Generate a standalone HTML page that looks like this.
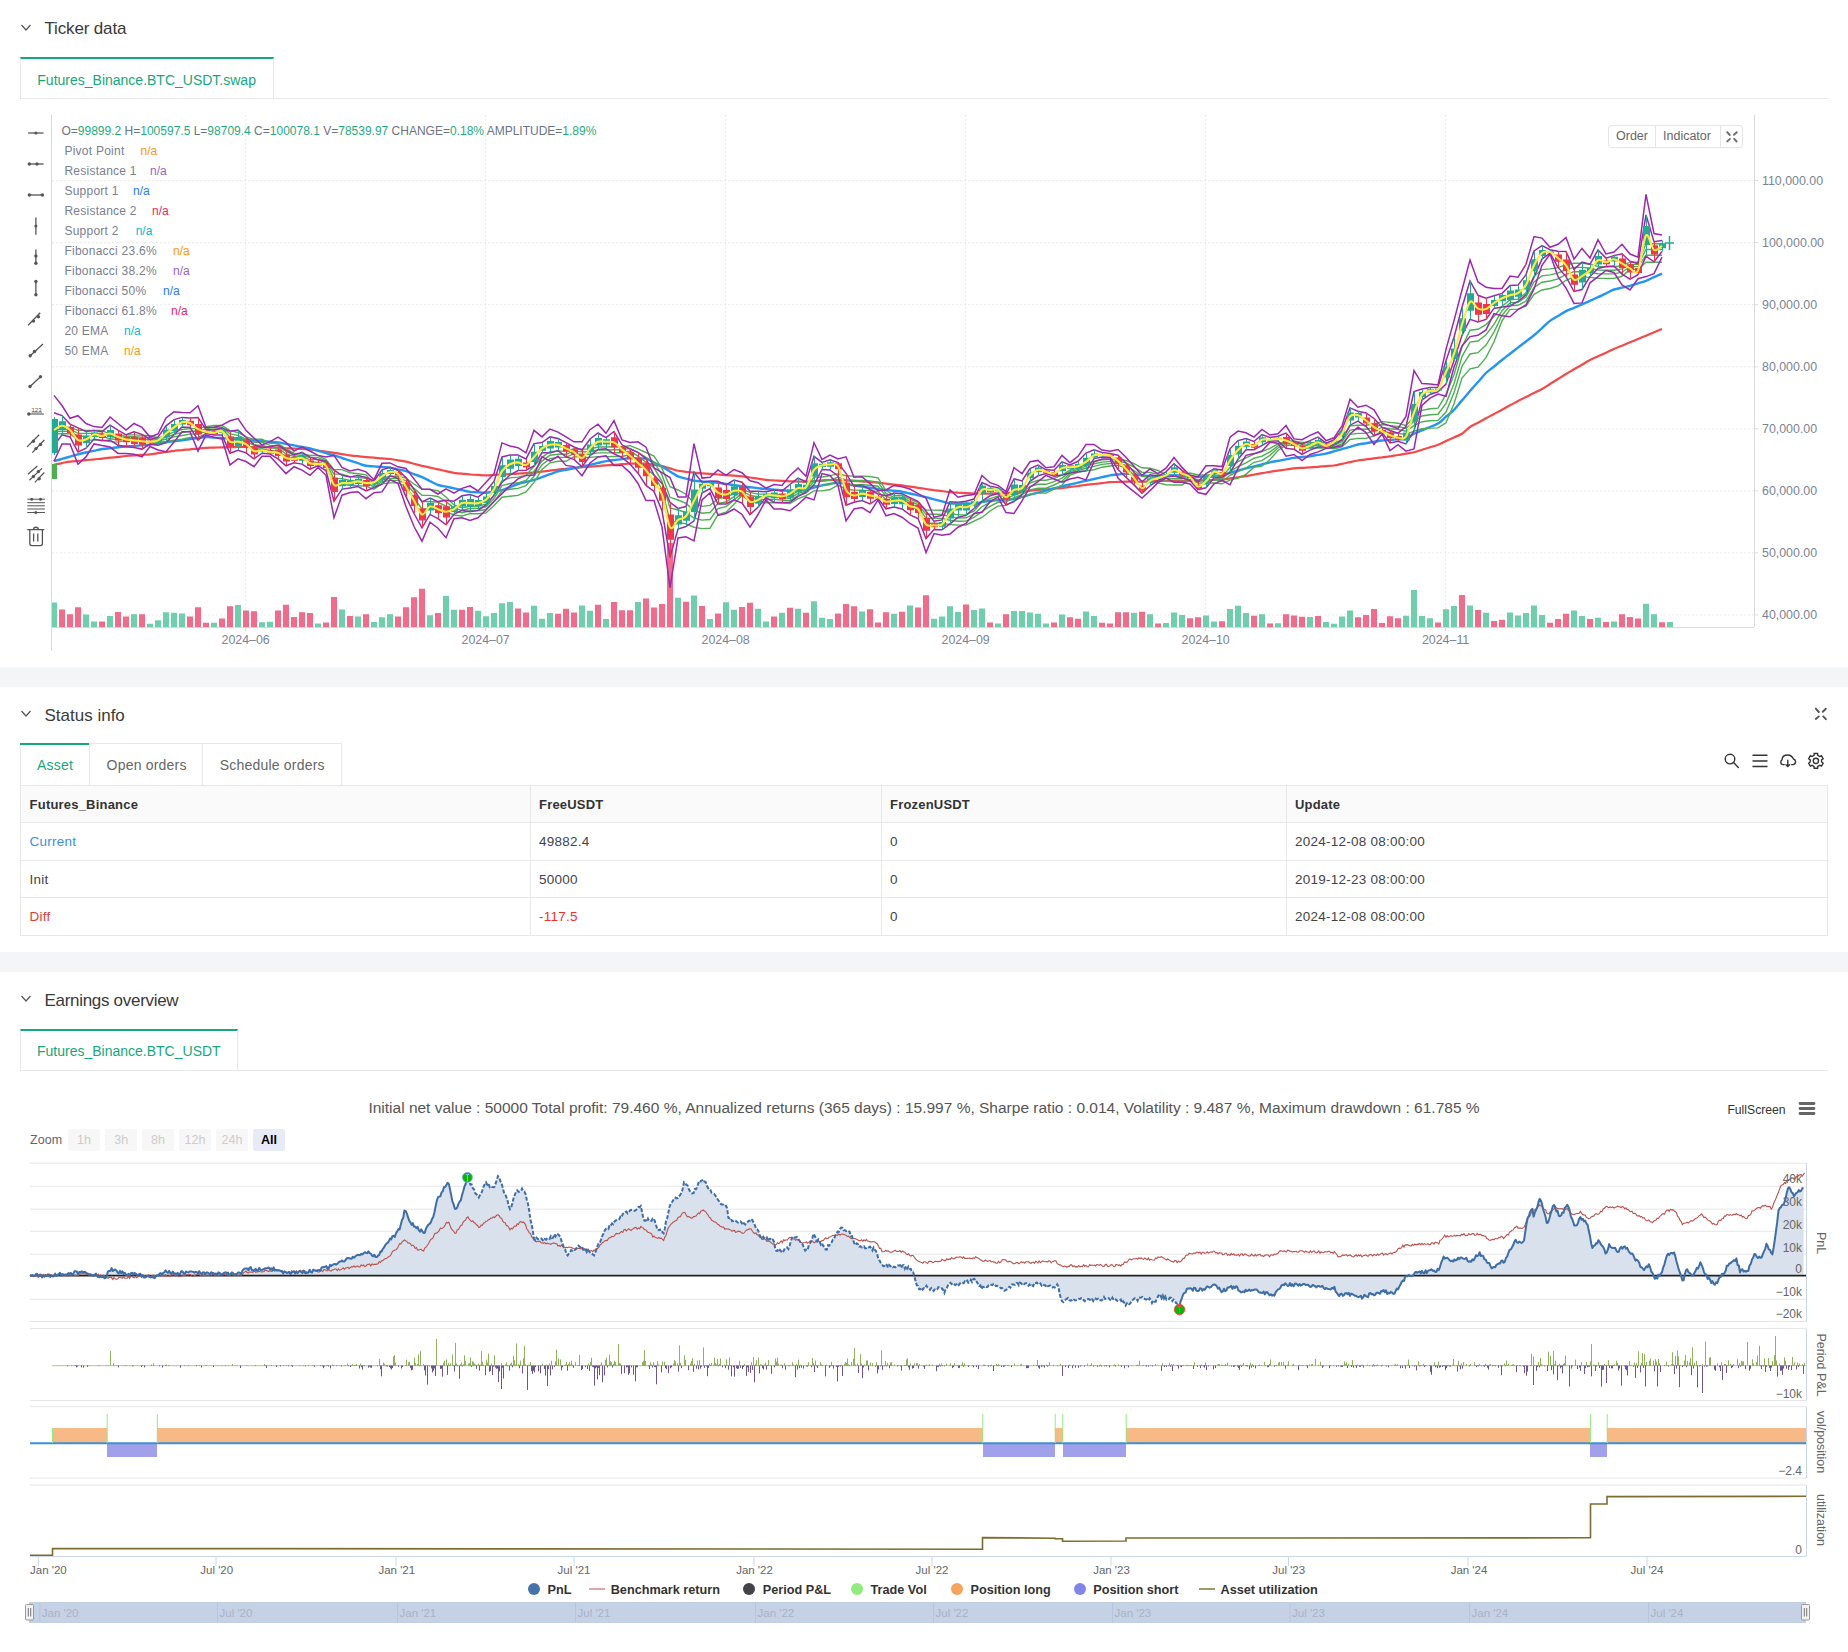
<!DOCTYPE html>
<html><head><meta charset="utf-8"><title>Ticker data</title>
<style>
html,body{margin:0;padding:0;}
body{width:1848px;height:1652px;position:relative;overflow:hidden;background:#fff;font-family:"Liberation Sans", sans-serif;}
.t{position:absolute;white-space:nowrap;line-height:1;}
.r{position:absolute;box-sizing:border-box;}
svg{position:absolute;left:0;top:0;overflow:visible}
</style></head><body>

<div class="r" style="left:0px;top:667px;width:1848px;height:20px;background:#f4f5f7"></div>
<div class="r" style="left:0px;top:952px;width:1848px;height:20px;background:#f4f5f7"></div>
<svg width="40" height="20" style="left:0;top:19.5px"><path d="M21.5 5 L26 10 L30.5 5" fill="none" stroke="#555" stroke-width="1.2"/></svg>
<div class="t" style="left:44.5px;top:19.6px;font-size:17px;color:#3a3a3a;font-weight:normal;letter-spacing:-0.15px">Ticker data</div>
<div class="r" style="left:20px;top:57px;width:254px;height:42px;border-top:2px solid #14a87a;border-left:1px solid #e8e8e8;border-right:1px solid #e8e8e8"></div>
<div class="r" style="left:20px;top:98px;width:1808px;height:1px;background:#e8e8e8"></div>
<div class="t" style="left:37.3px;top:72.5px;font-size:14px;color:#14a87a;font-weight:normal;">Futures_Binance.BTC_USDT.swap</div>
<svg width="40" height="20" style="left:0;top:705.5px"><path d="M21.5 5 L26 10 L30.5 5" fill="none" stroke="#555" stroke-width="1.2"/></svg>
<div class="t" style="left:44.5px;top:706.8px;font-size:17px;color:#3a3a3a;font-weight:normal;letter-spacing:0px">Status info</div>
<div class="r" style="left:20px;top:743px;width:322px;height:43px;border:1px solid #e8e8e8;border-bottom:none"></div>
<div class="r" style="left:20px;top:743px;width:70px;height:2px;background:#14a87a"></div>
<div class="r" style="left:89px;top:743px;width:1px;height:42px;background:#e8e8e8"></div>
<div class="r" style="left:202px;top:743px;width:1px;height:42px;background:#e8e8e8"></div>
<div class="t" style="left:37.0px;top:758.0px;font-size:14px;color:#14a87a;font-weight:normal;letter-spacing:0.2px">Asset</div>
<div class="t" style="left:106.6px;top:758.0px;font-size:14px;color:#666;font-weight:normal;letter-spacing:0.2px">Open orders</div>
<div class="t" style="left:219.8px;top:758.0px;font-size:14px;color:#666;font-weight:normal;letter-spacing:0.2px">Schedule orders</div>
<svg width="1848" height="80" style="left:0;top:700px"><g fill="none" stroke="#555" stroke-width="1.9" stroke-linecap="round"><path d="M1815.8,8.6 L1818.8,12 M1825.9,8.8 L1822.8,11.8 M1815.8,19 L1818.8,16.4 M1825.9,19.2 L1823.2,16.4"/></g><g fill="none" stroke="#333" stroke-width="1.4" stroke-linecap="round"><circle cx="1730" cy="59.1" r="4.8"/><path d="M1733.6,62.6 L1738.3,67.4"/><path d="M1753,55.3 H1767 M1753,61 H1767 M1753,66.5 H1767"/><path d="M1784.2,64.6 H1782.8 C1780.4,64.6 1780.2,60.8 1782,59.8 C1782.2,56.5 1784.8,55 1787.8,55 C1790.8,55 1792.6,57.2 1793.5,59 C1796.2,59.6 1796.4,64.2 1793,64.6 H1791.6"/><path d="M1787.8,60.2 V66.5 M1786,64.7 L1787.8,66.6 L1789.6,64.7"/><path d="M1814.01,55.42 L1814.19,53.49 L1817.61,53.49 L1817.79,55.42 L1819.71,56.52 L1821.46,55.72 L1823.17,58.68 L1821.59,59.79 L1821.59,62.01 L1823.17,63.12 L1821.46,66.08 L1819.71,65.28 L1817.79,66.38 L1817.61,68.31 L1814.19,68.31 L1814.01,66.38 L1812.09,65.28 L1810.34,66.08 L1808.63,63.12 L1810.21,62.01 L1810.21,59.79 L1808.63,58.68 L1810.34,55.72 L1812.09,56.52 Z"/><circle cx="1815.9" cy="60.9" r="2.6"/></g></svg>
<div class="r" style="left:20px;top:785px;width:1808px;height:151px;border:1px solid #e8e8e8"></div>
<div class="r" style="left:21px;top:786px;width:1806px;height:36px;background:#fafafa"></div>
<div class="r" style="left:20px;top:822px;width:1808px;height:1px;background:#e8e8e8"></div>
<div class="r" style="left:20px;top:860px;width:1808px;height:1px;background:#e8e8e8"></div>
<div class="r" style="left:20px;top:897px;width:1808px;height:1px;background:#e8e8e8"></div>
<div class="r" style="left:530px;top:785px;width:1px;height:151px;background:#e8e8e8"></div>
<div class="r" style="left:881px;top:785px;width:1px;height:151px;background:#e8e8e8"></div>
<div class="r" style="left:1286px;top:785px;width:1px;height:151px;background:#e8e8e8"></div>
<div class="t" style="left:29.6px;top:797.8px;font-size:13px;color:#333;font-weight:bold;letter-spacing:0.2px">Futures_Binance</div>
<div class="t" style="left:539.0px;top:797.8px;font-size:13px;color:#333;font-weight:bold;letter-spacing:0.2px">FreeUSDT</div>
<div class="t" style="left:890.0px;top:797.8px;font-size:13px;color:#333;font-weight:bold;letter-spacing:0.2px">FrozenUSDT</div>
<div class="t" style="left:1295.0px;top:797.8px;font-size:13px;color:#333;font-weight:bold;letter-spacing:0.2px">Update</div>
<div class="t" style="left:29.6px;top:834.6px;font-size:13.5px;color:#3b8fe0;font-weight:normal;letter-spacing:0.25px">Current</div>
<div class="t" style="left:539.0px;top:834.6px;font-size:13.5px;color:#444;font-weight:normal;letter-spacing:0.25px">49882.4</div>
<div class="t" style="left:890.0px;top:834.6px;font-size:13.5px;color:#444;font-weight:normal;letter-spacing:0.25px">0</div>
<div class="t" style="left:1295.0px;top:834.6px;font-size:13.5px;color:#444;font-weight:normal;letter-spacing:0.25px">2024-12-08 08:00:00</div>
<div class="t" style="left:29.6px;top:872.6px;font-size:13.5px;color:#444;font-weight:normal;letter-spacing:0.25px">Init</div>
<div class="t" style="left:539.0px;top:872.6px;font-size:13.5px;color:#444;font-weight:normal;letter-spacing:0.25px">50000</div>
<div class="t" style="left:890.0px;top:872.6px;font-size:13.5px;color:#444;font-weight:normal;letter-spacing:0.25px">0</div>
<div class="t" style="left:1295.0px;top:872.6px;font-size:13.5px;color:#444;font-weight:normal;letter-spacing:0.25px">2019-12-23 08:00:00</div>
<div class="t" style="left:29.6px;top:909.6px;font-size:13.5px;color:#e0403a;font-weight:normal;letter-spacing:0.25px">Diff</div>
<div class="t" style="left:539.0px;top:909.6px;font-size:13.5px;color:#f0302a;font-weight:normal;letter-spacing:0.25px">-117.5</div>
<div class="t" style="left:890.0px;top:909.6px;font-size:13.5px;color:#444;font-weight:normal;letter-spacing:0.25px">0</div>
<div class="t" style="left:1295.0px;top:909.6px;font-size:13.5px;color:#444;font-weight:normal;letter-spacing:0.25px">2024-12-08 08:00:00</div>
<svg width="40" height="20" style="left:0;top:991px"><path d="M21.5 5 L26 10 L30.5 5" fill="none" stroke="#555" stroke-width="1.2"/></svg>
<div class="t" style="left:44.5px;top:991.6px;font-size:17px;color:#3a3a3a;font-weight:normal;letter-spacing:-0.3px">Earnings overview</div>
<div class="r" style="left:20px;top:1029px;width:218px;height:42px;border-top:2px solid #14a87a;border-left:1px solid #e8e8e8;border-right:1px solid #e8e8e8"></div>
<div class="r" style="left:20px;top:1070px;width:1808px;height:1px;background:#e8e8e8"></div>
<div class="t" style="left:37.0px;top:1044.1px;font-size:14px;color:#14a87a;font-weight:normal;">Futures_Binance.BTC_USDT</div>
<svg width="1848" height="667" viewBox="0 0 1848 667" style="left:0;top:0">
<defs><clipPath id="pc"><rect x="52" y="115" width="1702" height="512"/></clipPath></defs>
<path d="M52,180.6 H1754 M52,242.6 H1754 M52,304.7 H1754 M52,366.8 H1754 M52,428.8 H1754 M52,490.9 H1754 M52,552.9 H1754 M52,614.9 H1754 M245.6,115 V627 M485.6,115 V627 M725.6,115 V627 M965.6,115 V627 M1205.6,115 V627 M1445.6,115 V627" stroke="#ebebeb" stroke-width="1" stroke-dasharray="2,2" fill="none"/>
<path d="M51.5,115 V651 M1754.5,115 V627 M52,627.5 H1754" stroke="#d9d9d9" stroke-width="1" fill="none"/>
<path d="M1754,180.6 H1758 M1754,242.6 H1758 M1754,304.7 H1758 M1754,366.8 H1758 M1754,428.8 H1758 M1754,490.9 H1758 M1754,552.9 H1758 M1754,614.9 H1758" stroke="#d9d9d9" stroke-width="1"/>
<path d="M245.6,627 V631 M485.6,627 V631 M725.6,627 V631 M965.6,627 V631 M1205.6,627 V631 M1445.6,627 V631" stroke="#d9d9d9" stroke-width="1"/>
<g clip-path="url(#pc)">
<path d="M51,602.5 h6 V627 h-6 Z M83,614.4 h6 V627 h-6 Z M91,621.4 h6 V627 h-6 Z M107,616.0 h6 V627 h-6 Z M131,614.2 h6 V627 h-6 Z M147,623.8 h6 V627 h-6 Z M155,620.3 h6 V627 h-6 Z M163,612.3 h6 V627 h-6 Z M171,612.7 h6 V627 h-6 Z M179,613.4 h6 V627 h-6 Z M211,622.7 h6 V627 h-6 Z M235,605.1 h6 V627 h-6 Z M259,622.2 h6 V627 h-6 Z M267,621.8 h6 V627 h-6 Z M315,623.5 h6 V627 h-6 Z M339,609.5 h6 V627 h-6 Z M355,616.4 h6 V627 h-6 Z M371,622.0 h6 V627 h-6 Z M379,617.3 h6 V627 h-6 Z M387,614.2 h6 V627 h-6 Z M427,615.3 h6 V627 h-6 Z M443,596.0 h6 V627 h-6 Z M451,609.7 h6 V627 h-6 Z M475,610.8 h6 V627 h-6 Z M483,616.2 h6 V627 h-6 Z M491,612.9 h6 V627 h-6 Z M499,603.2 h6 V627 h-6 Z M507,601.9 h6 V627 h-6 Z M531,605.8 h6 V627 h-6 Z M539,618.8 h6 V627 h-6 Z M547,612.9 h6 V627 h-6 Z M579,605.4 h6 V627 h-6 Z M587,610.8 h6 V627 h-6 Z M603,619.0 h6 V627 h-6 Z M635,601.9 h6 V627 h-6 Z M675,597.8 h6 V627 h-6 Z M691,595.6 h6 V627 h-6 Z M707,619.0 h6 V627 h-6 Z M723,602.3 h6 V627 h-6 Z M731,609.7 h6 V627 h-6 Z M755,608.8 h6 V627 h-6 Z M763,621.6 h6 V627 h-6 Z M779,612.7 h6 V627 h-6 Z M795,608.8 h6 V627 h-6 Z M811,601.2 h6 V627 h-6 Z M819,617.7 h6 V627 h-6 Z M827,619.0 h6 V627 h-6 Z M859,611.4 h6 V627 h-6 Z M891,613.8 h6 V627 h-6 Z M907,605.4 h6 V627 h-6 Z M931,618.8 h6 V627 h-6 Z M939,616.4 h6 V627 h-6 Z M947,606.2 h6 V627 h-6 Z M955,612.1 h6 V627 h-6 Z M971,609.9 h6 V627 h-6 Z M979,608.6 h6 V627 h-6 Z M995,623.5 h6 V627 h-6 Z M1011,611.0 h6 V627 h-6 Z M1019,611.0 h6 V627 h-6 Z M1027,612.5 h6 V627 h-6 Z M1035,613.8 h6 V627 h-6 Z M1043,623.5 h6 V627 h-6 Z M1059,614.4 h6 V627 h-6 Z M1083,611.4 h6 V627 h-6 Z M1091,616.0 h6 V627 h-6 Z M1131,612.7 h6 V627 h-6 Z M1147,614.2 h6 V627 h-6 Z M1163,622.9 h6 V627 h-6 Z M1171,612.5 h6 V627 h-6 Z M1179,615.1 h6 V627 h-6 Z M1203,615.5 h6 V627 h-6 Z M1211,621.6 h6 V627 h-6 Z M1227,609.0 h6 V627 h-6 Z M1235,605.8 h6 V627 h-6 Z M1243,612.9 h6 V627 h-6 Z M1259,614.2 h6 V627 h-6 Z M1275,623.3 h6 V627 h-6 Z M1307,617.0 h6 V627 h-6 Z M1323,622.1 h6 V627 h-6 Z M1331,623.7 h6 V627 h-6 Z M1339,616.5 h6 V627 h-6 Z M1347,610.5 h6 V627 h-6 Z M1403,615.8 h6 V627 h-6 Z M1411,590.0 h6 V627 h-6 Z M1419,616.1 h6 V627 h-6 Z M1427,618.2 h6 V627 h-6 Z M1443,609.3 h6 V627 h-6 Z M1451,606.1 h6 V627 h-6 Z M1467,605.4 h6 V627 h-6 Z M1483,612.8 h6 V627 h-6 Z M1507,612.6 h6 V627 h-6 Z M1515,615.4 h6 V627 h-6 Z M1523,613.0 h6 V627 h-6 Z M1531,605.6 h6 V627 h-6 Z M1539,614.9 h6 V627 h-6 Z M1571,610.5 h6 V627 h-6 Z M1579,616.1 h6 V627 h-6 Z M1595,617.7 h6 V627 h-6 Z M1611,621.4 h6 V627 h-6 Z M1643,603.7 h6 V627 h-6 Z M1651,614.2 h6 V627 h-6 Z M1667,621.9 h6 V627 h-6 Z" fill="#6dcfac"/>
<path d="M59,609.5 h6 V627 h-6 Z M67,614.2 h6 V627 h-6 Z M75,607.3 h6 V627 h-6 Z M99,621.4 h6 V627 h-6 Z M115,612.1 h6 V627 h-6 Z M123,616.6 h6 V627 h-6 Z M139,614.2 h6 V627 h-6 Z M187,616.6 h6 V627 h-6 Z M195,607.3 h6 V627 h-6 Z M203,622.7 h6 V627 h-6 Z M219,618.6 h6 V627 h-6 Z M227,606.2 h6 V627 h-6 Z M243,610.5 h6 V627 h-6 Z M251,611.2 h6 V627 h-6 Z M275,610.5 h6 V627 h-6 Z M283,604.7 h6 V627 h-6 Z M291,617.0 h6 V627 h-6 Z M299,612.3 h6 V627 h-6 Z M307,613.1 h6 V627 h-6 Z M323,622.5 h6 V627 h-6 Z M331,597.1 h6 V627 h-6 Z M347,616.0 h6 V627 h-6 Z M363,614.2 h6 V627 h-6 Z M395,616.4 h6 V627 h-6 Z M403,607.3 h6 V627 h-6 Z M411,597.3 h6 V627 h-6 Z M419,588.7 h6 V627 h-6 Z M435,613.1 h6 V627 h-6 Z M459,609.7 h6 V627 h-6 Z M467,607.1 h6 V627 h-6 Z M515,608.4 h6 V627 h-6 Z M523,612.5 h6 V627 h-6 Z M555,613.8 h6 V627 h-6 Z M563,608.8 h6 V627 h-6 Z M571,612.5 h6 V627 h-6 Z M595,604.7 h6 V627 h-6 Z M611,601.9 h6 V627 h-6 Z M619,610.3 h6 V627 h-6 Z M627,610.3 h6 V627 h-6 Z M643,598.6 h6 V627 h-6 Z M651,607.5 h6 V627 h-6 Z M659,604.1 h6 V627 h-6 Z M667,542.7 h6 V627 h-6 Z M683,601.7 h6 V627 h-6 Z M699,606.0 h6 V627 h-6 Z M715,613.4 h6 V627 h-6 Z M739,607.1 h6 V627 h-6 Z M747,602.8 h6 V627 h-6 Z M771,616.6 h6 V627 h-6 Z M787,607.7 h6 V627 h-6 Z M803,612.7 h6 V627 h-6 Z M835,613.6 h6 V627 h-6 Z M843,604.1 h6 V627 h-6 Z M851,606.2 h6 V627 h-6 Z M867,609.3 h6 V627 h-6 Z M875,622.5 h6 V627 h-6 Z M883,612.3 h6 V627 h-6 Z M899,611.8 h6 V627 h-6 Z M915,607.5 h6 V627 h-6 Z M923,595.2 h6 V627 h-6 Z M963,604.5 h6 V627 h-6 Z M987,622.5 h6 V627 h-6 Z M1003,614.2 h6 V627 h-6 Z M1051,622.5 h6 V627 h-6 Z M1067,617.3 h6 V627 h-6 Z M1075,618.8 h6 V627 h-6 Z M1099,622.7 h6 V627 h-6 Z M1107,623.5 h6 V627 h-6 Z M1115,612.3 h6 V627 h-6 Z M1123,612.3 h6 V627 h-6 Z M1139,611.8 h6 V627 h-6 Z M1155,623.5 h6 V627 h-6 Z M1187,618.3 h6 V627 h-6 Z M1195,617.3 h6 V627 h-6 Z M1219,621.2 h6 V627 h-6 Z M1251,615.8 h6 V627 h-6 Z M1267,623.5 h6 V627 h-6 Z M1283,614.2 h6 V627 h-6 Z M1291,615.4 h6 V627 h-6 Z M1299,616.8 h6 V627 h-6 Z M1315,616.1 h6 V627 h-6 Z M1355,617.2 h6 V627 h-6 Z M1363,615.1 h6 V627 h-6 Z M1371,609.1 h6 V627 h-6 Z M1379,623.0 h6 V627 h-6 Z M1387,616.3 h6 V627 h-6 Z M1395,618.2 h6 V627 h-6 Z M1435,622.6 h6 V627 h-6 Z M1459,595.1 h6 V627 h-6 Z M1475,610.0 h6 V627 h-6 Z M1491,621.0 h6 V627 h-6 Z M1499,619.8 h6 V627 h-6 Z M1547,622.8 h6 V627 h-6 Z M1555,619.1 h6 V627 h-6 Z M1563,613.7 h6 V627 h-6 Z M1587,619.1 h6 V627 h-6 Z M1603,622.1 h6 V627 h-6 Z M1619,614.2 h6 V627 h-6 Z M1627,617.0 h6 V627 h-6 Z M1635,618.6 h6 V627 h-6 Z M1659,622.3 h6 V627 h-6 Z" fill="#f46a8a"/>
<path d="M54.0,464.7 C55.3,464.4 59.3,463.7 62.0,463.1 C64.7,462.6 67.3,462.0 70.0,461.6 C72.7,461.2 75.3,461.1 78.0,460.9 C80.7,460.6 83.3,460.4 86.0,460.1 C88.7,459.9 91.3,459.6 94.0,459.4 C96.7,459.1 99.3,458.9 102.0,458.6 C104.7,458.3 107.3,458.0 110.0,457.7 C112.7,457.4 115.3,457.2 118.0,456.9 C120.7,456.6 123.3,456.2 126.0,456.0 C128.7,455.8 131.3,455.6 134.0,455.4 C136.7,455.2 139.3,455.1 142.0,454.9 C144.7,454.7 147.3,454.6 150.0,454.3 C152.7,454.0 155.3,453.5 158.0,453.1 C160.7,452.7 163.3,452.4 166.0,452.0 C168.7,451.6 171.3,451.1 174.0,450.8 C176.7,450.5 179.3,450.3 182.0,450.1 C184.7,449.8 187.3,449.6 190.0,449.3 C192.7,449.1 195.3,448.8 198.0,448.6 C200.7,448.3 203.3,448.0 206.0,447.8 C208.7,447.6 211.3,447.7 214.0,447.6 C216.7,447.5 219.3,447.5 222.0,447.4 C224.7,447.3 227.3,447.3 230.0,447.2 C232.7,447.1 235.3,447.1 238.0,447.0 C240.7,446.9 243.3,446.8 246.0,446.8 C248.7,446.8 251.3,446.9 254.0,447.0 C256.7,447.1 259.3,447.1 262.0,447.2 C264.7,447.3 267.3,447.3 270.0,447.4 C272.7,447.5 275.3,447.5 278.0,447.6 C280.7,447.7 283.3,447.9 286.0,448.1 C288.7,448.2 291.3,448.4 294.0,448.5 C296.7,448.6 299.3,448.8 302.0,448.9 C304.7,449.1 307.3,449.1 310.0,449.4 C312.7,449.7 315.3,450.2 318.0,450.5 C320.7,450.9 323.3,451.3 326.0,451.7 C328.7,452.0 331.3,452.4 334.0,452.8 C336.7,453.2 339.3,453.7 342.0,454.1 C344.7,454.5 347.3,455.0 350.0,455.4 C352.7,455.8 355.3,456.0 358.0,456.2 C360.7,456.5 363.3,456.9 366.0,457.1 C368.7,457.3 371.3,457.5 374.0,457.7 C376.7,457.9 379.3,458.2 382.0,458.4 C384.7,458.6 387.3,458.7 390.0,459.0 C392.7,459.3 395.3,459.9 398.0,460.3 C400.7,460.7 403.3,461.0 406.0,461.6 C408.7,462.2 411.3,463.0 414.0,463.8 C416.7,464.5 419.3,465.2 422.0,465.9 C424.7,466.5 427.3,467.1 430.0,467.6 C432.7,468.2 435.3,468.8 438.0,469.4 C440.7,470.0 443.3,470.5 446.0,471.1 C448.7,471.7 451.3,472.4 454.0,472.8 C456.7,473.2 459.3,473.4 462.0,473.6 C464.7,473.9 467.3,474.3 470.0,474.5 C472.7,474.7 475.3,474.8 478.0,474.9 C480.7,475.1 483.3,475.4 486.0,475.4 C488.7,475.4 491.3,475.1 494.0,474.9 C496.7,474.8 499.3,474.6 502.0,474.5 C504.7,474.4 507.3,474.2 510.0,474.1 C512.7,474.0 515.3,473.9 518.0,473.7 C520.7,473.5 523.3,473.3 526.0,473.1 C528.7,473.0 531.3,472.9 534.0,472.6 C536.7,472.3 539.3,471.9 542.0,471.6 C544.7,471.3 547.3,470.9 550.0,470.6 C552.7,470.3 555.3,469.9 558.0,469.6 C560.7,469.3 563.3,469.1 566.0,468.8 C568.7,468.5 571.3,468.3 574.0,468.0 C576.7,467.7 579.3,467.4 582.0,467.2 C584.7,467.0 587.3,466.8 590.0,466.6 C592.7,466.4 595.3,466.2 598.0,466.0 C600.7,465.8 603.3,465.6 606.0,465.4 C608.7,465.2 611.3,465.0 614.0,464.8 C616.7,464.6 619.3,464.4 622.0,464.2 C624.7,464.0 627.3,463.7 630.0,463.6 C632.7,463.5 635.3,463.6 638.0,463.6 C640.7,463.6 643.3,463.4 646.0,463.6 C648.7,463.8 651.3,464.4 654.0,464.8 C656.7,465.2 659.3,465.4 662.0,466.0 C664.7,466.6 667.3,467.6 670.0,468.4 C672.7,469.2 675.3,470.2 678.0,470.8 C680.7,471.4 683.3,471.4 686.0,471.8 C688.7,472.1 691.3,472.4 694.0,472.7 C696.7,473.0 699.3,473.1 702.0,473.3 C704.7,473.5 707.3,473.7 710.0,473.9 C712.7,474.1 715.3,474.3 718.0,474.5 C720.7,474.7 723.3,474.9 726.0,475.1 C728.7,475.3 731.3,475.5 734.0,475.7 C736.7,475.9 739.3,476.0 742.0,476.3 C744.7,476.6 747.3,477.1 750.0,477.5 C752.7,477.9 755.3,478.3 758.0,478.7 C760.7,479.1 763.3,479.6 766.0,479.9 C768.7,480.2 771.3,480.2 774.0,480.4 C776.7,480.5 779.3,480.7 782.0,480.8 C784.7,481.0 787.3,481.2 790.0,481.3 C792.7,481.4 795.3,481.5 798.0,481.6 C800.7,481.6 803.3,481.9 806.0,481.8 C808.7,481.7 811.3,481.3 814.0,481.1 C816.7,480.9 819.3,480.6 822.0,480.4 C824.7,480.2 827.3,480.2 830.0,480.1 C832.7,480.1 835.3,479.9 838.0,479.9 C840.7,479.9 843.3,480.2 846.0,480.4 C848.7,480.5 851.3,480.6 854.0,480.8 C856.7,481.0 859.3,481.2 862.0,481.4 C864.7,481.6 867.3,481.9 870.0,482.1 C872.7,482.3 875.3,482.4 878.0,482.7 C880.7,483.0 883.3,483.3 886.0,483.6 C888.7,483.9 891.3,484.2 894.0,484.5 C896.7,484.8 899.3,485.0 902.0,485.4 C904.7,485.8 907.3,486.2 910.0,486.6 C912.7,487.0 915.3,487.4 918.0,487.8 C920.7,488.2 923.3,488.6 926.0,489.0 C928.7,489.4 931.3,489.7 934.0,490.1 C936.7,490.4 939.3,490.8 942.0,491.1 C944.7,491.5 947.3,491.9 950.0,492.2 C952.7,492.5 955.3,492.5 958.0,492.7 C960.7,492.8 963.3,493.0 966.0,493.1 C968.7,493.3 971.3,493.5 974.0,493.6 C976.7,493.7 979.3,493.6 982.0,493.6 C984.7,493.6 987.3,493.7 990.0,493.6 C992.7,493.5 995.3,493.4 998.0,493.3 C1000.7,493.2 1003.3,493.0 1006.0,492.9 C1008.7,492.8 1011.3,492.8 1014.0,492.6 C1016.7,492.4 1019.3,492.0 1022.0,491.7 C1024.7,491.4 1027.3,491.1 1030.0,490.8 C1032.7,490.5 1035.3,490.1 1038.0,489.9 C1040.7,489.6 1043.3,489.5 1046.0,489.3 C1048.7,489.1 1051.3,488.9 1054.0,488.7 C1056.7,488.5 1059.3,488.4 1062.0,488.1 C1064.7,487.8 1067.3,487.4 1070.0,487.0 C1072.7,486.7 1075.3,486.3 1078.0,486.0 C1080.7,485.6 1083.3,485.2 1086.0,484.9 C1088.7,484.6 1091.3,484.3 1094.0,484.0 C1096.7,483.7 1099.3,483.4 1102.0,483.1 C1104.7,482.8 1107.3,482.4 1110.0,482.2 C1112.7,482.0 1115.3,482.0 1118.0,481.9 C1120.7,481.9 1123.3,481.7 1126.0,481.7 C1128.7,481.7 1131.3,481.7 1134.0,481.7 C1136.7,481.7 1139.3,481.8 1142.0,481.7 C1144.7,481.6 1147.3,481.4 1150.0,481.2 C1152.7,481.1 1155.3,480.9 1158.0,480.8 C1160.7,480.7 1163.3,480.8 1166.0,480.9 C1168.7,480.9 1171.3,480.9 1174.0,480.9 C1176.7,480.9 1179.3,480.9 1182.0,480.9 C1184.7,480.9 1187.3,480.9 1190.0,480.9 C1192.7,480.9 1195.3,481.0 1198.0,480.9 C1200.7,480.8 1203.3,480.6 1206.0,480.5 C1208.7,480.3 1211.3,480.2 1214.0,480.0 C1216.7,479.9 1219.3,479.9 1222.0,479.6 C1224.7,479.3 1227.3,478.8 1230.0,478.4 C1232.7,478.0 1235.3,477.7 1238.0,477.3 C1240.7,476.9 1243.3,476.5 1246.0,476.1 C1248.7,475.7 1251.3,475.1 1254.0,474.7 C1256.7,474.2 1259.3,473.7 1262.0,473.2 C1264.7,472.8 1267.3,472.2 1270.0,471.8 C1272.7,471.4 1275.3,471.0 1278.0,470.6 C1280.7,470.2 1283.3,469.9 1286.0,469.5 C1288.7,469.1 1291.3,468.6 1294.0,468.3 C1296.7,468.0 1299.3,468.0 1302.0,467.9 C1304.7,467.7 1307.3,467.6 1310.0,467.4 C1312.7,467.2 1315.3,467.0 1318.0,466.8 C1320.7,466.6 1323.3,466.3 1326.0,466.1 C1328.7,465.9 1331.3,465.9 1334.0,465.5 C1336.7,465.1 1339.3,464.4 1342.0,463.8 C1344.7,463.3 1347.3,462.7 1350.0,462.2 C1352.7,461.6 1355.3,461.0 1358.0,460.5 C1360.7,460.0 1363.3,459.8 1366.0,459.4 C1368.7,459.1 1371.3,458.8 1374.0,458.4 C1376.7,458.0 1379.3,457.7 1382.0,457.4 C1384.7,457.0 1387.3,456.7 1390.0,456.3 C1392.7,455.9 1395.3,455.4 1398.0,455.0 C1400.7,454.5 1403.3,454.1 1406.0,453.6 C1408.7,453.2 1411.3,452.9 1414.0,452.3 C1416.7,451.7 1419.3,450.6 1422.0,449.8 C1424.7,448.9 1427.3,448.1 1430.0,447.2 C1432.7,446.4 1435.3,445.7 1438.0,444.7 C1440.7,443.7 1443.3,442.3 1446.0,441.0 C1448.7,439.8 1451.3,438.6 1454.0,437.4 C1456.7,436.1 1459.3,435.4 1462.0,433.7 C1464.7,432.0 1467.3,428.8 1470.0,427.0 C1472.7,425.2 1475.3,424.1 1478.0,422.7 C1480.7,421.2 1483.3,419.8 1486.0,418.3 C1488.7,416.9 1491.3,415.4 1494.0,414.0 C1496.7,412.6 1499.3,411.1 1502.0,409.7 C1504.7,408.2 1507.3,406.8 1510.0,405.3 C1512.7,403.9 1515.3,402.4 1518.0,401.0 C1520.7,399.6 1523.3,398.3 1526.0,397.0 C1528.7,395.7 1531.3,394.3 1534.0,393.0 C1536.7,391.7 1539.3,390.5 1542.0,389.0 C1544.7,387.5 1547.3,385.7 1550.0,384.0 C1552.7,382.3 1555.3,380.7 1558.0,379.0 C1560.7,377.3 1563.3,375.6 1566.0,374.0 C1568.7,372.4 1571.3,370.9 1574.0,369.3 C1576.7,367.8 1579.3,366.2 1582.0,364.7 C1584.7,363.1 1587.3,361.4 1590.0,360.0 C1592.7,358.6 1595.3,357.6 1598.0,356.3 C1600.7,355.1 1603.3,353.9 1606.0,352.7 C1608.7,351.4 1611.3,350.2 1614.0,349.0 C1616.7,347.8 1619.3,346.8 1622.0,345.7 C1624.7,344.6 1627.3,343.4 1630.0,342.3 C1632.7,341.2 1635.3,340.1 1638.0,339.0 C1640.7,337.9 1643.3,336.8 1646.0,335.7 C1648.7,334.6 1651.3,333.4 1654.0,332.3 C1656.7,331.2 1660.7,329.6 1662.0,329.0" stroke="#f44a4a" stroke-width="2.2" fill="none"/>
<path d="M54.0,461.2 C55.3,460.8 59.3,459.7 62.0,458.9 C64.7,458.1 67.3,457.4 70.0,456.6 C72.7,455.8 75.3,455.0 78.0,454.3 C80.7,453.6 83.3,453.1 86.0,452.5 C88.7,451.9 91.3,451.4 94.0,450.8 C96.7,450.2 99.3,449.4 102.0,449.0 C104.7,448.6 107.3,448.4 110.0,448.2 C112.7,447.9 115.3,447.6 118.0,447.3 C120.7,447.1 123.3,446.7 126.0,446.5 C128.7,446.3 131.3,446.1 134.0,445.9 C136.7,445.7 139.3,445.5 142.0,445.3 C144.7,445.1 147.3,445.0 150.0,444.7 C152.7,444.4 155.3,443.9 158.0,443.6 C160.7,443.2 163.3,442.8 166.0,442.4 C168.7,442.1 171.3,441.7 174.0,441.3 C176.7,440.9 179.3,440.6 182.0,440.2 C184.7,439.9 187.3,439.5 190.0,439.1 C192.7,438.8 195.3,438.4 198.0,438.1 C200.7,437.7 203.3,437.1 206.0,437.0 C208.7,436.9 211.3,437.4 214.0,437.6 C216.7,437.7 219.3,437.9 222.0,438.1 C224.7,438.3 227.3,438.5 230.0,438.7 C232.7,438.9 235.3,439.1 238.0,439.2 C240.7,439.4 243.3,439.6 246.0,439.8 C248.7,440.0 251.3,440.2 254.0,440.5 C256.7,440.7 259.3,440.9 262.0,441.1 C264.7,441.3 267.3,441.5 270.0,441.7 C272.7,442.0 275.3,442.0 278.0,442.4 C280.7,442.8 283.3,443.4 286.0,443.9 C288.7,444.4 291.3,444.9 294.0,445.4 C296.7,446.0 299.3,446.5 302.0,447.0 C304.7,447.5 307.3,447.9 310.0,448.5 C312.7,449.1 315.3,450.0 318.0,450.8 C320.7,451.6 323.3,452.3 326.0,453.1 C328.7,453.9 331.3,454.6 334.0,455.4 C336.7,456.2 339.3,457.1 342.0,458.0 C344.7,458.9 347.3,459.7 350.0,460.6 C352.7,461.5 355.3,462.3 358.0,463.2 C360.7,464.1 363.3,465.3 366.0,465.8 C368.7,466.3 371.3,466.2 374.0,466.4 C376.7,466.6 379.3,466.8 382.0,467.0 C384.7,467.2 387.3,467.2 390.0,467.6 C392.7,468.0 395.3,468.8 398.0,469.4 C400.7,469.9 403.3,470.3 406.0,471.1 C408.7,471.9 411.3,473.1 414.0,474.1 C416.7,475.1 419.3,475.9 422.0,477.1 C424.7,478.3 427.3,479.7 430.0,481.1 C432.7,482.4 435.3,484.1 438.0,485.0 C440.7,485.9 443.3,486.1 446.0,486.7 C448.7,487.3 451.3,487.8 454.0,488.4 C456.7,489.0 459.3,489.6 462.0,490.1 C464.7,490.7 467.3,491.5 470.0,491.9 C472.7,492.3 475.3,492.2 478.0,492.3 C480.7,492.4 483.3,492.8 486.0,492.7 C488.7,492.6 491.3,491.8 494.0,491.4 C496.7,491.0 499.3,490.8 502.0,490.1 C504.7,489.4 507.3,488.1 510.0,487.1 C512.7,486.0 515.3,484.9 518.0,484.0 C520.7,483.1 523.3,482.6 526.0,481.9 C528.7,481.3 531.3,480.7 534.0,479.9 C536.7,479.1 539.3,478.0 542.0,477.1 C544.7,476.1 547.3,475.2 550.0,474.2 C552.7,473.3 555.3,472.1 558.0,471.4 C560.7,470.7 563.3,470.3 566.0,469.8 C568.7,469.3 571.3,468.7 574.0,468.2 C576.7,467.7 579.3,467.2 582.0,466.6 C584.7,466.0 587.3,465.4 590.0,464.8 C592.7,464.2 595.3,463.5 598.0,462.9 C600.7,462.3 603.3,461.6 606.0,461.1 C608.7,460.6 611.3,460.4 614.0,460.1 C616.7,459.8 619.3,459.4 622.0,459.1 C624.7,458.8 627.3,458.2 630.0,458.1 C632.7,458.0 635.3,458.3 638.0,458.4 C640.7,458.5 643.3,458.0 646.0,458.7 C648.7,459.4 651.3,461.3 654.0,462.6 C656.7,464.0 659.3,465.1 662.0,466.6 C664.7,468.1 667.3,469.8 670.0,471.5 C672.7,473.1 675.3,475.1 678.0,476.3 C680.7,477.5 683.3,477.8 686.0,478.6 C688.7,479.3 691.3,480.3 694.0,480.8 C696.7,481.3 699.3,481.2 702.0,481.4 C704.7,481.6 707.3,481.9 710.0,482.1 C712.7,482.3 715.3,482.4 718.0,482.7 C720.7,483.0 723.3,483.5 726.0,483.9 C728.7,484.3 731.3,484.7 734.0,485.1 C736.7,485.5 739.3,485.9 742.0,486.3 C744.7,486.7 747.3,486.9 750.0,487.2 C752.7,487.5 755.3,487.8 758.0,488.1 C760.7,488.4 763.3,488.8 766.0,489.0 C768.7,489.2 771.3,489.4 774.0,489.6 C776.7,489.8 779.3,490.0 782.0,490.2 C784.7,490.4 787.3,490.8 790.0,490.8 C792.7,490.8 795.3,490.5 798.0,490.4 C800.7,490.2 803.3,490.3 806.0,489.9 C808.7,489.4 811.3,488.4 814.0,487.6 C816.7,486.9 819.3,486.0 822.0,485.4 C824.7,484.8 827.3,484.5 830.0,484.0 C832.7,483.6 835.3,482.7 838.0,482.7 C840.7,482.7 843.3,483.6 846.0,484.0 C848.7,484.5 851.3,485.0 854.0,485.4 C856.7,485.8 859.3,486.2 862.0,486.6 C864.7,487.0 867.3,487.4 870.0,487.8 C872.7,488.2 875.3,488.6 878.0,489.0 C880.7,489.4 883.3,489.6 886.0,489.9 C888.7,490.2 891.3,490.5 894.0,490.8 C896.7,491.1 899.3,491.2 902.0,491.7 C904.7,492.2 907.3,492.9 910.0,493.5 C912.7,494.1 915.3,494.8 918.0,495.4 C920.7,496.0 923.3,496.5 926.0,497.2 C928.7,497.9 931.3,498.6 934.0,499.3 C936.7,500.0 939.3,500.7 942.0,501.4 C944.7,502.1 947.3,503.1 950.0,503.5 C952.7,503.9 955.3,503.5 958.0,503.5 C960.7,503.5 963.3,503.5 966.0,503.5 C968.7,503.5 971.3,503.7 974.0,503.5 C976.7,503.3 979.3,502.6 982.0,502.1 C984.7,501.7 987.3,501.1 990.0,500.8 C992.7,500.5 995.3,500.4 998.0,500.2 C1000.7,500.0 1003.3,499.8 1006.0,499.6 C1008.7,499.4 1011.3,499.5 1014.0,499.0 C1016.7,498.5 1019.3,497.6 1022.0,496.9 C1024.7,496.2 1027.3,495.4 1030.0,494.7 C1032.7,494.0 1035.3,493.3 1038.0,492.6 C1040.7,491.9 1043.3,491.2 1046.0,490.5 C1048.7,489.8 1051.3,489.1 1054.0,488.4 C1056.7,487.7 1059.3,487.0 1062.0,486.3 C1064.7,485.6 1067.3,485.1 1070.0,484.5 C1072.7,483.9 1075.3,483.2 1078.0,482.6 C1080.7,482.0 1083.3,481.4 1086.0,480.8 C1088.7,480.2 1091.3,479.6 1094.0,479.0 C1096.7,478.4 1099.3,477.8 1102.0,477.2 C1104.7,476.6 1107.3,475.8 1110.0,475.4 C1112.7,474.9 1115.3,474.8 1118.0,474.5 C1120.7,474.2 1123.3,473.6 1126.0,473.6 C1128.7,473.6 1131.3,474.2 1134.0,474.5 C1136.7,474.8 1139.3,475.2 1142.0,475.4 C1144.7,475.6 1147.3,475.7 1150.0,475.9 C1152.7,476.0 1155.3,476.3 1158.0,476.3 C1160.7,476.3 1163.3,475.9 1166.0,475.8 C1168.7,475.6 1171.3,475.2 1174.0,475.2 C1176.7,475.2 1179.3,475.6 1182.0,475.8 C1184.7,476.0 1187.3,476.2 1190.0,476.4 C1192.7,476.6 1195.3,477.0 1198.0,477.0 C1200.7,477.0 1203.3,476.6 1206.0,476.4 C1208.7,476.2 1211.3,476.0 1214.0,475.8 C1216.7,475.6 1219.3,475.7 1222.0,475.2 C1224.7,474.7 1227.3,473.7 1230.0,472.9 C1232.7,472.1 1235.3,471.4 1238.0,470.6 C1240.7,469.8 1243.3,469.0 1246.0,468.3 C1248.7,467.6 1251.3,467.0 1254.0,466.3 C1256.7,465.6 1259.3,465.0 1262.0,464.3 C1264.7,463.6 1267.3,462.9 1270.0,462.3 C1272.7,461.7 1275.3,461.3 1278.0,460.8 C1280.7,460.3 1283.3,459.9 1286.0,459.4 C1288.7,458.9 1291.3,458.3 1294.0,457.9 C1296.7,457.5 1299.3,457.3 1302.0,457.0 C1304.7,456.8 1307.3,456.6 1310.0,456.2 C1312.7,455.8 1315.3,455.3 1318.0,454.9 C1320.7,454.5 1323.3,454.2 1326.0,453.6 C1328.7,453.0 1331.3,452.1 1334.0,451.3 C1336.7,450.6 1339.3,449.8 1342.0,449.1 C1344.7,448.3 1347.3,447.5 1350.0,446.8 C1352.7,446.0 1355.3,445.1 1358.0,444.5 C1360.7,443.9 1363.3,443.6 1366.0,443.2 C1368.7,442.7 1371.3,442.3 1374.0,441.8 C1376.7,441.4 1379.3,440.8 1382.0,440.5 C1384.7,440.2 1387.3,440.1 1390.0,439.9 C1392.7,439.7 1395.3,439.6 1398.0,439.4 C1400.7,439.2 1403.3,439.7 1406.0,438.8 C1408.7,437.9 1411.3,435.1 1414.0,433.7 C1416.7,432.3 1419.3,431.5 1422.0,430.3 C1424.7,429.2 1427.3,428.1 1430.0,427.0 C1432.7,425.8 1435.3,425.3 1438.0,423.6 C1440.7,421.9 1443.3,419.0 1446.0,416.7 C1448.7,414.4 1451.3,412.5 1454.0,409.8 C1456.7,407.1 1459.3,403.5 1462.0,400.4 C1464.7,397.3 1467.3,394.1 1470.0,391.0 C1472.7,387.9 1475.3,385.0 1478.0,382.0 C1480.7,379.0 1483.3,375.6 1486.0,373.0 C1488.7,370.4 1491.3,368.7 1494.0,366.5 C1496.7,364.3 1499.3,362.1 1502.0,360.0 C1504.7,357.9 1507.3,355.9 1510.0,353.8 C1512.7,351.8 1515.3,349.7 1518.0,347.6 C1520.7,345.6 1523.3,343.5 1526.0,341.5 C1528.7,339.4 1531.3,337.5 1534.0,335.3 C1536.7,333.1 1539.3,330.5 1542.0,328.1 C1544.7,325.7 1547.3,322.9 1550.0,320.9 C1552.7,318.9 1555.3,317.6 1558.0,316.0 C1560.7,314.4 1563.3,312.5 1566.0,311.1 C1568.7,309.7 1571.3,308.9 1574.0,307.8 C1576.7,306.6 1579.3,305.6 1582.0,304.4 C1584.7,303.2 1587.3,302.0 1590.0,300.8 C1592.7,299.6 1595.3,298.4 1598.0,297.2 C1600.7,296.0 1603.3,294.6 1606.0,293.4 C1608.7,292.1 1611.3,290.4 1614.0,289.5 C1616.7,288.6 1619.3,288.3 1622.0,287.7 C1624.7,287.1 1627.3,286.6 1630.0,285.9 C1632.7,285.2 1635.3,284.2 1638.0,283.4 C1640.7,282.5 1643.3,281.8 1646.0,280.8 C1648.7,279.8 1651.3,278.4 1654.0,277.2 C1656.7,276.0 1660.7,274.2 1662.0,273.6" stroke="#2196f3" stroke-width="2.4" fill="none"/>
<path d="M54,433.9 L62,433.8 L70,433.8 L78,440.1 L86,440.1 L94,440.1 L102,440.1 L110,441.6 L118,442.1 L126,440.4 L134,440.5 L142,441.5 L150,441.5 L158,442.5 L166,441.5 L174,440.1 L182,439.2 L190,437.4 L198,437.4 L206,433.7 L214,431.2 L222,431.2 L230,441.1 L238,441.7 L246,444.1 L254,449.0 L262,449.0 L270,450.5 L278,451.1 L286,456.9 L294,458.6 L302,458.8 L310,462.1 L318,462.1 L326,464.9 L334,484.1 L342,484.1 L350,485.3 L358,485.7 L366,486.1 L374,489.3 L382,483.7 L390,482.9 L398,482.9 L406,486.5 L414,498.2 L422,509.0 L430,509.0 L438,509.5 L446,511.9 L454,515.0 L462,516.0 L470,513.7 L478,513.7 L486,512.9 L494,505.4 L502,497.2 L510,496.2 L518,495.4 L526,492.0 L534,482.4 L542,469.4 L550,462.8 L558,461.3 L566,461.3 L574,456.6 L582,457.4 L590,457.4 L598,456.6 L606,456.6 L614,456.5 L622,456.5 L630,454.5 L638,460.8 L646,468.1 L654,475.1 L662,489.5 L670,521.0 L678,522.3 L686,523.9 L694,527.2 L702,528.6 L710,528.2 L718,514.6 L726,512.2 L734,504.2 L742,495.3 L750,502.1 L758,502.7 L766,502.7 L774,502.7 L782,503.1 L790,503.6 L798,498.7 L806,495.6 L814,490.9 L822,490.9 L830,489.5 L838,485.1 L846,489.2 L854,490.1 L862,490.1 L870,490.8 L878,491.4 L886,499.7 L894,501.5 L902,501.5 L910,506.3 L918,509.5 L926,523.3 L934,523.3 L942,523.4 L950,524.5 L958,525.1 L966,525.0 L974,521.2 L982,517.5 L990,511.0 L998,506.1 L1006,505.4 L1014,500.9 L1022,497.1 L1030,494.2 L1038,493.1 L1046,493.1 L1054,489.1 L1062,485.1 L1070,475.2 L1078,472.3 L1086,470.8 L1094,469.7 L1102,467.2 L1110,466.0 L1118,465.2 L1126,468.3 L1134,474.7 L1142,481.9 L1150,482.1 L1158,482.9 L1166,484.8 L1174,485.0 L1182,485.0 L1190,479.4 L1198,483.0 L1206,483.0 L1214,483.0 L1222,483.8 L1230,480.1 L1238,478.0 L1246,474.3 L1254,467.2 L1262,466.2 L1270,459.6 L1278,450.5 L1286,445.2 L1294,445.2 L1302,448.0 L1310,448.0 L1318,448.0 L1326,448.0 L1334,448.7 L1342,446.8 L1350,439.5 L1358,438.4 L1366,438.4 L1374,435.8 L1382,431.0 L1390,432.7 L1398,433.3 L1406,434.6 L1414,431.2 L1422,428.8 L1430,428.1 L1438,427.9 L1446,422.8 L1454,403.8 L1462,378.0 L1470,368.8 L1478,367.2 L1486,357.6 L1494,341.7 L1502,320.9 L1510,309.4 L1518,309.1 L1526,306.1 L1534,294.4 L1542,290.0 L1550,288.5 L1558,285.9 L1566,280.3 L1574,277.0 L1582,277.0 L1590,277.4 L1598,278.3 L1606,278.4 L1614,278.4 L1622,276.3 L1630,269.4 L1638,269.4 L1646,262.3 L1654,262.3 L1662,262.3" stroke="#4caf50" stroke-width="1.4" fill="none"/>
<path d="M54,431.5 L62,431.2 L70,431.2 L78,436.3 L86,436.3 L94,436.3 L102,436.3 L110,438.8 L118,439.7 L126,438.3 L134,438.3 L142,439.2 L150,439.2 L158,440.8 L166,439.3 L174,436.9 L182,435.5 L190,434.1 L198,434.0 L206,431.1 L214,429.0 L222,429.0 L230,437.1 L238,438.2 L246,441.3 L254,445.3 L262,445.3 L270,447.7 L278,448.2 L286,453.8 L294,456.5 L302,456.9 L310,459.6 L318,459.6 L326,462.8 L334,478.6 L342,478.6 L350,480.5 L358,481.1 L366,481.8 L374,487.1 L382,481.7 L390,480.4 L398,480.4 L406,483.3 L414,492.8 L422,501.5 L430,501.5 L438,502.3 L446,506.2 L454,511.2 L462,512.8 L470,510.8 L478,510.8 L486,509.5 L494,501.6 L502,490.9 L510,489.2 L518,488.4 L526,485.6 L534,476.3 L542,464.8 L550,458.6 L558,457.4 L566,457.4 L574,453.6 L582,454.2 L590,454.2 L598,452.9 L606,452.9 L614,452.7 L622,452.7 L630,451.1 L638,456.2 L646,462.2 L654,467.8 L662,481.4 L670,507.9 L678,510.0 L686,512.5 L694,518.0 L702,520.1 L710,519.5 L718,508.5 L726,506.6 L734,500.1 L742,492.9 L750,498.4 L758,499.4 L766,499.4 L774,499.4 L782,500.0 L790,500.8 L798,495.7 L806,493.2 L814,485.6 L822,485.6 L830,484.2 L838,480.7 L846,484.1 L854,484.8 L862,484.8 L870,485.3 L878,486.2 L886,496.2 L894,499.2 L902,499.2 L910,503.7 L918,506.8 L926,518.3 L934,518.3 L942,518.4 L950,520.2 L958,521.2 L966,521.1 L974,517.4 L982,511.5 L990,506.3 L998,502.3 L1006,501.7 L1014,497.7 L1022,494.7 L1030,490.0 L1038,488.2 L1046,488.2 L1054,485.0 L1062,481.2 L1070,473.2 L1078,470.7 L1086,468.3 L1094,466.4 L1102,464.4 L1110,463.5 L1118,462.8 L1126,465.3 L1134,470.5 L1142,476.5 L1150,476.8 L1158,478.2 L1166,481.2 L1174,481.5 L1182,481.5 L1190,477.0 L1198,479.9 L1206,479.9 L1214,479.9 L1222,481.2 L1230,475.3 L1238,471.7 L1246,468.0 L1254,462.3 L1262,460.7 L1270,455.3 L1278,448.0 L1286,443.6 L1294,443.6 L1302,445.8 L1310,445.8 L1318,445.8 L1326,445.8 L1334,447.0 L1342,444.0 L1350,434.3 L1358,433.4 L1366,433.4 L1374,431.3 L1382,427.4 L1390,428.8 L1398,429.5 L1406,431.2 L1414,425.7 L1422,421.7 L1430,420.7 L1438,420.4 L1446,412.0 L1454,392.7 L1462,366.2 L1470,354.0 L1478,352.7 L1486,345.0 L1494,332.1 L1502,315.3 L1510,305.8 L1518,305.3 L1526,301.1 L1534,287.5 L1542,282.2 L1550,281.0 L1558,278.9 L1566,274.4 L1574,271.7 L1582,271.7 L1590,272.3 L1598,273.8 L1606,273.9 L1614,273.9 L1622,272.2 L1630,266.6 L1638,266.6 L1646,255.2 L1654,255.2 L1662,255.2" stroke="#4caf50" stroke-width="1.4" fill="none"/>
<path d="M54,429.6 L62,429.2 L70,429.2 L78,433.4 L86,433.4 L94,433.4 L102,433.4 L110,436.6 L118,437.7 L126,436.6 L134,436.6 L142,437.3 L150,437.3 L158,439.4 L166,437.4 L174,434.4 L182,432.5 L190,431.3 L198,431.3 L206,428.9 L214,427.2 L222,427.2 L230,433.9 L238,435.4 L246,439.1 L254,442.3 L262,442.3 L270,445.4 L278,445.8 L286,451.3 L294,454.9 L302,455.4 L310,457.6 L318,457.6 L326,461.1 L334,474.1 L342,474.1 L350,476.6 L358,477.4 L366,478.3 L374,485.2 L382,480.0 L390,478.4 L398,478.4 L406,480.7 L414,488.4 L422,495.4 L430,495.4 L438,496.5 L446,501.6 L454,508.1 L462,510.3 L470,508.5 L478,508.5 L486,506.8 L494,498.5 L502,485.7 L510,483.5 L518,482.8 L526,480.5 L534,471.3 L542,461.1 L550,455.2 L558,454.2 L566,454.2 L574,451.1 L582,451.7 L590,451.7 L598,450.0 L606,450.0 L614,449.7 L622,449.7 L630,448.4 L638,452.5 L646,457.4 L654,461.9 L662,474.9 L670,497.3 L678,500.0 L686,503.4 L694,510.5 L702,513.2 L710,512.5 L718,503.5 L726,502.0 L734,496.7 L742,491.0 L750,495.4 L758,496.8 L766,496.8 L774,496.8 L782,497.5 L790,498.6 L798,493.3 L806,491.3 L814,481.3 L822,481.3 L830,480.0 L838,477.2 L846,479.9 L854,480.5 L862,480.5 L870,480.9 L878,482.1 L886,493.4 L894,497.3 L902,497.3 L910,501.5 L918,504.7 L926,514.2 L934,514.2 L942,514.4 L950,516.7 L958,518.1 L966,517.8 L974,514.3 L982,506.7 L990,502.4 L998,499.2 L1006,498.8 L1014,495.2 L1022,492.7 L1030,486.5 L1038,484.3 L1046,484.3 L1054,481.7 L1062,478.1 L1070,471.6 L1078,469.4 L1086,466.2 L1094,463.8 L1102,462.1 L1110,461.4 L1118,460.9 L1126,462.9 L1134,467.1 L1142,472.2 L1150,472.5 L1158,474.3 L1166,478.3 L1174,478.7 L1182,478.7 L1190,475.1 L1198,477.4 L1206,477.4 L1214,477.4 L1222,479.1 L1230,471.3 L1238,466.7 L1246,462.9 L1254,458.2 L1262,456.2 L1270,451.9 L1278,445.9 L1286,442.3 L1294,442.3 L1302,444.1 L1310,444.1 L1318,444.1 L1326,444.1 L1334,445.6 L1342,441.7 L1350,430.1 L1358,429.3 L1366,429.3 L1374,427.7 L1382,424.5 L1390,425.6 L1398,426.4 L1406,428.4 L1414,421.2 L1422,416.0 L1430,414.7 L1438,414.2 L1446,403.3 L1454,383.7 L1462,356.6 L1470,342.1 L1478,341.0 L1486,334.8 L1494,324.4 L1502,310.7 L1510,302.9 L1518,302.2 L1526,297.0 L1534,281.9 L1542,275.9 L1550,274.9 L1558,273.2 L1566,269.6 L1574,267.4 L1582,267.4 L1590,268.2 L1598,270.1 L1606,270.3 L1614,270.3 L1622,268.9 L1630,264.4 L1638,264.4 L1646,249.5 L1654,249.5 L1662,249.5" stroke="#4caf50" stroke-width="1.4" fill="none"/>
<path d="M54,427.6 L62,427.2 L70,427.2 L78,430.4 L86,430.4 L94,430.4 L102,430.4 L110,434.3 L118,435.7 L126,434.9 L134,434.9 L142,435.4 L150,435.4 L158,438.0 L166,435.6 L174,431.8 L182,429.5 L190,428.6 L198,428.6 L206,426.8 L214,425.5 L222,425.5 L230,430.7 L238,432.5 L246,436.9 L254,439.3 L262,439.3 L270,443.2 L278,443.5 L286,448.8 L294,453.2 L302,453.9 L310,455.5 L318,455.5 L326,459.5 L334,469.6 L342,469.6 L350,472.7 L358,473.8 L366,474.9 L374,483.4 L382,478.4 L390,476.3 L398,476.3 L406,478.1 L414,484.0 L422,489.4 L430,489.4 L438,490.7 L446,497.0 L454,505.0 L462,507.7 L470,506.2 L478,506.2 L486,504.1 L494,495.4 L502,480.6 L510,477.9 L518,477.1 L526,475.4 L534,466.3 L542,457.4 L550,451.8 L558,451.1 L566,451.1 L574,448.7 L582,449.1 L590,449.1 L598,447.0 L606,447.0 L614,446.7 L622,446.7 L630,445.7 L638,448.9 L646,452.5 L654,456.0 L662,468.4 L670,486.7 L678,490.0 L686,494.2 L694,503.0 L702,506.4 L710,505.4 L718,498.6 L726,497.4 L734,493.4 L742,489.0 L750,492.4 L758,494.1 L766,494.1 L774,494.1 L782,495.0 L790,496.3 L798,490.9 L806,489.4 L814,477.0 L822,477.0 L830,475.8 L838,473.6 L846,475.7 L854,476.1 L862,476.1 L870,476.5 L878,477.9 L886,490.6 L894,495.4 L902,495.4 L910,499.4 L918,502.5 L926,510.1 L934,510.1 L942,510.3 L950,513.2 L958,514.9 L966,514.6 L974,511.2 L982,501.9 L990,498.6 L998,496.2 L1006,495.8 L1014,492.6 L1022,490.7 L1030,483.1 L1038,480.3 L1046,480.3 L1054,478.3 L1062,475.0 L1070,470.1 L1078,468.1 L1086,464.2 L1094,461.2 L1102,459.9 L1110,459.4 L1118,458.9 L1126,460.5 L1134,463.7 L1142,467.8 L1150,468.2 L1158,470.5 L1166,475.4 L1174,475.9 L1182,475.9 L1190,473.1 L1198,475.0 L1206,475.0 L1214,475.0 L1222,477.1 L1230,467.4 L1238,461.7 L1246,457.8 L1254,454.2 L1262,451.7 L1270,448.4 L1278,443.8 L1286,441.0 L1294,441.0 L1302,442.4 L1310,442.4 L1318,442.4 L1326,442.4 L1334,444.2 L1342,439.4 L1350,425.9 L1358,425.3 L1366,425.3 L1374,424.0 L1382,421.6 L1390,422.4 L1398,423.2 L1406,425.7 L1414,416.7 L1422,410.3 L1430,408.7 L1438,408.1 L1446,394.6 L1454,374.7 L1462,347.0 L1470,330.2 L1478,329.3 L1486,324.6 L1494,316.6 L1502,306.2 L1510,299.9 L1518,299.1 L1526,292.9 L1534,276.3 L1542,269.6 L1550,268.9 L1558,267.6 L1566,264.8 L1574,263.2 L1582,263.2 L1590,264.1 L1598,266.5 L1606,266.7 L1614,266.7 L1622,265.7 L1630,262.2 L1638,262.2 L1646,243.8 L1654,243.8 L1662,243.8" stroke="#4caf50" stroke-width="1.4" fill="none"/>
<path d="M54,395.4 L62,405.5 L70,418.3 L78,415.7 L86,423.5 L94,426.6 L102,427.4 L110,417.0 L118,423.5 L126,430.0 L134,423.5 L142,427.4 L150,437.0 L158,434.0 L166,418.0 L174,411.8 L182,412.5 L190,412.7 L198,405.8 L206,427.4 L214,427.3 L222,425.1 L230,420.8 L238,418.6 L246,430.3 L254,438.1 L262,445.0 L270,441.6 L278,437.2 L286,442.4 L294,451.1 L302,446.8 L310,451.0 L318,455.4 L326,457.1 L334,455.4 L342,467.5 L350,471.0 L358,469.3 L366,471.9 L374,479.7 L382,463.3 L390,462.9 L398,466.8 L406,468.5 L414,478.9 L422,489.3 L430,489.3 L438,494.0 L446,488.8 L454,493.2 L462,488.4 L470,485.8 L478,491.0 L486,482.3 L494,473.7 L502,442.9 L510,446.0 L518,447.7 L526,452.9 L534,430.3 L542,436.9 L550,429.0 L558,432.1 L566,436.9 L574,441.8 L582,441.8 L590,429.7 L598,424.2 L606,433.3 L614,420.6 L622,440.0 L630,442.4 L638,441.8 L646,447.2 L654,467.8 L662,472.6 L670,477.5 L678,496.9 L686,496.9 L694,443.6 L702,478.1 L710,477.2 L718,469.9 L726,475.4 L734,469.5 L742,472.7 L750,480.8 L758,482.7 L766,488.1 L774,484.5 L782,485.4 L790,475.4 L798,468.1 L806,476.3 L814,442.7 L822,459.5 L830,455.0 L838,459.0 L846,456.8 L854,477.2 L862,476.8 L870,483.6 L878,490.8 L886,489.9 L894,485.4 L902,486.7 L910,489.0 L918,493.6 L926,498.1 L934,517.2 L942,515.4 L950,489.9 L958,497.2 L966,495.4 L974,494.5 L982,475.4 L990,482.7 L998,485.4 L1006,491.7 L1014,467.7 L1022,473.6 L1030,461.8 L1038,460.4 L1046,467.7 L1054,466.8 L1062,455.4 L1070,462.7 L1078,456.3 L1086,444.5 L1094,444.5 L1102,450.0 L1110,451.3 L1118,449.5 L1126,457.2 L1134,466.3 L1142,475.4 L1150,469.0 L1158,473.6 L1166,468.1 L1174,457.5 L1182,467.4 L1190,475.2 L1198,477.0 L1206,465.7 L1214,465.7 L1222,466.6 L1230,437.1 L1238,431.1 L1246,432.8 L1254,437.1 L1262,429.4 L1270,435.0 L1278,433.7 L1286,425.5 L1294,438.9 L1302,439.7 L1310,435.4 L1318,432.0 L1326,440.6 L1334,437.8 L1342,425.9 L1350,399.2 L1358,407.2 L1366,405.2 L1374,409.9 L1382,423.2 L1390,425.9 L1398,428.5 L1406,416.5 L1414,370.6 L1422,383.6 L1430,384.0 L1438,385.0 L1446,349.4 L1454,320.6 L1462,290.0 L1470,260.0 L1478,282.0 L1486,287.3 L1494,288.5 L1502,288.5 L1510,276.1 L1518,277.2 L1526,264.3 L1534,236.5 L1542,238.1 L1550,247.3 L1558,244.3 L1566,237.6 L1574,259.2 L1582,248.4 L1590,258.1 L1598,239.6 L1606,254.0 L1614,252.0 L1622,244.3 L1630,254.0 L1638,257.1 L1646,194.4 L1654,233.5 L1662,235.0" stroke="#9c27b0" stroke-width="1.5" fill="none"/>
<path d="M54,412.7 L62,415.6 L70,424.1 L78,427.9 L86,431.5 L94,430.5 L102,431.7 L110,425.2 L118,430.2 L126,434.8 L134,431.9 L142,434.4 L150,439.4 L158,437.2 L166,425.8 L174,419.6 L182,417.4 L190,417.9 L198,417.5 L206,429.6 L214,430.1 L222,428.1 L230,431.2 L238,430.1 L246,437.2 L254,444.6 L262,447.6 L270,446.8 L278,445.0 L286,450.2 L294,455.0 L302,452.4 L310,457.1 L318,459.7 L326,461.5 L334,470.1 L342,475.3 L350,477.1 L358,475.4 L366,477.5 L374,481.0 L382,469.8 L390,467.4 L398,470.2 L406,477.6 L414,489.7 L422,501.9 L430,498.0 L438,501.6 L446,500.3 L454,501.2 L462,495.8 L470,494.5 L478,497.1 L486,491.0 L494,481.5 L502,457.0 L510,455.1 L518,455.0 L526,458.9 L534,443.6 L542,442.6 L550,436.9 L558,438.5 L566,442.6 L574,447.0 L582,450.0 L590,439.0 L598,433.0 L606,437.6 L614,431.5 L622,444.8 L630,449.0 L638,452.4 L646,458.7 L654,475.1 L662,483.5 L670,502.3 L678,508.4 L686,506.6 L694,472.2 L702,482.2 L710,480.9 L718,481.3 L726,484.9 L734,480.1 L742,482.2 L750,491.2 L758,491.3 L766,491.8 L774,489.9 L782,490.9 L790,484.5 L798,478.1 L806,481.8 L814,456.3 L822,462.4 L830,459.8 L838,462.6 L846,473.4 L854,486.3 L862,485.2 L870,489.5 L878,494.0 L886,495.8 L894,493.1 L902,493.8 L910,497.6 L918,501.3 L926,511.2 L934,521.2 L942,519.9 L950,501.7 L958,502.2 L966,501.3 L974,499.0 L982,482.6 L990,486.3 L998,487.6 L1006,494.4 L1014,478.8 L1022,480.9 L1030,468.6 L1038,465.1 L1046,469.8 L1054,470.2 L1062,461.8 L1070,464.9 L1078,461.3 L1086,453.1 L1094,449.9 L1102,452.5 L1110,453.4 L1118,455.2 L1126,463.1 L1134,472.2 L1142,481.8 L1150,474.9 L1158,475.9 L1166,471.8 L1174,463.8 L1182,470.4 L1190,476.1 L1198,481.8 L1206,473.5 L1214,468.8 L1222,470.1 L1230,448.8 L1238,440.6 L1246,438.5 L1254,441.5 L1262,434.5 L1270,437.4 L1278,436.3 L1286,433.1 L1294,441.5 L1302,444.0 L1310,440.6 L1318,437.1 L1326,443.2 L1334,439.8 L1342,429.9 L1350,407.9 L1358,411.2 L1366,412.9 L1374,418.5 L1382,427.2 L1390,430.5 L1398,433.1 L1406,426.5 L1414,391.6 L1422,389.1 L1430,387.4 L1438,387.2 L1446,360.7 L1454,337.2 L1462,307.3 L1470,281.0 L1478,295.3 L1486,298.1 L1494,295.8 L1502,293.4 L1510,285.6 L1518,285.1 L1526,274.6 L1534,250.9 L1542,245.6 L1550,249.7 L1558,251.2 L1566,251.4 L1574,269.4 L1582,262.2 L1590,264.3 L1598,249.9 L1606,258.1 L1614,255.6 L1622,253.8 L1630,261.2 L1638,263.8 L1646,214.9 L1654,241.7 L1662,240.4" stroke="#9c27b0" stroke-width="1.5" fill="none"/>
<path d="M54,445.6 L62,434.8 L70,436.9 L78,452.1 L86,448.2 L94,439.1 L102,440.8 L110,440.2 L118,445.2 L126,446.4 L134,447.4 L142,449.1 L150,444.1 L158,445.2 L166,442.6 L174,434.8 L182,427.0 L190,427.4 L198,440.2 L206,433.5 L214,435.0 L222,435.1 L230,453.2 L238,450.2 L246,452.9 L254,458.9 L262,453.2 L270,454.1 L278,458.9 L286,465.8 L294,462.8 L302,464.1 L310,469.2 L318,465.8 L326,470.6 L334,501.2 L342,489.1 L350,487.9 L358,486.6 L366,490.9 L374,487.5 L382,484.1 L390,475.9 L398,478.4 L406,496.6 L414,513.5 L422,527.8 L430,514.4 L438,518.7 L446,524.8 L454,514.0 L462,510.4 L470,511.8 L478,510.4 L486,504.9 L494,495.4 L502,482.4 L510,475.0 L518,470.6 L526,470.2 L534,465.9 L542,452.6 L550,453.0 L558,450.6 L566,456.9 L574,459.4 L582,466.9 L590,455.7 L598,449.4 L606,448.8 L614,453.9 L622,457.5 L630,464.1 L638,473.2 L646,485.4 L654,491.4 L662,510.8 L670,557.4 L678,529.0 L686,526.5 L694,520.8 L702,493.1 L710,488.6 L718,504.0 L726,504.0 L734,499.9 L742,503.1 L750,514.5 L758,507.2 L766,497.6 L774,502.2 L782,502.6 L790,502.2 L798,496.3 L806,492.2 L814,484.9 L822,469.5 L830,469.9 L838,475.9 L846,505.3 L854,502.2 L862,500.6 L870,504.0 L878,498.5 L886,508.8 L894,507.1 L902,509.0 L910,514.9 L918,518.5 L926,538.5 L934,529.4 L942,529.8 L950,523.8 L958,517.2 L966,515.4 L974,508.5 L982,501.1 L990,495.8 L998,493.5 L1006,504.9 L1014,501.7 L1022,494.5 L1030,481.3 L1038,475.8 L1046,473.6 L1054,476.3 L1062,475.1 L1070,473.1 L1078,471.8 L1086,470.9 L1094,458.6 L1102,457.0 L1110,457.2 L1118,469.5 L1126,477.2 L1134,484.9 L1142,493.1 L1150,485.8 L1158,480.4 L1166,476.8 L1174,476.1 L1182,477.9 L1190,480.4 L1198,489.6 L1206,487.8 L1214,477.9 L1222,476.9 L1230,472.6 L1238,459.2 L1246,449.7 L1254,449.7 L1262,445.4 L1270,441.0 L1278,441.0 L1286,448.4 L1294,449.3 L1302,454.4 L1310,450.1 L1318,447.1 L1326,447.1 L1334,444.5 L1342,439.9 L1350,425.2 L1358,421.2 L1366,426.5 L1374,435.9 L1382,432.5 L1390,442.9 L1398,441.2 L1406,443.9 L1414,430.9 L1422,399.9 L1430,394.5 L1438,391.8 L1446,384.1 L1454,360.5 L1462,335.3 L1470,319.3 L1478,322.0 L1486,319.4 L1494,308.4 L1502,306.9 L1510,305.9 L1518,301.3 L1526,294.9 L1534,277.1 L1542,259.1 L1550,253.0 L1558,267.4 L1566,276.6 L1574,291.5 L1582,289.5 L1590,276.6 L1598,268.4 L1606,266.4 L1614,265.9 L1622,274.1 L1630,279.2 L1638,274.6 L1646,256.1 L1654,261.8 L1662,251.5" stroke="#9c27b0" stroke-width="1.5" fill="none"/>
<path d="M54,461.2 L62,443.9 L70,443.9 L78,464.2 L86,456.9 L94,443.9 L102,445.6 L110,446.9 L118,453.4 L126,453.4 L134,454.3 L142,456.9 L150,446.5 L158,450.0 L166,451.7 L174,442.1 L182,431.8 L190,431.8 L198,451.2 L206,435.2 L214,437.2 L222,439.0 L230,464.9 L238,458.9 L246,461.5 L254,466.7 L262,456.3 L270,456.3 L278,464.9 L286,473.6 L294,466.7 L302,470.1 L310,475.3 L318,467.5 L326,475.3 L334,517.7 L342,495.2 L350,492.6 L358,491.8 L366,498.7 L374,492.7 L382,491.9 L390,479.7 L398,483.2 L406,506.6 L414,526.5 L422,541.2 L430,522.2 L438,528.2 L446,537.7 L454,518.7 L462,517.8 L470,520.4 L478,517.8 L486,510.0 L494,501.4 L502,493.6 L510,485.8 L518,478.9 L526,475.4 L534,475.0 L542,456.9 L550,461.1 L558,456.3 L566,465.4 L574,466.6 L582,475.7 L590,463.0 L598,456.9 L606,455.7 L614,465.4 L622,465.4 L630,472.6 L638,483.5 L646,500.5 L654,500.5 L662,527.1 L670,587.7 L678,538.0 L686,536.8 L694,540.8 L702,499.9 L710,492.7 L718,515.4 L726,513.5 L734,509.0 L742,514.5 L750,527.2 L758,514.5 L766,499.9 L774,509.0 L782,509.0 L790,510.8 L798,504.5 L806,497.2 L814,499.9 L822,473.6 L830,475.4 L838,485.4 L846,520.8 L854,509.0 L862,507.6 L870,512.6 L878,499.9 L886,515.8 L894,513.5 L902,517.2 L910,523.5 L918,528.1 L926,552.6 L934,533.5 L942,535.3 L950,534.0 L958,527.2 L966,523.5 L974,513.5 L982,512.2 L990,501.7 L998,497.2 L1006,512.6 L1014,513.5 L1022,500.8 L1030,487.2 L1038,481.7 L1046,475.4 L1054,479.0 L1062,482.2 L1070,479.0 L1078,477.2 L1086,479.9 L1094,461.8 L1102,459.0 L1110,459.0 L1118,478.1 L1126,485.4 L1134,491.7 L1142,498.1 L1150,490.8 L1158,482.7 L1166,478.1 L1174,482.2 L1182,482.2 L1190,483.9 L1198,492.6 L1206,494.3 L1214,483.9 L1222,480.4 L1230,484.8 L1238,468.3 L1246,455.3 L1254,453.6 L1262,451.0 L1270,442.3 L1278,443.2 L1286,456.2 L1294,454.5 L1302,460.5 L1310,454.5 L1318,451.9 L1326,448.4 L1334,447.2 L1342,445.8 L1350,433.9 L1358,427.2 L1366,432.5 L1374,444.5 L1382,433.9 L1390,450.5 L1398,444.6 L1406,451.2 L1414,449.0 L1422,405.4 L1430,398.1 L1438,394.1 L1446,396.3 L1454,367.2 L1462,346.0 L1470,336.6 L1478,335.3 L1486,329.9 L1494,313.7 L1502,315.7 L1510,316.7 L1518,309.5 L1526,304.9 L1534,289.0 L1542,265.3 L1550,254.0 L1558,276.6 L1566,288.0 L1574,303.4 L1582,302.9 L1590,282.8 L1598,276.6 L1606,270.5 L1614,272.5 L1622,284.9 L1630,290.0 L1638,278.7 L1646,276.6 L1654,273.6 L1662,257.1" stroke="#9c27b0" stroke-width="1.5" fill="none"/>
<path d="M54.5,417.0 V455.0 M62.5,415.6 V434.8 M86.5,431.5 V448.2 M94.5,430.5 V439.1 M110.5,425.2 V440.2 M158.5,437.2 V445.2 M166.5,425.8 V442.6 M174.5,419.6 V434.8 M182.5,417.4 V427.0 M222.5,428.1 V435.1 M238.5,430.1 V450.2 M262.5,447.6 V453.2 M302.5,452.4 V464.1 M342.5,475.3 V489.1 M350.5,477.1 V487.9 M358.5,475.4 V486.6 M374.5,481.0 V487.5 M382.5,469.8 V484.1 M390.5,467.4 V475.9 M430.5,498.0 V514.4 M454.5,501.2 V514.0 M462.5,495.8 V510.4 M470.5,494.5 V511.8 M478.5,497.1 V510.4 M486.5,491.0 V504.9 M494.5,481.5 V495.4 M502.5,457.0 V482.4 M510.5,455.1 V475.0 M518.5,455.0 V470.6 M534.5,443.6 V465.9 M542.5,442.6 V452.6 M550.5,436.9 V453.0 M558.5,438.5 V450.6 M590.5,439.0 V455.7 M598.5,433.0 V449.4 M606.5,437.6 V448.8 M678.5,508.4 V529.0 M686.5,506.6 V526.5 M694.5,472.2 V520.8 M702.5,482.2 V493.1 M710.5,480.9 V488.6 M734.5,480.1 V499.9 M758.5,491.3 V507.2 M766.5,491.8 V497.6 M774.5,489.9 V502.2 M790.5,484.5 V502.2 M798.5,478.1 V496.3 M806.5,481.8 V492.2 M814.5,456.3 V484.9 M822.5,462.4 V469.5 M830.5,459.8 V469.9 M862.5,485.2 V500.6 M894.5,493.1 V507.1 M902.5,493.8 V509.0 M942.5,519.9 V529.8 M950.5,501.7 V523.8 M958.5,502.2 V517.2 M966.5,501.3 V515.4 M974.5,499.0 V508.5 M982.5,482.6 V501.1 M990.5,486.3 V495.8 M998.5,487.6 V493.5 M1014.5,478.8 V501.7 M1022.5,480.9 V494.5 M1030.5,468.6 V481.3 M1038.5,465.1 V475.8 M1062.5,461.8 V475.1 M1070.5,464.9 V473.1 M1078.5,461.3 V471.8 M1086.5,453.1 V470.9 M1094.5,449.9 V458.6 M1102.5,452.5 V457.0 M1150.5,474.9 V485.8 M1158.5,475.9 V480.4 M1166.5,471.8 V476.8 M1174.5,463.8 V476.1 M1206.5,473.5 V487.8 M1214.5,468.8 V477.9 M1230.5,448.8 V472.6 M1238.5,440.6 V459.2 M1246.5,438.5 V449.7 M1262.5,434.5 V445.4 M1270.5,437.4 V441.0 M1278.5,436.3 V441.0 M1310.5,440.6 V450.1 M1318.5,437.1 V447.1 M1334.5,439.8 V444.5 M1342.5,429.9 V439.9 M1350.5,407.9 V425.2 M1358.5,411.2 V421.2 M1406.5,426.5 V443.9 M1414.5,391.6 V430.9 M1422.5,389.1 V399.9 M1430.5,387.4 V394.5 M1438.5,387.2 V391.8 M1446.5,360.7 V384.1 M1454.5,337.2 V360.5 M1462.5,307.3 V335.3 M1470.5,281.0 V319.3 M1494.5,295.8 V308.4 M1502.5,293.4 V306.9 M1510.5,285.6 V305.9 M1518.5,285.1 V301.3 M1526.5,274.6 V294.9 M1534.5,250.9 V277.1 M1542.5,245.6 V259.1 M1550.5,249.7 V253.0 M1582.5,262.2 V289.5 M1590.5,264.3 V276.6 M1598.5,249.9 V268.4 M1614.5,255.6 V265.9 M1646.5,214.9 V256.1 M1662.5,240.4 V251.5" stroke="#22ab94" stroke-width="1" fill="none"/>
<path d="M70.5,424.1 V436.9 M78.5,427.9 V452.1 M102.5,431.7 V440.8 M118.5,430.2 V445.2 M126.5,434.8 V446.4 M134.5,431.9 V447.4 M142.5,434.4 V449.1 M150.5,439.4 V444.1 M190.5,417.9 V427.4 M198.5,417.5 V440.2 M206.5,429.6 V433.5 M214.5,430.1 V435.0 M230.5,431.2 V453.2 M246.5,437.2 V452.9 M254.5,444.6 V458.9 M270.5,446.8 V454.1 M278.5,445.0 V458.9 M286.5,450.2 V465.8 M294.5,455.0 V462.8 M310.5,457.1 V469.2 M318.5,459.7 V465.8 M326.5,461.5 V470.6 M334.5,470.1 V501.2 M366.5,477.5 V490.9 M398.5,470.2 V478.4 M406.5,477.6 V496.6 M414.5,489.7 V513.5 M422.5,501.9 V527.8 M438.5,501.6 V518.7 M446.5,500.3 V524.8 M526.5,458.9 V470.2 M566.5,442.6 V456.9 M574.5,447.0 V459.4 M582.5,450.0 V466.9 M614.5,431.5 V453.9 M622.5,444.8 V457.5 M630.5,449.0 V464.1 M638.5,452.4 V473.2 M646.5,458.7 V485.4 M654.5,475.1 V491.4 M662.5,483.5 V510.8 M670.5,502.3 V557.4 M718.5,481.3 V504.0 M726.5,484.9 V504.0 M742.5,482.2 V503.1 M750.5,491.2 V514.5 M782.5,490.9 V502.6 M838.5,462.6 V475.9 M846.5,473.4 V505.3 M854.5,486.3 V502.2 M870.5,489.5 V504.0 M878.5,494.0 V498.5 M886.5,495.8 V508.8 M910.5,497.6 V514.9 M918.5,501.3 V518.5 M926.5,511.2 V538.5 M934.5,521.2 V529.4 M1006.5,494.4 V504.9 M1046.5,469.8 V473.6 M1054.5,470.2 V476.3 M1110.5,453.4 V457.2 M1118.5,455.2 V469.5 M1126.5,463.1 V477.2 M1134.5,472.2 V484.9 M1142.5,481.8 V493.1 M1182.5,470.4 V477.9 M1190.5,476.1 V480.4 M1198.5,481.8 V489.6 M1222.5,470.1 V476.9 M1254.5,441.5 V449.7 M1286.5,433.1 V448.4 M1294.5,441.5 V449.3 M1302.5,444.0 V454.4 M1326.5,443.2 V447.1 M1366.5,412.9 V426.5 M1374.5,418.5 V435.9 M1382.5,427.2 V432.5 M1390.5,430.5 V442.9 M1398.5,433.1 V441.2 M1478.5,295.3 V322.0 M1486.5,298.1 V319.4 M1558.5,251.2 V267.4 M1566.5,251.4 V276.6 M1574.5,269.4 V291.5 M1606.5,258.1 V266.4 M1622.5,253.8 V274.1 M1630.5,261.2 V279.2 M1638.5,263.8 V274.6 M1654.5,241.7 V261.8" stroke="#f23645" stroke-width="1" fill="none"/>
<path d="M51,419.0 h7 V453.0 h-7 Z M59,421.3 h7 V430.1 h-7 Z M83,435.7 h7 V443.3 h-7 Z M91,432.4 h7 V436.4 h-7 Z M107,430.1 h7 V436.9 h-7 Z M155,438.6 h7 V442.2 h-7 Z M163,429.6 h7 V437.4 h-7 Z M171,423.9 h7 V430.9 h-7 Z M179,420.0 h7 V424.4 h-7 Z M219,429.6 h7 V432.8 h-7 Z M235,437.0 h7 V446.2 h-7 Z M259,448.9 h7 V451.5 h-7 Z M299,455.3 h7 V460.7 h-7 Z M339,479.9 h7 V486.3 h-7 Z M347,480.6 h7 V485.6 h-7 Z M355,478.8 h7 V484.0 h-7 Z M371,481.0 h7 V483.8 h-7 Z M379,473.0 h7 V479.6 h-7 Z M387,470.1 h7 V473.9 h-7 Z M427,502.8 h7 V510.4 h-7 Z M451,506.3 h7 V512.1 h-7 Z M459,499.7 h7 V506.5 h-7 Z M467,499.1 h7 V507.1 h-7 Z M475,500.0 h7 V506.2 h-7 Z M483,496.5 h7 V502.9 h-7 Z M491,486.1 h7 V492.5 h-7 Z M499,465.3 h7 V476.9 h-7 Z M507,459.6 h7 V468.8 h-7 Z M515,458.8 h7 V466.0 h-7 Z M531,451.8 h7 V462.0 h-7 Z M539,446.1 h7 V450.7 h-7 Z M547,441.1 h7 V448.5 h-7 Z M555,442.0 h7 V447.6 h-7 Z M587,444.6 h7 V452.2 h-7 Z M595,438.0 h7 V445.6 h-7 Z M603,439.2 h7 V444.4 h-7 Z M675,515.2 h7 V524.6 h-7 Z M683,511.6 h7 V520.8 h-7 Z M691,489.6 h7 V512.0 h-7 Z M699,483.8 h7 V488.8 h-7 Z M707,482.7 h7 V486.3 h-7 Z M731,486.3 h7 V495.3 h-7 Z M755,496.2 h7 V503.6 h-7 Z M763,494.0 h7 V496.8 h-7 Z M771,492.6 h7 V498.2 h-7 Z M787,489.5 h7 V497.7 h-7 Z M795,483.9 h7 V492.3 h-7 Z M803,484.8 h7 V489.6 h-7 Z M811,463.3 h7 V476.5 h-7 Z M819,463.8 h7 V467.0 h-7 Z M827,462.2 h7 V466.8 h-7 Z M859,490.1 h7 V497.1 h-7 Z M891,497.6 h7 V504.0 h-7 Z M899,497.3 h7 V504.3 h-7 Z M939,522.1 h7 V526.7 h-7 Z M947,508.4 h7 V518.6 h-7 Z M955,503.8 h7 V510.6 h-7 Z M963,504.0 h7 V510.4 h-7 Z M971,501.3 h7 V505.7 h-7 Z M979,485.7 h7 V494.1 h-7 Z M987,487.7 h7 V492.1 h-7 Z M995,488.5 h7 V491.3 h-7 Z M1011,484.6 h7 V495.2 h-7 Z M1019,485.0 h7 V491.2 h-7 Z M1027,472.5 h7 V478.3 h-7 Z M1035,467.5 h7 V472.3 h-7 Z M1059,465.0 h7 V471.2 h-7 Z M1067,465.3 h7 V469.1 h-7 Z M1075,463.9 h7 V468.7 h-7 Z M1083,457.7 h7 V465.9 h-7 Z M1091,453.4 h7 V457.4 h-7 Z M1099,454.0 h7 V456.0 h-7 Z M1147,478.3 h7 V483.3 h-7 Z M1155,477.1 h7 V479.1 h-7 Z M1163,474.2 h7 V476.5 h-7 Z M1171,467.2 h7 V472.8 h-7 Z M1203,478.0 h7 V484.6 h-7 Z M1211,469.7 h7 V473.9 h-7 Z M1227,455.0 h7 V466.0 h-7 Z M1235,445.8 h7 V454.4 h-7 Z M1243,441.5 h7 V446.7 h-7 Z M1259,437.2 h7 V442.2 h-7 Z M1267,438.9 h7 V440.5 h-7 Z M1275,437.8 h7 V440.0 h-7 Z M1307,443.6 h7 V448.0 h-7 Z M1315,440.0 h7 V444.6 h-7 Z M1331,440.7 h7 V442.9 h-7 Z M1339,431.6 h7 V436.2 h-7 Z M1347,412.5 h7 V420.5 h-7 Z M1355,412.9 h7 V417.5 h-7 Z M1403,432.5 h7 V440.5 h-7 Z M1411,403.7 h7 V421.7 h-7 Z M1419,392.0 h7 V397.0 h-7 Z M1427,389.3 h7 V392.5 h-7 Z M1435,388.4 h7 V390.4 h-7 Z M1443,366.6 h7 V377.4 h-7 Z M1451,348.5 h7 V359.3 h-7 Z M1459,318.2 h7 V331.0 h-7 Z M1467,293.2 h7 V310.8 h-7 Z M1491,300.1 h7 V305.9 h-7 Z M1499,295.1 h7 V301.3 h-7 Z M1507,290.5 h7 V299.9 h-7 Z M1515,289.4 h7 V296.8 h-7 Z M1523,280.2 h7 V289.6 h-7 Z M1531,259.3 h7 V271.3 h-7 Z M1539,249.9 h7 V256.1 h-7 Z M1547,251.2 h7 V252.8 h-7 Z M1579,269.8 h7 V282.4 h-7 Z M1587,267.7 h7 V273.3 h-7 Z M1595,255.9 h7 V264.5 h-7 Z M1611,256.8 h7 V261.6 h-7 Z M1643,226.0 h7 V245.0 h-7 Z M1659,243.3 h7 V248.3 h-7 Z" fill="#22ab94"/>
<path d="M67,427.1 h7 V432.9 h-7 Z M75,434.4 h7 V445.6 h-7 Z M99,433.9 h7 V438.1 h-7 Z M115,433.6 h7 V440.4 h-7 Z M123,436.8 h7 V442.2 h-7 Z M131,436.9 h7 V443.9 h-7 Z M139,437.9 h7 V444.7 h-7 Z M147,440.6 h7 V442.8 h-7 Z M187,420.8 h7 V425.2 h-7 Z M195,424.0 h7 V434.4 h-7 Z M203,430.9 h7 V432.7 h-7 Z M211,431.8 h7 V434.0 h-7 Z M227,436.5 h7 V446.7 h-7 Z M243,440.6 h7 V447.8 h-7 Z M251,447.8 h7 V454.4 h-7 Z M267,450.3 h7 V453.7 h-7 Z M275,449.6 h7 V456.0 h-7 Z M283,454.4 h7 V461.6 h-7 Z M291,457.1 h7 V460.7 h-7 Z M307,460.4 h7 V466.0 h-7 Z M315,462.6 h7 V465.4 h-7 Z M323,463.7 h7 V467.9 h-7 Z M331,477.6 h7 V492.0 h-7 Z M363,480.0 h7 V486.2 h-7 Z M395,471.8 h7 V475.6 h-7 Z M403,482.3 h7 V491.1 h-7 Z M411,495.0 h7 V506.0 h-7 Z M419,508.4 h7 V520.4 h-7 Z M435,505.3 h7 V513.1 h-7 Z M443,506.2 h7 V517.4 h-7 Z M523,462.4 h7 V467.6 h-7 Z M563,445.1 h7 V451.7 h-7 Z M571,449.2 h7 V455.0 h-7 Z M579,454.2 h7 V462.0 h-7 Z M611,437.2 h7 V447.6 h-7 Z M619,446.7 h7 V452.5 h-7 Z M627,452.2 h7 V459.2 h-7 Z M635,458.2 h7 V467.8 h-7 Z M643,464.1 h7 V476.3 h-7 Z M651,478.5 h7 V486.1 h-7 Z M659,488.1 h7 V500.7 h-7 Z M667,514.4 h7 V539.8 h-7 Z M715,487.5 h7 V497.9 h-7 Z M723,490.1 h7 V498.9 h-7 Z M739,486.9 h7 V496.5 h-7 Z M747,496.4 h7 V507.0 h-7 Z M779,493.6 h7 V499.0 h-7 Z M835,463.3 h7 V469.3 h-7 Z M843,482.5 h7 V497.3 h-7 Z M851,491.7 h7 V499.1 h-7 Z M867,492.1 h7 V498.7 h-7 Z M875,496.2 h7 V498.2 h-7 Z M883,498.7 h7 V504.7 h-7 Z M907,502.3 h7 V510.3 h-7 Z M915,505.0 h7 V513.0 h-7 Z M923,518.1 h7 V530.7 h-7 Z M931,523.4 h7 V527.2 h-7 Z M1003,494.8 h7 V499.6 h-7 Z M1043,470.9 h7 V472.7 h-7 Z M1051,472.2 h7 V475.0 h-7 Z M1107,454.5 h7 V456.3 h-7 Z M1115,457.6 h7 V464.2 h-7 Z M1123,465.8 h7 V472.2 h-7 Z M1131,475.2 h7 V481.0 h-7 Z M1139,485.5 h7 V490.7 h-7 Z M1179,471.8 h7 V475.2 h-7 Z M1187,476.1 h7 V478.0 h-7 Z M1195,484.7 h7 V488.3 h-7 Z M1219,471.9 h7 V475.1 h-7 Z M1251,443.9 h7 V447.7 h-7 Z M1283,437.1 h7 V444.1 h-7 Z M1291,442.3 h7 V445.9 h-7 Z M1299,446.0 h7 V450.8 h-7 Z M1323,444.9 h7 V446.7 h-7 Z M1363,417.4 h7 V423.6 h-7 Z M1371,423.2 h7 V431.2 h-7 Z M1379,430.0 h7 V432.4 h-7 Z M1387,432.4 h7 V438.0 h-7 Z M1395,435.9 h7 V439.7 h-7 Z M1475,302.5 h7 V314.7 h-7 Z M1483,304.1 h7 V313.9 h-7 Z M1555,254.4 h7 V261.8 h-7 Z M1563,259.5 h7 V271.1 h-7 Z M1571,274.6 h7 V284.8 h-7 Z M1603,260.4 h7 V264.2 h-7 Z M1619,258.6 h7 V268.0 h-7 Z M1627,264.3 h7 V272.5 h-7 Z M1635,268.0 h7 V273.0 h-7 Z M1651,245.3 h7 V254.5 h-7 Z" fill="#f23645"/>
<path d="M54.0,430.0 C55.3,429.3 59.3,425.7 62.0,425.7 C64.7,425.7 67.3,427.6 70.0,430.0 C72.7,432.4 75.3,438.4 78.0,440.0 C80.7,441.6 83.3,440.4 86.0,439.5 C88.7,438.6 91.3,435.0 94.0,434.4 C96.7,433.8 99.3,436.1 102.0,436.0 C104.7,435.9 107.3,433.3 110.0,433.5 C112.7,433.7 115.3,436.0 118.0,437.0 C120.7,438.0 123.3,438.9 126.0,439.5 C128.7,440.1 131.3,440.1 134.0,440.4 C136.7,440.7 139.3,441.1 142.0,441.3 C144.7,441.5 147.3,441.9 150.0,441.7 C152.7,441.5 155.3,441.8 158.0,440.4 C160.7,439.0 163.3,435.7 166.0,433.5 C168.7,431.3 171.3,429.3 174.0,427.4 C176.7,425.5 179.3,422.9 182.0,422.2 C184.7,421.5 187.3,421.8 190.0,423.0 C192.7,424.2 195.3,427.7 198.0,429.2 C200.7,430.7 203.3,431.2 206.0,431.8 C208.7,432.4 211.3,433.0 214.0,432.9 C216.7,432.8 219.3,429.8 222.0,431.2 C224.7,432.6 227.3,439.9 230.0,441.6 C232.7,443.3 235.3,441.2 238.0,441.6 C240.7,442.0 243.3,442.6 246.0,444.2 C248.7,445.8 251.3,450.1 254.0,451.1 C256.7,452.1 259.3,450.1 262.0,450.2 C264.7,450.3 267.3,451.6 270.0,452.0 C272.7,452.4 275.3,451.8 278.0,452.8 C280.7,453.8 283.3,457.0 286.0,458.0 C288.7,459.0 291.3,458.9 294.0,458.9 C296.7,458.9 299.3,457.3 302.0,458.0 C304.7,458.7 307.3,462.2 310.0,463.2 C312.7,464.2 315.3,463.6 318.0,464.0 C320.7,464.4 323.3,462.3 326.0,465.8 C328.7,469.3 331.3,481.9 334.0,484.8 C336.7,487.7 339.3,483.4 342.0,483.1 C344.7,482.8 347.3,483.4 350.0,483.1 C352.7,482.8 355.3,481.4 358.0,481.4 C360.7,481.4 363.3,483.0 366.0,483.1 C368.7,483.2 371.3,483.4 374.0,482.3 C376.7,481.2 379.3,478.0 382.0,476.3 C384.7,474.6 387.3,472.4 390.0,472.0 C392.7,471.6 395.3,471.2 398.0,473.7 C400.7,476.1 403.3,482.2 406.0,486.7 C408.7,491.2 411.3,495.9 414.0,500.5 C416.7,505.1 419.3,513.4 422.0,514.4 C424.7,515.4 427.3,507.5 430.0,506.6 C432.7,505.7 435.3,508.3 438.0,509.2 C440.7,510.1 443.3,511.8 446.0,511.8 C448.7,511.8 451.3,510.6 454.0,509.2 C456.7,507.8 459.3,504.1 462.0,503.1 C464.7,502.1 467.3,503.1 470.0,503.1 C472.7,503.1 475.3,503.7 478.0,503.1 C480.7,502.5 483.3,502.0 486.0,499.7 C488.7,497.4 491.3,494.1 494.0,489.3 C496.7,484.5 499.3,475.3 502.0,471.1 C504.7,466.9 507.3,465.6 510.0,464.2 C512.7,462.8 515.3,462.3 518.0,462.4 C520.7,462.5 523.3,465.9 526.0,465.0 C528.7,464.1 531.3,459.7 534.0,456.9 C536.7,454.1 539.3,450.4 542.0,448.4 C544.7,446.4 547.3,445.4 550.0,444.8 C552.7,444.2 555.3,444.2 558.0,444.8 C560.7,445.4 563.3,447.2 566.0,448.4 C568.7,449.6 571.3,450.5 574.0,452.1 C576.7,453.7 579.3,458.7 582.0,458.1 C584.7,457.5 587.3,451.1 590.0,448.4 C592.7,445.7 595.3,442.9 598.0,441.8 C600.7,440.7 603.3,441.7 606.0,441.8 C608.7,441.9 611.3,441.1 614.0,442.4 C616.7,443.7 619.3,447.4 622.0,449.6 C624.7,451.8 627.3,453.5 630.0,455.7 C632.7,457.9 635.3,460.6 638.0,463.0 C640.7,465.4 643.3,467.0 646.0,470.2 C648.7,473.4 651.3,478.3 654.0,482.3 C656.7,486.3 659.3,486.9 662.0,494.4 C664.7,501.9 667.3,522.9 670.0,527.1 C672.7,531.4 675.3,521.7 678.0,519.9 C680.7,518.1 683.3,519.4 686.0,516.2 C688.7,513.0 691.3,505.8 694.0,500.8 C696.7,495.8 699.3,489.0 702.0,486.3 C704.7,483.6 707.3,483.4 710.0,484.5 C712.7,485.6 715.3,491.0 718.0,492.7 C720.7,494.4 723.3,494.8 726.0,494.5 C728.7,494.2 731.3,491.3 734.0,490.8 C736.7,490.3 739.3,489.9 742.0,491.7 C744.7,493.5 747.3,500.3 750.0,501.7 C752.7,503.1 755.3,500.9 758.0,499.9 C760.7,498.8 763.3,496.1 766.0,495.4 C768.7,494.6 771.3,495.2 774.0,495.4 C776.7,495.5 779.3,496.6 782.0,496.3 C784.7,496.0 787.3,495.0 790.0,493.6 C792.7,492.2 795.3,489.2 798.0,488.1 C800.7,487.0 803.3,490.2 806.0,487.2 C808.7,484.2 811.3,473.5 814.0,469.9 C816.7,466.3 819.3,466.3 822.0,465.4 C824.7,464.5 827.3,464.4 830.0,464.5 C832.7,464.6 835.3,462.1 838.0,466.3 C840.7,470.5 843.3,485.0 846.0,489.9 C848.7,494.8 851.3,494.8 854.0,495.4 C856.7,496.0 859.3,493.6 862.0,493.6 C864.7,493.6 867.3,494.8 870.0,495.4 C872.7,496.0 875.3,496.1 878.0,497.2 C880.7,498.2 883.3,501.1 886.0,501.7 C888.7,502.3 891.3,500.9 894.0,500.8 C896.7,500.7 899.3,499.9 902.0,500.8 C904.7,501.7 907.3,504.9 910.0,506.3 C912.7,507.7 915.3,506.0 918.0,509.0 C920.7,512.0 923.3,521.7 926.0,524.4 C928.7,527.1 931.3,525.3 934.0,525.3 C936.7,525.3 939.3,526.4 942.0,524.4 C944.7,522.4 947.3,516.4 950.0,513.5 C952.7,510.6 955.3,508.2 958.0,507.2 C960.7,506.1 963.3,507.8 966.0,507.2 C968.7,506.6 971.3,506.4 974.0,503.5 C976.7,500.6 979.3,492.2 982.0,489.9 C984.7,487.6 987.3,489.9 990.0,489.9 C992.7,489.9 995.3,488.7 998.0,489.9 C1000.7,491.1 1003.3,497.2 1006.0,497.2 C1008.7,497.2 1011.3,491.4 1014.0,489.9 C1016.7,488.4 1019.3,490.5 1022.0,488.1 C1024.7,485.7 1027.3,478.4 1030.0,475.4 C1032.7,472.4 1035.3,470.5 1038.0,469.9 C1040.7,469.3 1043.3,471.2 1046.0,471.8 C1048.7,472.4 1051.3,474.2 1054.0,473.6 C1056.7,473.0 1059.3,469.2 1062.0,468.1 C1064.7,467.0 1067.3,467.5 1070.0,467.2 C1072.7,466.9 1075.3,467.2 1078.0,466.3 C1080.7,465.4 1083.3,463.6 1086.0,461.8 C1088.7,460.0 1091.3,456.5 1094.0,455.4 C1096.7,454.3 1099.3,455.0 1102.0,455.0 C1104.7,455.0 1107.3,454.4 1110.0,455.4 C1112.7,456.4 1115.3,458.6 1118.0,460.9 C1120.7,463.2 1123.3,466.1 1126.0,469.0 C1128.7,471.9 1131.3,474.9 1134.0,478.1 C1136.7,481.3 1139.3,487.7 1142.0,488.1 C1144.7,488.6 1147.3,482.5 1150.0,480.8 C1152.7,479.1 1155.3,479.0 1158.0,478.1 C1160.7,477.2 1163.3,476.8 1166.0,475.4 C1168.7,474.0 1171.3,470.3 1174.0,470.0 C1176.7,469.7 1179.3,472.3 1182.0,473.5 C1184.7,474.7 1187.3,474.8 1190.0,477.0 C1192.7,479.2 1195.3,485.8 1198.0,486.5 C1200.7,487.2 1203.3,483.8 1206.0,481.3 C1208.7,478.9 1211.3,473.1 1214.0,471.8 C1216.7,470.5 1219.3,475.4 1222.0,473.5 C1224.7,471.6 1227.3,464.4 1230.0,460.5 C1232.7,456.6 1235.3,452.8 1238.0,450.1 C1240.7,447.4 1243.3,444.8 1246.0,444.1 C1248.7,443.4 1251.3,446.5 1254.0,445.8 C1256.7,445.1 1259.3,440.7 1262.0,439.7 C1264.7,438.7 1267.3,439.8 1270.0,439.7 C1272.7,439.6 1275.3,438.8 1278.0,438.9 C1280.7,439.0 1283.3,439.7 1286.0,440.6 C1288.7,441.5 1291.3,442.8 1294.0,444.1 C1296.7,445.4 1299.3,448.1 1302.0,448.4 C1304.7,448.7 1307.3,446.8 1310.0,445.8 C1312.7,444.8 1315.3,442.3 1318.0,442.3 C1320.7,442.3 1323.3,445.9 1326.0,445.8 C1328.7,445.7 1331.3,443.8 1334.0,441.8 C1336.7,439.8 1339.3,438.1 1342.0,433.9 C1344.7,429.7 1347.3,419.6 1350.0,416.5 C1352.7,413.4 1355.3,414.5 1358.0,415.2 C1360.7,415.9 1363.3,418.5 1366.0,420.5 C1368.7,422.5 1371.3,425.4 1374.0,427.2 C1376.7,429.0 1379.3,429.9 1382.0,431.2 C1384.7,432.5 1387.3,434.1 1390.0,435.2 C1392.7,436.3 1395.3,437.6 1398.0,437.8 C1400.7,438.0 1403.3,440.7 1406.0,436.5 C1408.7,432.3 1411.3,419.7 1414.0,412.7 C1416.7,405.7 1419.3,398.1 1422.0,394.5 C1424.7,390.9 1427.3,391.8 1430.0,390.9 C1432.7,390.0 1435.3,392.5 1438.0,389.4 C1440.7,386.2 1443.3,377.9 1446.0,372.0 C1448.7,366.1 1451.3,361.8 1454.0,353.9 C1456.7,346.0 1459.3,333.2 1462.0,324.6 C1464.7,316.0 1467.3,304.7 1470.0,302.0 C1472.7,299.3 1475.3,307.4 1478.0,308.6 C1480.7,309.8 1483.3,309.9 1486.0,309.0 C1488.7,308.1 1491.3,304.8 1494.0,303.0 C1496.7,301.2 1499.3,299.5 1502.0,298.2 C1504.7,296.9 1507.3,296.0 1510.0,295.2 C1512.7,294.4 1515.3,294.8 1518.0,293.1 C1520.7,291.4 1523.3,289.5 1526.0,284.9 C1528.7,280.3 1531.3,270.6 1534.0,265.3 C1536.7,260.0 1539.3,255.2 1542.0,253.0 C1544.7,250.8 1547.3,251.2 1550.0,252.0 C1552.7,252.8 1555.3,255.9 1558.0,258.1 C1560.7,260.3 1563.3,261.7 1566.0,265.3 C1568.7,268.9 1571.3,277.9 1574.0,279.7 C1576.7,281.5 1579.3,277.6 1582.0,276.1 C1584.7,274.6 1587.3,273.1 1590.0,270.5 C1592.7,267.9 1595.3,261.6 1598.0,260.2 C1600.7,258.8 1603.3,262.5 1606.0,262.3 C1608.7,262.1 1611.3,259.0 1614.0,259.2 C1616.7,259.4 1619.3,261.8 1622.0,263.3 C1624.7,264.8 1627.3,267.2 1630.0,268.4 C1632.7,269.6 1635.3,276.0 1638.0,270.5 C1640.7,265.0 1643.3,238.9 1646.0,235.5 C1648.7,232.1 1651.3,248.2 1654.0,249.9 C1656.7,251.6 1660.7,246.5 1662.0,245.8" stroke="#ffeb3b" stroke-width="2.1" fill="none"/>
<path d="M1669.5,236 V250 M1665,243 H1674" stroke="#22ab94" stroke-width="1.5"/>
</g>
</svg>
<svg width="60" height="560" style="left:0;top:0"><path d="M28.2,133 H43.6" stroke="#555" stroke-width="1.3" fill="none"/><circle cx="35.9" cy="133" r="1.5" fill="#555"/><path d="M29.3,164 H43.6" stroke="#555" stroke-width="1.3" fill="none"/><circle cx="29.3" cy="164" r="1.7" fill="#555"/><circle cx="37" cy="164" r="1.7" fill="#555"/><path d="M29.3,195 H42.4" stroke="#555" stroke-width="1.3" fill="none"/><circle cx="29.3" cy="195" r="1.7" fill="#555"/><circle cx="42.4" cy="195" r="1.7" fill="#555"/><path d="M35.9,217.4 V234.8" stroke="#555" stroke-width="1.3" fill="none"/><circle cx="35.9" cy="226" r="1.5" fill="#555"/><path d="M35.9,249.4 V263.3" stroke="#555" stroke-width="1.3" fill="none"/><circle cx="35.9" cy="256" r="1.7" fill="#555"/><circle cx="35.9" cy="263.3" r="1.7" fill="#555"/><path d="M35.9,281.4 V294.7" stroke="#555" stroke-width="1.3" fill="none"/><circle cx="35.9" cy="281.4" r="1.7" fill="#555"/><circle cx="35.9" cy="294.7" r="1.7" fill="#555"/><path d="M28.1,325.3 L40.2,312.8" stroke="#555" stroke-width="1.3" fill="none"/><circle cx="33.5" cy="321.1" r="1.7" fill="#555"/><circle cx="38.4" cy="316.7" r="1.7" fill="#555"/><path d="M30.2,355.7 L43,344" stroke="#555" stroke-width="1.3" fill="none"/><circle cx="30.2" cy="355.7" r="1.7" fill="#555"/><circle cx="34.5" cy="351.5" r="1.7" fill="#555"/><path d="M30,386.5 L40.5,376.7" stroke="#555" stroke-width="1.3" fill="none"/><circle cx="30" cy="386.5" r="1.7" fill="#555"/><circle cx="40.5" cy="376.7" r="1.7" fill="#555"/><path d="M28.8,414 H43.8" stroke="#555" stroke-width="1.1" fill="none"/><circle cx="28.8" cy="414" r="1.7" fill="#555"/><text x="31.5" y="411.5" font-size="6" fill="#555" font-family="Liberation Sans">123</text><path d="M31.5,412.2 H42" stroke="#555" stroke-width="0.6" fill="none"/><path d="M27.1,446.9 L39.2,434.8 M32.3,452.6 L44.3,440" stroke="#555" stroke-width="1.3" fill="none"/><circle cx="33.4" cy="441.2" r="1.7" fill="#555"/><circle cx="36" cy="448.6" r="1.7" fill="#555"/><circle cx="40.5" cy="444.5" r="1.7" fill="#555"/><path d="M27.9,474.3 L37.4,466 M29.4,480.3 L42,468.4 M34.8,482.3 L44.3,472.5" stroke="#555" stroke-width="1.2" fill="none"/><circle cx="38.4" cy="471.6" r="1.7" fill="#555"/><circle cx="33.4" cy="476.5" r="1.7" fill="#555"/><circle cx="39.2" cy="478.7" r="1.7" fill="#555"/><path d="M27.3,499.2 H44.9 M27.3,502.7 H44.9 M27.3,505.8 H44.9 M27.3,509 H44.9 M27.3,512.5 H44.9" stroke="#555" stroke-width="1.0" fill="none"/><circle cx="31.7" cy="499.2" r="1.5" fill="#555"/><circle cx="40.5" cy="499.2" r="1.5" fill="#555"/><circle cx="35.8" cy="512.5" r="1.5" fill="#555"/><path d="M27.3,529.7 H44.3 M33.4,529.5 C33.6,526.5 38.2,526.5 38.4,529.5 M29.8,530 V543.5 C29.8,545.3 30.5,545.6 32,545.6 H40.3 C41.8,545.6 42.4,545.3 42.4,543.5 V530 M33.6,533.5 V541.5 M37.8,533.5 V541.5" stroke="#555" stroke-width="1.3" fill="none"/></svg>
<div class="r" style="left:52px;top:464px;width:5px;height:15px;background:#4caf50"></div>
<div class="t" style="left:61.5px;top:124.8px;font-size:12px;color:#6b7385;font-weight:normal;"><span style="color:#6b7385">O=</span><span style="color:#1fab82">99899.2</span> <span style="color:#6b7385">H=</span><span style="color:#1fab82">100597.5</span> <span style="color:#6b7385">L=</span><span style="color:#1fab82">98709.4</span> <span style="color:#6b7385">C=</span><span style="color:#1fab82">100078.1</span> <span style="color:#6b7385">V=</span><span style="color:#1fab82">78539.97</span> <span style="color:#6b7385">CHANGE=</span><span style="color:#1fab82">0.18%</span> <span style="color:#6b7385">AMPLITUDE=</span><span style="color:#1fab82">1.89%</span> </div>
<div class="t" style="left:64.4px;top:144.8px;font-size:12px;color:#7a8090;font-weight:normal;letter-spacing:0.25px">Pivot Point</div>
<div class="t" style="left:140.5px;top:144.8px;font-size:12px;color:#ff9800;font-weight:normal;">n/a</div>
<div class="t" style="left:64.4px;top:164.8px;font-size:12px;color:#7a8090;font-weight:normal;letter-spacing:0.25px">Resistance 1</div>
<div class="t" style="left:150.0px;top:164.8px;font-size:12px;color:#9c5fc8;font-weight:normal;">n/a</div>
<div class="t" style="left:64.4px;top:184.8px;font-size:12px;color:#7a8090;font-weight:normal;letter-spacing:0.25px">Support 1</div>
<div class="t" style="left:133.0px;top:184.8px;font-size:12px;color:#2979ff;font-weight:normal;">n/a</div>
<div class="t" style="left:64.4px;top:204.8px;font-size:12px;color:#7a8090;font-weight:normal;letter-spacing:0.25px">Resistance 2</div>
<div class="t" style="left:152.0px;top:204.8px;font-size:12px;color:#e91e63;font-weight:normal;">n/a</div>
<div class="t" style="left:64.4px;top:224.8px;font-size:12px;color:#7a8090;font-weight:normal;letter-spacing:0.25px">Support 2</div>
<div class="t" style="left:135.7px;top:224.8px;font-size:12px;color:#00bcd4;font-weight:normal;">n/a</div>
<div class="t" style="left:64.4px;top:244.8px;font-size:12px;color:#7a8090;font-weight:normal;letter-spacing:0.25px">Fibonacci 23.6%</div>
<div class="t" style="left:173.0px;top:244.8px;font-size:12px;color:#ff9800;font-weight:normal;">n/a</div>
<div class="t" style="left:64.4px;top:264.8px;font-size:12px;color:#7a8090;font-weight:normal;letter-spacing:0.25px">Fibonacci 38.2%</div>
<div class="t" style="left:173.0px;top:264.8px;font-size:12px;color:#9c5fc8;font-weight:normal;">n/a</div>
<div class="t" style="left:64.4px;top:284.8px;font-size:12px;color:#7a8090;font-weight:normal;letter-spacing:0.25px">Fibonacci 50%</div>
<div class="t" style="left:163.0px;top:284.8px;font-size:12px;color:#2979ff;font-weight:normal;">n/a</div>
<div class="t" style="left:64.4px;top:304.8px;font-size:12px;color:#7a8090;font-weight:normal;letter-spacing:0.25px">Fibonacci 61.8%</div>
<div class="t" style="left:171.0px;top:304.8px;font-size:12px;color:#e91e63;font-weight:normal;">n/a</div>
<div class="t" style="left:64.4px;top:324.8px;font-size:12px;color:#7a8090;font-weight:normal;letter-spacing:0.25px">20 EMA</div>
<div class="t" style="left:124.0px;top:324.8px;font-size:12px;color:#00bcd4;font-weight:normal;">n/a</div>
<div class="t" style="left:64.4px;top:344.8px;font-size:12px;color:#7a8090;font-weight:normal;letter-spacing:0.25px">50 EMA</div>
<div class="t" style="left:124.0px;top:344.8px;font-size:12px;color:#ff9800;font-weight:normal;">n/a</div>
<div class="t" style="left:1762.0px;top:174.5px;font-size:12.4px;color:#7b8394;font-weight:normal;">110,000.00</div>
<div class="t" style="left:1762.0px;top:236.6px;font-size:12.4px;color:#7b8394;font-weight:normal;">100,000.00</div>
<div class="t" style="left:1762.0px;top:298.6px;font-size:12.4px;color:#7b8394;font-weight:normal;">90,000.00</div>
<div class="t" style="left:1762.0px;top:360.7px;font-size:12.4px;color:#7b8394;font-weight:normal;">80,000.00</div>
<div class="t" style="left:1762.0px;top:422.7px;font-size:12.4px;color:#7b8394;font-weight:normal;">70,000.00</div>
<div class="t" style="left:1762.0px;top:484.8px;font-size:12.4px;color:#7b8394;font-weight:normal;">60,000.00</div>
<div class="t" style="left:1762.0px;top:546.8px;font-size:12.4px;color:#7b8394;font-weight:normal;">50,000.00</div>
<div class="t" style="left:1762.0px;top:608.9px;font-size:12.4px;color:#7b8394;font-weight:normal;">40,000.00</div>
<div class="t" style="left:-1254.4px;width:3000px;text-align:center;top:634.2px;font-size:12.4px;color:#7b8394;font-weight:normal;">2024&ndash;06</div>
<div class="t" style="left:-1014.4px;width:3000px;text-align:center;top:634.2px;font-size:12.4px;color:#7b8394;font-weight:normal;">2024&ndash;07</div>
<div class="t" style="left:-774.4px;width:3000px;text-align:center;top:634.2px;font-size:12.4px;color:#7b8394;font-weight:normal;">2024&ndash;08</div>
<div class="t" style="left:-534.4px;width:3000px;text-align:center;top:634.2px;font-size:12.4px;color:#7b8394;font-weight:normal;">2024&ndash;09</div>
<div class="t" style="left:-294.4px;width:3000px;text-align:center;top:634.2px;font-size:12.4px;color:#7b8394;font-weight:normal;">2024&ndash;10</div>
<div class="t" style="left:-54.4px;width:3000px;text-align:center;top:634.2px;font-size:12.4px;color:#7b8394;font-weight:normal;">2024&ndash;11</div>
<div class="r" style="left:1608px;top:125px;width:135px;height:23px;border:1px solid #e5e5e5;border-radius:3px;background:#fff"></div>
<div class="r" style="left:1655px;top:125px;width:1px;height:23px;background:#e5e5e5"></div>
<div class="r" style="left:1720px;top:125px;width:1px;height:23px;background:#e5e5e5"></div>
<div class="t" style="left:1616.0px;top:130.4px;font-size:12.5px;color:#666;font-weight:normal;">Order</div>
<div class="t" style="left:1663.0px;top:130.4px;font-size:12.5px;color:#666;font-weight:normal;">Indicator</div>
<svg width="28" height="26" style="left:1718px;top:124px"><path d="M9.2,8.1 L11.8,11 M18.8,8.2 L16,10.8 M9.2,17.4 L12,14.9 M18.6,17.5 L16.2,14.8" stroke="#6e6e6e" stroke-width="1.9" stroke-linecap="round" fill="none"/></svg>
<svg width="1848" height="1652" viewBox="0 0 1848 1652" style="left:0;top:0">
<path d="M30,1163.2 H1806 M30,1186.3 H1806 M30,1209.2 H1806 M30,1231.3 H1806 M30,1254.2 H1806 M30,1299.3 H1806 M30,1321.5 H1806 M30,1328.6 H1806 M30,1400.5 H1806 M30,1406.7 H1806 M30,1478.1 H1806 M30,1485 H1806" stroke="#e6e6e6" stroke-width="1" fill="none"/>
<path d="M1806.5,1163 V1321.5 M1806.5,1328.6 V1400.5 M1806.5,1406.7 V1478.1 M1806.5,1485 V1556.4 M30,1556.5 H1806" stroke="#ccd6eb" stroke-width="1" fill="none"/>
<path d="M30.0,1274.7 L31.2,1275.8 L32.4,1275.1 L33.6,1276.0 L34.8,1276.1 L36.0,1274.0 L37.2,1273.8 L38.4,1276.8 L39.6,1274.7 L40.8,1274.6 L42.0,1277.4 L43.2,1275.5 L44.4,1276.8 L45.6,1275.5 L46.8,1276.1 L48.0,1274.3 L49.2,1276.1 L50.4,1276.9 L51.6,1275.7 L52.8,1276.5 L54.0,1276.0 L55.2,1273.6 L56.4,1276.0 L57.6,1275.2 L58.8,1273.9 L60.0,1272.8 L61.2,1275.6 L62.4,1274.0 L63.6,1274.7 L64.8,1275.1 L66.0,1274.3 L67.2,1275.0 L68.4,1273.0 L69.6,1274.3 L70.8,1272.9 L72.0,1274.5 L73.2,1274.2 L74.4,1271.3 L75.6,1271.3 L76.8,1271.5 L78.0,1274.1 L79.2,1272.0 L80.4,1272.6 L81.6,1271.3 L82.8,1272.2 L84.0,1272.0 L85.2,1272.1 L86.4,1273.1 L87.6,1273.4 L88.8,1274.7 L90.0,1274.2 L91.2,1275.3 L92.4,1275.2 L93.6,1275.9 L94.8,1275.0 L96.0,1273.5 L97.2,1276.4 L98.4,1277.1 L99.6,1277.2 L100.8,1276.4 L102.0,1277.2 L103.2,1275.8 L104.4,1278.3 L105.6,1277.8 L106.8,1275.5 L108.0,1271.4 L109.2,1270.9 L110.4,1270.9 L111.6,1268.1 L112.8,1271.0 L114.0,1270.1 L115.2,1269.5 L116.4,1270.5 L117.6,1272.6 L118.8,1273.4 L120.0,1270.8 L121.2,1273.2 L122.4,1271.3 L123.6,1273.9 L124.8,1272.7 L126.0,1274.8 L127.2,1275.3 L128.4,1273.8 L129.6,1275.7 L130.8,1273.4 L132.0,1272.7 L133.2,1274.8 L134.4,1272.9 L135.6,1273.6 L136.8,1274.6 L138.0,1275.5 L139.2,1274.0 L140.4,1273.8 L141.6,1276.9 L142.8,1275.1 L144.0,1277.5 L145.2,1277.5 L146.4,1275.8 L147.6,1276.3 L148.8,1276.6 L150.0,1277.2 L151.2,1277.2 L152.4,1277.3 L153.6,1277.5 L154.8,1278.1 L156.0,1276.0 L157.2,1275.2 L158.4,1275.7 L159.6,1273.4 L160.8,1273.1 L162.0,1275.0 L163.2,1272.8 L164.4,1272.3 L165.6,1270.4 L166.8,1272.0 L168.0,1272.8 L169.2,1270.9 L170.4,1273.2 L171.6,1273.4 L172.8,1271.6 L174.0,1273.8 L175.2,1273.4 L176.4,1274.2 L177.6,1272.9 L178.8,1274.0 L180.0,1274.0 L181.2,1271.3 L182.4,1271.2 L183.6,1273.3 L184.8,1274.2 L186.0,1271.5 L187.2,1272.1 L188.4,1272.4 L189.6,1271.4 L190.8,1271.6 L192.0,1271.6 L193.2,1271.9 L194.4,1272.8 L195.6,1271.8 L196.8,1272.2 L198.0,1273.7 L199.2,1271.1 L200.4,1273.2 L201.6,1273.9 L202.8,1272.4 L204.0,1272.2 L205.2,1274.4 L206.4,1272.5 L207.6,1272.4 L208.8,1273.4 L210.0,1274.3 L211.2,1272.2 L212.4,1273.0 L213.6,1273.0 L214.8,1274.8 L216.0,1273.4 L217.2,1274.9 L218.4,1272.4 L219.6,1273.0 L220.8,1274.1 L222.0,1275.0 L223.2,1273.4 L224.4,1272.6 L225.6,1272.2 L226.8,1273.7 L228.0,1272.5 L229.2,1274.7 L230.4,1274.8 L231.6,1272.5 L232.8,1272.8 L234.0,1274.7 L235.2,1274.1 L236.4,1274.7 L237.6,1273.0 L238.8,1272.3 L240.0,1272.9 L241.2,1274.4 L242.4,1270.7 L243.6,1269.3 L244.8,1268.5 L246.0,1268.5 L247.2,1268.5 L248.4,1270.3 L249.6,1267.6 L250.8,1267.1 L252.0,1270.5 L253.2,1270.2 L254.4,1270.6 L255.6,1268.7 L256.8,1270.5 L258.0,1270.5 L259.2,1267.9 L260.4,1269.8 L261.6,1270.2 L262.8,1269.5 L264.0,1269.0 L265.2,1268.2 L266.4,1268.4 L267.6,1268.0 L268.8,1267.5 L270.0,1269.3 L271.2,1268.3 L272.4,1270.2 L273.6,1267.4 L274.8,1270.5 L276.0,1269.8 L277.2,1270.6 L278.4,1270.5 L279.6,1270.5 L280.8,1271.2 L282.0,1271.0 L283.2,1273.6 L284.4,1271.5 L285.6,1271.9 L286.8,1273.1 L288.0,1272.6 L289.2,1272.1 L290.4,1274.0 L291.6,1272.7 L292.8,1271.7 L294.0,1271.3 L295.2,1273.5 L296.4,1272.0 L297.6,1273.1 L298.8,1271.5 L300.0,1270.8 L301.2,1272.0 L302.4,1273.0 L303.6,1270.6 L304.8,1272.8 L306.0,1273.2 L307.2,1272.7 L308.4,1272.7 L309.6,1269.7 L310.8,1271.9 L312.0,1272.7 L313.2,1269.7 L314.4,1270.4 L315.6,1270.4 L316.8,1270.9 L318.0,1270.2 L319.2,1269.9 L320.4,1270.6 L321.6,1267.5 L322.8,1267.2 L324.0,1267.1 L325.2,1266.7 L326.4,1266.1 L327.6,1269.0 L328.8,1268.1 L330.0,1264.9 L331.2,1265.9 L332.4,1264.8 L333.6,1264.3 L334.8,1264.0 L336.0,1264.6 L337.2,1263.9 L338.4,1262.6 L339.6,1261.6 L340.8,1261.6 L342.0,1260.4 L343.2,1261.5 L344.4,1261.5 L345.6,1259.8 L346.8,1258.2 L348.0,1258.1 L349.2,1258.2 L350.4,1258.6 L351.6,1258.7 L352.8,1256.7 L354.0,1257.7 L355.2,1256.6 L356.4,1255.5 L357.6,1254.8 L358.8,1254.9 L360.0,1255.2 L361.2,1253.8 L362.4,1254.4 L363.6,1253.3 L364.8,1252.2 L366.0,1252.9 L367.2,1253.2 L368.4,1251.4 L369.6,1253.1 L370.8,1253.6 L372.0,1255.6 L373.2,1256.3 L374.4,1254.7 L375.6,1257.0 L376.8,1257.1 L378.0,1255.6 L379.2,1255.0 L380.4,1251.5 L381.6,1251.7 L382.8,1248.9 L384.0,1247.5 L385.2,1245.2 L386.4,1243.7 L387.6,1242.9 L388.8,1241.3 L390.0,1238.6 L391.2,1239.4 L392.4,1236.2 L393.6,1235.7 L394.8,1237.0 L396.0,1233.3 L397.2,1231.4 L398.4,1229.1 L399.6,1229.5 L400.8,1224.5 L402.0,1219.9 L403.2,1218.0 L404.4,1210.6 L405.6,1211.0 L406.8,1213.4 L408.0,1217.1 L409.2,1220.6 L410.4,1222.3 L411.6,1224.9 L412.8,1223.1 L414.0,1226.6 L415.2,1226.6 L416.4,1228.2 L417.6,1226.9 L418.8,1230.1 L420.0,1231.7 L421.2,1229.4 L422.4,1231.3 L423.6,1233.0 L424.8,1232.7 L426.0,1228.6 L427.2,1226.3 L428.4,1224.6 L429.6,1223.9 L430.8,1222.4 L432.0,1219.1 L433.2,1217.0 L434.4,1212.5 L435.6,1206.4 L436.8,1200.8 L438.0,1197.2 L439.2,1196.6 L440.4,1196.3 L441.6,1192.2 L442.8,1191.3 L444.0,1187.1 L445.2,1187.0 L446.4,1185.1 L447.6,1182.8 L448.8,1183.9 L450.0,1189.1 L451.2,1195.1 L452.4,1201.4 L453.6,1204.1 L454.8,1208.7 L456.0,1208.9 L457.2,1207.5 L458.4,1203.9 L459.6,1201.6 L460.8,1200.5 L462.0,1195.1 L463.2,1191.2 L464.4,1186.8 L465.6,1184.0 L466.8,1178.8 L468.0,1177.5 L469.2,1181.4 L470.4,1184.6 L471.6,1184.4 L472.8,1188.1 L474.0,1189.3 L475.2,1193.1 L476.4,1194.3 L477.6,1195.4 L478.8,1197.4 L480.0,1195.0 L481.2,1193.7 L482.4,1190.3 L483.6,1186.5 L484.8,1184.2 L486.0,1182.3 L487.2,1184.7 L488.4,1183.1 L489.6,1186.9 L490.8,1185.8 L492.0,1186.9 L493.2,1187.2 L494.4,1186.9 L495.6,1183.7 L496.8,1179.6 L498.0,1176.1 L499.2,1177.2 L500.4,1181.3 L501.6,1183.3 L502.8,1188.1 L504.0,1192.6 L505.2,1194.4 L506.4,1197.2 L507.6,1200.8 L508.8,1206.2 L510.0,1209.1 L511.2,1207.0 L512.4,1203.4 L513.6,1198.1 L514.8,1194.8 L516.0,1191.9 L517.2,1190.3 L518.4,1191.7 L519.6,1191.8 L520.8,1191.4 L522.0,1188.7 L523.2,1191.1 L524.4,1191.5 L525.6,1194.2 L526.8,1199.8 L528.0,1203.9 L529.2,1210.5 L530.4,1219.6 L531.6,1224.2 L532.8,1230.9 L534.0,1238.2 L535.2,1240.1 L536.4,1237.7 L537.6,1238.9 L538.8,1239.3 L540.0,1239.4 L541.2,1238.5 L542.4,1239.8 L543.6,1241.1 L544.8,1239.1 L546.0,1239.7 L547.2,1238.1 L548.4,1238.1 L549.6,1238.8 L550.8,1236.1 L552.0,1238.2 L553.2,1237.6 L554.4,1234.0 L555.6,1236.3 L556.8,1233.6 L558.0,1234.3 L559.2,1235.5 L560.4,1236.9 L561.6,1241.4 L562.8,1244.4 L564.0,1248.1 L565.2,1249.2 L566.4,1254.1 L567.6,1255.4 L568.8,1253.6 L570.0,1252.3 L571.2,1250.0 L572.4,1250.6 L573.6,1249.3 L574.8,1249.9 L576.0,1249.0 L577.2,1247.8 L578.4,1245.7 L579.6,1246.6 L580.8,1247.1 L582.0,1246.3 L583.2,1249.6 L584.4,1249.5 L585.6,1248.3 L586.8,1251.9 L588.0,1249.8 L589.2,1251.2 L590.4,1253.4 L591.6,1253.7 L592.8,1254.3 L594.0,1255.3 L595.2,1252.7 L596.4,1249.3 L597.6,1245.9 L598.8,1242.6 L600.0,1242.1 L601.2,1239.3 L602.4,1235.6 L603.6,1233.5 L604.8,1230.3 L606.0,1228.9 L607.2,1228.2 L608.4,1228.9 L609.6,1224.9 L610.8,1225.5 L612.0,1223.5 L613.2,1224.3 L614.4,1221.7 L615.6,1220.6 L616.8,1219.8 L618.0,1219.3 L619.2,1219.2 L620.4,1216.7 L621.6,1217.4 L622.8,1213.8 L624.0,1213.4 L625.2,1212.0 L626.4,1211.5 L627.6,1213.4 L628.8,1212.8 L630.0,1210.4 L631.2,1209.9 L632.4,1210.2 L633.6,1210.9 L634.8,1210.7 L636.0,1210.0 L637.2,1208.9 L638.4,1206.9 L639.6,1207.3 L640.8,1206.1 L642.0,1211.8 L643.2,1217.4 L644.4,1220.6 L645.6,1220.3 L646.8,1221.8 L648.0,1218.7 L649.2,1221.1 L650.4,1221.0 L651.6,1220.8 L652.8,1218.4 L654.0,1218.6 L655.2,1222.4 L656.4,1226.2 L657.6,1230.2 L658.8,1230.1 L660.0,1229.5 L661.2,1232.4 L662.4,1232.0 L663.6,1233.3 L664.8,1228.9 L666.0,1220.9 L667.2,1218.3 L668.4,1212.5 L669.6,1206.5 L670.8,1203.4 L672.0,1202.2 L673.2,1200.2 L674.4,1200.4 L675.6,1197.7 L676.8,1198.3 L678.0,1197.9 L679.2,1196.2 L680.4,1194.7 L681.6,1192.5 L682.8,1188.6 L684.0,1182.2 L685.2,1183.0 L686.4,1184.9 L687.6,1185.4 L688.8,1189.1 L690.0,1191.2 L691.2,1193.2 L692.4,1193.4 L693.6,1193.0 L694.8,1189.0 L696.0,1189.2 L697.2,1186.8 L698.4,1183.0 L699.6,1183.8 L700.8,1181.1 L702.0,1180.5 L703.2,1179.5 L704.4,1181.5 L705.6,1182.0 L706.8,1185.5 L708.0,1187.9 L709.2,1189.6 L710.4,1189.9 L711.6,1192.9 L712.8,1193.6 L714.0,1193.9 L715.2,1195.3 L716.4,1197.2 L717.6,1199.3 L718.8,1200.8 L720.0,1202.9 L721.2,1204.3 L722.4,1204.5 L723.6,1204.8 L724.8,1206.3 L726.0,1205.8 L727.2,1208.4 L728.4,1217.9 L729.6,1218.4 L730.8,1218.1 L732.0,1221.2 L733.2,1221.0 L734.4,1220.2 L735.6,1220.7 L736.8,1221.8 L738.0,1222.5 L739.2,1221.6 L740.4,1221.3 L741.6,1222.5 L742.8,1225.1 L744.0,1223.3 L745.2,1224.5 L746.4,1222.7 L747.6,1221.9 L748.8,1220.8 L750.0,1220.8 L751.2,1219.1 L752.4,1220.2 L753.6,1222.7 L754.8,1225.1 L756.0,1228.5 L757.2,1229.2 L758.4,1231.2 L759.6,1235.0 L760.8,1237.0 L762.0,1238.9 L763.2,1236.8 L764.4,1238.4 L765.6,1238.7 L766.8,1237.6 L768.0,1241.3 L769.2,1238.9 L770.4,1238.8 L771.6,1240.5 L772.8,1239.7 L774.0,1241.6 L775.2,1248.4 L776.4,1250.9 L777.6,1250.2 L778.8,1252.2 L780.0,1250.1 L781.2,1251.5 L782.4,1249.9 L783.6,1251.1 L784.8,1248.4 L786.0,1247.8 L787.2,1247.4 L788.4,1248.9 L789.6,1245.8 L790.8,1241.6 L792.0,1237.5 L793.2,1236.4 L794.4,1237.4 L795.6,1237.5 L796.8,1236.9 L798.0,1238.5 L799.2,1240.2 L800.4,1242.0 L801.6,1243.0 L802.8,1244.6 L804.0,1248.2 L805.2,1250.6 L806.4,1249.6 L807.6,1250.1 L808.8,1245.2 L810.0,1243.4 L811.2,1240.8 L812.4,1237.8 L813.6,1233.7 L814.8,1236.0 L816.0,1238.5 L817.2,1241.0 L818.4,1239.3 L819.6,1241.4 L820.8,1244.7 L822.0,1243.4 L823.2,1245.8 L824.4,1246.9 L825.6,1249.5 L826.8,1249.7 L828.0,1245.2 L829.2,1245.5 L830.4,1243.8 L831.6,1242.4 L832.8,1239.7 L834.0,1239.3 L835.2,1235.5 L836.4,1234.0 L837.6,1231.6 L838.8,1231.8 L840.0,1229.0 L841.2,1227.6 L842.4,1227.7 L843.6,1230.2 L844.8,1230.2 L846.0,1231.1 L847.2,1230.4 L848.4,1231.2 L849.6,1231.8 L850.8,1236.2 L852.0,1236.1 L853.2,1240.1 L854.4,1243.5 L855.6,1245.1 L856.8,1243.3 L858.0,1244.1 L859.2,1246.6 L860.4,1246.2 L861.6,1247.4 L862.8,1247.6 L864.0,1246.4 L865.2,1248.3 L866.4,1248.0 L867.6,1246.9 L868.8,1247.3 L870.0,1246.6 L871.2,1248.1 L872.4,1250.4 L873.6,1247.6 L874.8,1249.8 L876.0,1251.1 L877.2,1254.0 L878.4,1259.1 L879.6,1260.6 L880.8,1262.9 L882.0,1264.3 L883.2,1266.1 L884.4,1266.0 L885.6,1264.0 L886.8,1264.9 L888.0,1267.6 L889.2,1265.0 L890.4,1266.3 L891.6,1265.9 L892.8,1267.2 L894.0,1266.7 L895.2,1267.4 L896.4,1266.6 L897.6,1265.4 L898.8,1265.4 L900.0,1265.1 L901.2,1267.9 L902.4,1265.4 L903.6,1265.2 L904.8,1268.6 L906.0,1265.9 L907.2,1268.5 L908.4,1266.6 L909.6,1268.9 L910.8,1269.0 L912.0,1272.2 L913.2,1272.4 L914.4,1276.7 L915.6,1281.2 L916.8,1285.3 L918.0,1285.9 L919.2,1289.3 L920.4,1289.3 L921.6,1287.5 L922.8,1289.5 L924.0,1288.1 L925.2,1288.2 L926.4,1285.7 L927.6,1287.6 L928.8,1288.0 L930.0,1289.7 L931.2,1288.1 L932.4,1289.8 L933.6,1291.0 L934.8,1289.5 L936.0,1290.1 L937.2,1289.5 L938.4,1287.1 L939.6,1287.5 L940.8,1288.6 L942.0,1288.4 L943.2,1290.1 L944.4,1292.9 L945.6,1289.1 L946.8,1288.0 L948.0,1285.3 L949.2,1284.4 L950.4,1282.8 L951.6,1284.1 L952.8,1282.9 L954.0,1284.0 L955.2,1285.0 L956.4,1284.3 L957.6,1286.0 L958.8,1285.0 L960.0,1283.4 L961.2,1284.1 L962.4,1283.2 L963.6,1283.2 L964.8,1281.4 L966.0,1282.2 L967.2,1280.8 L968.4,1282.7 L969.6,1282.3 L970.8,1279.9 L972.0,1282.0 L973.2,1279.2 L974.4,1278.7 L975.6,1281.8 L976.8,1281.7 L978.0,1284.0 L979.2,1286.0 L980.4,1285.3 L981.6,1289.0 L982.8,1286.9 L984.0,1287.0 L985.2,1286.2 L986.4,1287.2 L987.6,1286.8 L988.8,1285.0 L990.0,1284.2 L991.2,1284.8 L992.4,1285.2 L993.6,1283.9 L994.8,1284.1 L996.0,1286.2 L997.2,1285.9 L998.4,1286.8 L999.6,1287.1 L1000.8,1288.3 L1002.0,1288.1 L1003.2,1289.0 L1004.4,1290.7 L1005.6,1290.2 L1006.8,1289.4 L1008.0,1288.5 L1009.2,1286.8 L1010.4,1287.6 L1011.6,1284.5 L1012.8,1284.2 L1014.0,1284.8 L1015.2,1284.7 L1016.4,1283.1 L1017.6,1283.1 L1018.8,1285.3 L1020.0,1282.6 L1021.2,1283.3 L1022.4,1284.9 L1023.6,1285.1 L1024.8,1283.7 L1026.0,1283.2 L1027.2,1283.7 L1028.4,1285.7 L1029.6,1284.5 L1030.8,1286.3 L1032.0,1285.5 L1033.2,1286.1 L1034.4,1282.7 L1035.6,1283.1 L1036.8,1282.5 L1038.0,1284.3 L1039.2,1284.2 L1040.4,1283.4 L1041.6,1285.5 L1042.8,1284.1 L1044.0,1285.1 L1045.2,1285.2 L1046.4,1287.4 L1047.6,1286.3 L1048.8,1286.0 L1050.0,1285.5 L1051.2,1287.1 L1052.4,1287.4 L1053.6,1287.1 L1054.8,1287.6 L1056.0,1286.7 L1057.2,1284.3 L1058.4,1286.5 L1059.6,1293.4 L1060.8,1298.3 L1062.0,1301.2 L1063.2,1302.1 L1064.4,1300.8 L1065.6,1299.5 L1066.8,1298.9 L1068.0,1298.0 L1069.2,1300.0 L1070.4,1300.7 L1071.6,1300.4 L1072.8,1298.7 L1074.0,1299.5 L1075.2,1300.5 L1076.4,1300.1 L1077.6,1299.4 L1078.8,1298.8 L1080.0,1299.2 L1081.2,1298.1 L1082.4,1298.2 L1083.6,1300.0 L1084.8,1301.2 L1086.0,1299.6 L1087.2,1299.2 L1088.4,1299.1 L1089.6,1299.4 L1090.8,1300.6 L1092.0,1299.3 L1093.2,1301.0 L1094.4,1298.1 L1095.6,1298.6 L1096.8,1299.3 L1098.0,1298.8 L1099.2,1300.3 L1100.4,1300.2 L1101.6,1300.5 L1102.8,1299.3 L1104.0,1297.1 L1105.2,1299.1 L1106.4,1299.1 L1107.6,1298.9 L1108.8,1298.2 L1110.0,1299.8 L1111.2,1300.6 L1112.4,1297.8 L1113.6,1299.9 L1114.8,1298.9 L1116.0,1299.5 L1117.2,1300.9 L1118.4,1301.2 L1119.6,1300.3 L1120.8,1299.6 L1122.0,1303.1 L1123.2,1301.3 L1124.4,1302.9 L1125.6,1305.5 L1126.8,1303.3 L1128.0,1302.4 L1129.2,1304.1 L1130.4,1303.4 L1131.6,1300.4 L1132.8,1299.9 L1134.0,1298.8 L1135.2,1298.1 L1136.4,1298.4 L1137.6,1300.8 L1138.8,1297.4 L1140.0,1297.8 L1141.2,1297.5 L1142.4,1296.9 L1143.6,1298.3 L1144.8,1299.0 L1146.0,1299.5 L1147.2,1299.4 L1148.4,1300.7 L1149.6,1298.3 L1150.8,1299.9 L1152.0,1303.0 L1153.2,1300.4 L1154.4,1301.7 L1155.6,1301.7 L1156.8,1298.3 L1158.0,1296.7 L1159.2,1294.2 L1160.4,1295.2 L1161.6,1298.2 L1162.8,1295.6 L1164.0,1298.6 L1165.2,1296.4 L1166.4,1299.6 L1167.6,1298.8 L1168.8,1299.1 L1170.0,1297.7 L1171.2,1297.9 L1172.4,1301.0 L1173.6,1299.5 L1174.8,1300.1 L1176.0,1303.0 L1177.2,1303.7 L1178.4,1301.3 L1179.6,1304.9 L1180.8,1300.9 L1182.0,1297.8 L1183.2,1294.3 L1184.4,1292.9 L1185.6,1292.5 L1186.8,1289.0 L1188.0,1288.4 L1189.2,1288.4 L1190.4,1288.2 L1191.6,1288.9 L1192.8,1290.8 L1194.0,1287.7 L1195.2,1288.0 L1196.4,1290.7 L1197.6,1290.9 L1198.8,1290.8 L1200.0,1288.2 L1201.2,1288.6 L1202.4,1290.7 L1203.6,1289.0 L1204.8,1289.8 L1206.0,1287.9 L1207.2,1286.3 L1208.4,1286.8 L1209.6,1287.7 L1210.8,1287.2 L1212.0,1285.8 L1213.2,1284.8 L1214.4,1284.5 L1215.6,1284.9 L1216.8,1286.4 L1218.0,1288.7 L1219.2,1287.6 L1220.4,1290.2 L1221.6,1292.1 L1222.8,1291.4 L1224.0,1288.7 L1225.2,1291.1 L1226.4,1290.3 L1227.6,1287.5 L1228.8,1287.5 L1230.0,1286.9 L1231.2,1285.9 L1232.4,1288.9 L1233.6,1286.5 L1234.8,1288.3 L1236.0,1286.3 L1237.2,1286.7 L1238.4,1290.5 L1239.6,1290.9 L1240.8,1292.4 L1242.0,1292.0 L1243.2,1291.5 L1244.4,1292.2 L1245.6,1289.7 L1246.8,1291.2 L1248.0,1290.7 L1249.2,1289.5 L1250.4,1291.0 L1251.6,1289.9 L1252.8,1290.4 L1254.0,1289.8 L1255.2,1289.4 L1256.4,1289.5 L1257.6,1290.5 L1258.8,1292.3 L1260.0,1292.5 L1261.2,1292.7 L1262.4,1293.0 L1263.6,1291.5 L1264.8,1294.4 L1266.0,1292.2 L1267.2,1292.1 L1268.4,1293.9 L1269.6,1295.2 L1270.8,1294.2 L1272.0,1295.7 L1273.2,1294.8 L1274.4,1295.7 L1275.6,1292.3 L1276.8,1290.8 L1278.0,1289.4 L1279.2,1289.1 L1280.4,1287.9 L1281.6,1285.1 L1282.8,1284.7 L1284.0,1285.3 L1285.2,1283.3 L1286.4,1284.5 L1287.6,1286.0 L1288.8,1285.7 L1290.0,1283.1 L1291.2,1285.9 L1292.4,1284.2 L1293.6,1286.3 L1294.8,1284.0 L1296.0,1283.4 L1297.2,1284.6 L1298.4,1285.7 L1299.6,1284.1 L1300.8,1285.6 L1302.0,1285.0 L1303.2,1283.9 L1304.4,1283.9 L1305.6,1284.9 L1306.8,1284.7 L1308.0,1284.8 L1309.2,1286.1 L1310.4,1287.1 L1311.6,1286.3 L1312.8,1285.0 L1314.0,1285.5 L1315.2,1286.3 L1316.4,1287.4 L1317.6,1285.9 L1318.8,1285.9 L1320.0,1286.8 L1321.2,1286.7 L1322.4,1285.9 L1323.6,1287.8 L1324.8,1289.2 L1326.0,1287.9 L1327.2,1288.7 L1328.4,1289.1 L1329.6,1289.2 L1330.8,1289.5 L1332.0,1287.8 L1333.2,1288.8 L1334.4,1286.8 L1335.6,1291.5 L1336.8,1292.9 L1338.0,1294.6 L1339.2,1296.1 L1340.4,1293.9 L1341.6,1293.6 L1342.8,1295.9 L1344.0,1295.1 L1345.2,1293.2 L1346.4,1293.0 L1347.6,1294.2 L1348.8,1292.9 L1350.0,1295.9 L1351.2,1293.6 L1352.4,1294.2 L1353.6,1294.9 L1354.8,1295.7 L1356.0,1295.7 L1357.2,1296.7 L1358.4,1297.2 L1359.6,1296.7 L1360.8,1295.7 L1362.0,1298.6 L1363.2,1297.3 L1364.4,1294.8 L1365.6,1295.8 L1366.8,1296.6 L1368.0,1297.2 L1369.2,1293.5 L1370.4,1293.0 L1371.6,1294.4 L1372.8,1293.9 L1374.0,1295.3 L1375.2,1294.8 L1376.4,1292.7 L1377.6,1292.7 L1378.8,1293.0 L1380.0,1293.8 L1381.2,1291.0 L1382.4,1291.4 L1383.6,1290.0 L1384.8,1292.3 L1386.0,1290.4 L1387.2,1294.0 L1388.4,1292.8 L1389.6,1293.3 L1390.8,1291.8 L1392.0,1292.6 L1393.2,1293.8 L1394.4,1293.8 L1395.6,1291.1 L1396.8,1288.6 L1398.0,1289.5 L1399.2,1286.8 L1400.4,1284.8 L1401.6,1282.0 L1402.8,1280.6 L1404.0,1281.0 L1405.2,1276.4 L1406.4,1276.2 L1407.6,1276.2 L1408.8,1274.9 L1410.0,1276.0 L1411.2,1276.2 L1412.4,1275.7 L1413.6,1274.9 L1414.8,1272.6 L1416.0,1271.8 L1417.2,1272.8 L1418.4,1272.0 L1419.6,1271.3 L1420.8,1273.4 L1422.0,1270.9 L1423.2,1273.0 L1424.4,1273.3 L1425.6,1270.2 L1426.8,1273.0 L1428.0,1271.0 L1429.2,1270.2 L1430.4,1270.0 L1431.6,1269.4 L1432.8,1270.9 L1434.0,1270.4 L1435.2,1272.0 L1436.4,1271.8 L1437.6,1268.9 L1438.8,1270.0 L1440.0,1266.8 L1441.2,1262.7 L1442.4,1259.8 L1443.6,1256.5 L1444.8,1258.7 L1446.0,1258.0 L1447.2,1257.8 L1448.4,1258.8 L1449.6,1260.2 L1450.8,1261.2 L1452.0,1260.5 L1453.2,1261.6 L1454.4,1259.4 L1455.6,1260.5 L1456.8,1259.8 L1458.0,1257.7 L1459.2,1259.3 L1460.4,1257.5 L1461.6,1257.6 L1462.8,1258.3 L1464.0,1258.9 L1465.2,1258.8 L1466.4,1257.9 L1467.6,1261.0 L1468.8,1261.8 L1470.0,1261.0 L1471.2,1261.8 L1472.4,1259.3 L1473.6,1260.3 L1474.8,1258.2 L1476.0,1255.2 L1477.2,1256.1 L1478.4,1255.3 L1479.6,1252.2 L1480.8,1256.0 L1482.0,1255.6 L1483.2,1255.9 L1484.4,1259.3 L1485.6,1259.4 L1486.8,1262.2 L1488.0,1263.1 L1489.2,1262.9 L1490.4,1265.8 L1491.6,1268.4 L1492.8,1267.5 L1494.0,1266.9 L1495.2,1267.2 L1496.4,1264.8 L1497.6,1264.1 L1498.8,1263.5 L1500.0,1263.5 L1501.2,1261.0 L1502.4,1260.5 L1503.6,1262.7 L1504.8,1261.7 L1506.0,1257.8 L1507.2,1256.4 L1508.4,1252.8 L1509.6,1249.8 L1510.8,1249.6 L1512.0,1247.2 L1513.2,1245.1 L1514.4,1241.7 L1515.6,1239.7 L1516.8,1242.4 L1518.0,1242.8 L1519.2,1241.6 L1520.4,1242.3 L1521.6,1242.9 L1522.8,1242.0 L1524.0,1240.5 L1525.2,1232.5 L1526.4,1224.2 L1527.6,1218.3 L1528.8,1216.4 L1530.0,1212.0 L1531.2,1209.9 L1532.4,1208.8 L1533.6,1216.6 L1534.8,1212.6 L1536.0,1210.1 L1537.2,1207.4 L1538.4,1202.4 L1539.6,1198.9 L1540.8,1200.4 L1542.0,1203.9 L1543.2,1209.5 L1544.4,1212.8 L1545.6,1217.0 L1546.8,1223.1 L1548.0,1222.5 L1549.2,1219.0 L1550.4,1214.4 L1551.6,1210.7 L1552.8,1206.2 L1554.0,1205.0 L1555.2,1207.3 L1556.4,1211.6 L1557.6,1210.7 L1558.8,1215.8 L1560.0,1216.2 L1561.2,1215.3 L1562.4,1212.4 L1563.6,1212.7 L1564.8,1207.7 L1566.0,1206.8 L1567.2,1204.8 L1568.4,1206.9 L1569.6,1210.2 L1570.8,1216.2 L1572.0,1218.7 L1573.2,1221.8 L1574.4,1225.6 L1575.6,1225.5 L1576.8,1225.2 L1578.0,1223.0 L1579.2,1218.6 L1580.4,1217.0 L1581.6,1219.8 L1582.8,1218.7 L1584.0,1221.4 L1585.2,1220.5 L1586.4,1223.5 L1587.6,1224.7 L1588.8,1231.1 L1590.0,1236.1 L1591.2,1243.5 L1592.4,1248.0 L1593.6,1245.9 L1594.8,1245.4 L1596.0,1243.2 L1597.2,1243.4 L1598.4,1240.2 L1599.6,1241.8 L1600.8,1244.2 L1602.0,1245.8 L1603.2,1246.9 L1604.4,1249.6 L1605.6,1253.6 L1606.8,1252.5 L1608.0,1249.2 L1609.2,1244.1 L1610.4,1246.8 L1611.6,1247.5 L1612.8,1248.1 L1614.0,1247.9 L1615.2,1247.8 L1616.4,1250.7 L1617.6,1252.1 L1618.8,1251.7 L1620.0,1248.1 L1621.2,1246.9 L1622.4,1248.8 L1623.6,1246.9 L1624.8,1246.4 L1626.0,1248.7 L1627.2,1247.9 L1628.4,1250.7 L1629.6,1252.6 L1630.8,1253.7 L1632.0,1253.5 L1633.2,1254.8 L1634.4,1258.0 L1635.6,1260.6 L1636.8,1259.6 L1638.0,1260.8 L1639.2,1262.8 L1640.4,1267.0 L1641.6,1267.2 L1642.8,1268.7 L1644.0,1270.1 L1645.2,1268.1 L1646.4,1266.3 L1647.6,1267.3 L1648.8,1264.2 L1650.0,1266.8 L1651.2,1271.5 L1652.4,1272.8 L1653.6,1275.5 L1654.8,1278.8 L1656.0,1277.2 L1657.2,1278.6 L1658.4,1274.6 L1659.6,1276.2 L1660.8,1273.8 L1662.0,1272.2 L1663.2,1267.4 L1664.4,1264.6 L1665.6,1259.8 L1666.8,1255.9 L1668.0,1253.7 L1669.2,1255.0 L1670.4,1253.3 L1671.6,1252.9 L1672.8,1253.6 L1674.0,1252.4 L1675.2,1255.8 L1676.4,1261.0 L1677.6,1265.2 L1678.8,1269.7 L1680.0,1272.9 L1681.2,1276.3 L1682.4,1280.6 L1683.6,1280.3 L1684.8,1274.3 L1686.0,1270.2 L1687.2,1269.2 L1688.4,1272.1 L1689.6,1272.8 L1690.8,1274.2 L1692.0,1275.6 L1693.2,1275.3 L1694.4,1273.0 L1695.6,1270.7 L1696.8,1267.9 L1698.0,1268.6 L1699.2,1265.7 L1700.4,1262.3 L1701.6,1264.9 L1702.8,1267.8 L1704.0,1272.1 L1705.2,1274.4 L1706.4,1274.6 L1707.6,1279.1 L1708.8,1277.4 L1710.0,1279.4 L1711.2,1283.0 L1712.4,1281.1 L1713.6,1283.8 L1714.8,1284.8 L1716.0,1282.4 L1717.2,1283.3 L1718.4,1279.9 L1719.6,1276.9 L1720.8,1277.0 L1722.0,1273.7 L1723.2,1274.7 L1724.4,1273.1 L1725.6,1271.0 L1726.8,1265.7 L1728.0,1265.8 L1729.2,1263.5 L1730.4,1263.4 L1731.6,1262.0 L1732.8,1261.3 L1734.0,1260.0 L1735.2,1261.0 L1736.4,1258.4 L1737.6,1265.0 L1738.8,1265.5 L1740.0,1272.4 L1741.2,1269.6 L1742.4,1269.2 L1743.6,1271.6 L1744.8,1270.8 L1746.0,1271.7 L1747.2,1270.7 L1748.4,1270.9 L1749.6,1265.3 L1750.8,1263.8 L1752.0,1259.6 L1753.2,1257.6 L1754.4,1254.0 L1755.6,1254.5 L1756.8,1256.9 L1758.0,1258.1 L1759.2,1256.5 L1760.4,1257.8 L1761.6,1257.5 L1762.8,1254.1 L1764.0,1251.4 L1765.2,1248.8 L1766.4,1243.8 L1767.6,1245.7 L1768.8,1249.4 L1770.0,1249.9 L1771.2,1252.9 L1772.4,1254.4 L1773.6,1247.7 L1774.8,1239.9 L1776.0,1231.0 L1777.2,1222.2 L1778.4,1211.0 L1779.6,1208.1 L1780.8,1207.4 L1782.0,1205.2 L1783.2,1204.7 L1784.4,1202.4 L1785.6,1198.3 L1786.8,1192.8 L1788.0,1188.3 L1789.2,1187.3 L1790.4,1189.3 L1791.6,1192.3 L1792.8,1193.1 L1794.0,1196.3 L1795.2,1194.4 L1796.4,1192.8 L1797.6,1192.3 L1798.8,1190.1 L1800.0,1191.5 L1801.2,1190.6 L1802.4,1188.1 L1803.6,1188.4 L1803.6,1275.6 L30.0,1275.6 Z" fill="#d9e1ec" stroke="none"/>
<path d="M30,1275.6 H1806" stroke="#222" stroke-width="1.6"/>
<path d="M30.0,1275.9 L31.2,1276.2 L32.4,1276.3 L33.6,1276.6 L34.8,1276.1 L36.0,1276.5 L37.2,1274.3 L38.4,1275.4 L39.6,1276.5 L40.8,1275.8 L42.0,1276.3 L43.2,1274.4 L44.4,1275.3 L45.6,1274.7 L46.8,1275.4 L48.0,1275.4 L49.2,1274.1 L50.4,1274.5 L51.6,1274.7 L52.8,1276.2 L54.0,1275.8 L55.2,1274.3 L56.4,1275.8 L57.6,1274.2 L58.8,1275.3 L60.0,1274.1 L61.2,1273.8 L62.4,1275.9 L63.6,1274.3 L64.8,1274.3 L66.0,1276.1 L67.2,1275.8 L68.4,1274.4 L69.6,1276.0 L70.8,1274.9 L72.0,1275.3 L73.2,1274.1 L74.4,1275.8 L75.6,1275.2 L76.8,1275.9 L78.0,1275.7 L79.2,1274.2 L80.4,1274.3 L81.6,1273.8 L82.8,1273.8 L84.0,1273.6 L85.2,1274.1 L86.4,1274.8 L87.6,1273.3 L88.8,1274.9 L90.0,1274.1 L91.2,1274.0 L92.4,1275.2 L93.6,1274.4 L94.8,1274.0 L96.0,1274.7 L97.2,1275.5 L98.4,1274.3 L99.6,1276.9 L100.8,1274.9 L102.0,1277.0 L103.2,1277.6 L104.4,1275.9 L105.6,1278.1 L106.8,1277.4 L108.0,1278.3 L109.2,1277.2 L110.4,1277.4 L111.6,1277.6 L112.8,1279.4 L114.0,1277.5 L115.2,1278.8 L116.4,1279.1 L117.6,1279.0 L118.8,1277.5 L120.0,1277.5 L121.2,1277.8 L122.4,1278.3 L123.6,1276.7 L124.8,1278.1 L126.0,1278.2 L127.2,1278.2 L128.4,1276.2 L129.6,1278.3 L130.8,1276.2 L132.0,1276.7 L133.2,1277.3 L134.4,1277.9 L135.6,1276.5 L136.8,1277.8 L138.0,1276.8 L139.2,1276.2 L140.4,1276.1 L141.6,1275.7 L142.8,1275.4 L144.0,1275.5 L145.2,1276.7 L146.4,1277.3 L147.6,1275.3 L148.8,1274.9 L150.0,1277.1 L151.2,1275.9 L152.4,1275.5 L153.6,1275.1 L154.8,1275.8 L156.0,1276.4 L157.2,1275.5 L158.4,1275.4 L159.6,1274.5 L160.8,1276.5 L162.0,1274.4 L163.2,1275.5 L164.4,1276.3 L165.6,1274.6 L166.8,1276.0 L168.0,1276.5 L169.2,1275.7 L170.4,1276.1 L171.6,1274.4 L172.8,1275.2 L174.0,1274.5 L175.2,1276.1 L176.4,1274.8 L177.6,1275.2 L178.8,1276.5 L180.0,1276.1 L181.2,1276.4 L182.4,1275.1 L183.6,1275.2 L184.8,1275.7 L186.0,1275.1 L187.2,1274.6 L188.4,1274.9 L189.6,1274.3 L190.8,1274.8 L192.0,1276.3 L193.2,1276.2 L194.4,1275.4 L195.6,1275.0 L196.8,1274.6 L198.0,1274.0 L199.2,1274.4 L200.4,1275.6 L201.6,1275.8 L202.8,1274.6 L204.0,1275.6 L205.2,1275.6 L206.4,1275.3 L207.6,1275.3 L208.8,1275.5 L210.0,1274.5 L211.2,1275.3 L212.4,1274.3 L213.6,1274.7 L214.8,1275.4 L216.0,1275.2 L217.2,1274.2 L218.4,1275.8 L219.6,1275.1 L220.8,1274.9 L222.0,1273.5 L223.2,1274.8 L224.4,1274.0 L225.6,1275.0 L226.8,1274.5 L228.0,1275.3 L229.2,1274.9 L230.4,1275.3 L231.6,1274.2 L232.8,1274.9 L234.0,1275.1 L235.2,1275.3 L236.4,1274.1 L237.6,1275.3 L238.8,1275.3 L240.0,1274.9 L241.2,1275.4 L242.4,1274.5 L243.6,1272.6 L244.8,1272.1 L246.0,1271.1 L247.2,1272.7 L248.4,1272.9 L249.6,1271.8 L250.8,1272.2 L252.0,1272.2 L253.2,1272.2 L254.4,1270.8 L255.6,1272.3 L256.8,1271.7 L258.0,1271.9 L259.2,1271.3 L260.4,1271.7 L261.6,1272.0 L262.8,1271.7 L264.0,1271.8 L265.2,1270.1 L266.4,1270.4 L267.6,1271.0 L268.8,1271.5 L270.0,1270.4 L271.2,1271.5 L272.4,1271.3 L273.6,1269.8 L274.8,1270.8 L276.0,1270.2 L277.2,1269.7 L278.4,1269.9 L279.6,1270.3 L280.8,1270.3 L282.0,1271.0 L283.2,1271.2 L284.4,1272.2 L285.6,1271.9 L286.8,1272.4 L288.0,1272.3 L289.2,1271.4 L290.4,1273.0 L291.6,1270.8 L292.8,1271.7 L294.0,1271.3 L295.2,1271.6 L296.4,1270.8 L297.6,1272.5 L298.8,1271.4 L300.0,1270.5 L301.2,1271.8 L302.4,1270.5 L303.6,1271.6 L304.8,1271.0 L306.0,1271.6 L307.2,1272.4 L308.4,1272.0 L309.6,1271.0 L310.8,1271.9 L312.0,1271.5 L313.2,1270.8 L314.4,1270.2 L315.6,1271.2 L316.8,1271.1 L318.0,1272.0 L319.2,1272.0 L320.4,1271.1 L321.6,1270.4 L322.8,1271.6 L324.0,1269.4 L325.2,1269.7 L326.4,1270.7 L327.6,1270.8 L328.8,1269.6 L330.0,1270.7 L331.2,1271.2 L332.4,1269.8 L333.6,1269.7 L334.8,1269.0 L336.0,1269.0 L337.2,1270.5 L338.4,1268.9 L339.6,1270.1 L340.8,1269.8 L342.0,1268.9 L343.2,1267.9 L344.4,1269.4 L345.6,1268.1 L346.8,1267.7 L348.0,1267.3 L349.2,1268.7 L350.4,1267.4 L351.6,1266.7 L352.8,1267.0 L354.0,1266.0 L355.2,1267.0 L356.4,1266.5 L357.6,1265.9 L358.8,1266.9 L360.0,1266.9 L361.2,1264.8 L362.4,1265.9 L363.6,1265.1 L364.8,1266.5 L366.0,1266.0 L367.2,1264.6 L368.4,1264.4 L369.6,1264.0 L370.8,1265.9 L372.0,1264.0 L373.2,1264.6 L374.4,1264.2 L375.6,1264.4 L376.8,1264.1 L378.0,1263.8 L379.2,1261.6 L380.4,1262.5 L381.6,1260.7 L382.8,1260.6 L384.0,1259.4 L385.2,1258.6 L386.4,1258.5 L387.6,1257.7 L388.8,1256.4 L390.0,1256.0 L391.2,1254.3 L392.4,1251.6 L393.6,1250.8 L394.8,1250.0 L396.0,1249.8 L397.2,1248.4 L398.4,1246.2 L399.6,1243.6 L400.8,1244.1 L402.0,1242.0 L403.2,1241.0 L404.4,1240.0 L405.6,1240.7 L406.8,1241.3 L408.0,1243.2 L409.2,1242.8 L410.4,1243.8 L411.6,1245.8 L412.8,1245.1 L414.0,1246.2 L415.2,1248.4 L416.4,1247.5 L417.6,1250.1 L418.8,1249.9 L420.0,1249.5 L421.2,1249.3 L422.4,1250.6 L423.6,1251.0 L424.8,1248.0 L426.0,1247.1 L427.2,1245.5 L428.4,1243.7 L429.6,1241.6 L430.8,1239.5 L432.0,1238.8 L433.2,1237.6 L434.4,1234.1 L435.6,1233.0 L436.8,1233.2 L438.0,1232.0 L439.2,1230.6 L440.4,1227.9 L441.6,1228.5 L442.8,1228.0 L444.0,1226.9 L445.2,1225.0 L446.4,1222.3 L447.6,1223.1 L448.8,1222.2 L450.0,1225.4 L451.2,1228.4 L452.4,1230.1 L453.6,1231.0 L454.8,1233.3 L456.0,1233.3 L457.2,1229.9 L458.4,1229.5 L459.6,1227.5 L460.8,1225.4 L462.0,1225.0 L463.2,1222.1 L464.4,1220.8 L465.6,1219.9 L466.8,1217.7 L468.0,1216.8 L469.2,1219.0 L470.4,1220.4 L471.6,1221.6 L472.8,1220.8 L474.0,1222.5 L475.2,1223.2 L476.4,1224.8 L477.6,1225.5 L478.8,1227.6 L480.0,1227.0 L481.2,1225.0 L482.4,1225.4 L483.6,1222.9 L484.8,1222.8 L486.0,1221.3 L487.2,1221.1 L488.4,1219.7 L489.6,1219.4 L490.8,1218.0 L492.0,1218.2 L493.2,1216.9 L494.4,1217.6 L495.6,1216.5 L496.8,1215.1 L498.0,1214.8 L499.2,1215.7 L500.4,1218.1 L501.6,1218.3 L502.8,1221.1 L504.0,1222.5 L505.2,1222.7 L506.4,1225.7 L507.6,1225.8 L508.8,1227.5 L510.0,1230.0 L511.2,1228.3 L512.4,1229.0 L513.6,1227.2 L514.8,1226.0 L516.0,1226.3 L517.2,1223.7 L518.4,1224.5 L519.6,1222.1 L520.8,1221.5 L522.0,1222.6 L523.2,1221.9 L524.4,1222.9 L525.6,1224.8 L526.8,1229.0 L528.0,1230.4 L529.2,1232.9 L530.4,1233.4 L531.6,1236.7 L532.8,1238.2 L534.0,1240.0 L535.2,1240.9 L536.4,1241.8 L537.6,1241.3 L538.8,1241.6 L540.0,1241.2 L541.2,1243.0 L542.4,1242.8 L543.6,1243.3 L544.8,1242.6 L546.0,1243.8 L547.2,1243.2 L548.4,1243.6 L549.6,1243.7 L550.8,1244.3 L552.0,1243.6 L553.2,1243.1 L554.4,1243.1 L555.6,1243.7 L556.8,1243.7 L558.0,1246.1 L559.2,1245.5 L560.4,1246.5 L561.6,1245.0 L562.8,1246.5 L564.0,1247.8 L565.2,1247.5 L566.4,1247.4 L567.6,1247.7 L568.8,1247.0 L570.0,1247.2 L571.2,1247.4 L572.4,1248.1 L573.6,1248.2 L574.8,1249.5 L576.0,1247.9 L577.2,1248.3 L578.4,1248.5 L579.6,1248.4 L580.8,1248.8 L582.0,1248.8 L583.2,1249.6 L584.4,1248.6 L585.6,1250.9 L586.8,1249.7 L588.0,1251.2 L589.2,1250.8 L590.4,1250.9 L591.6,1250.5 L592.8,1251.8 L594.0,1249.9 L595.2,1250.5 L596.4,1248.6 L597.6,1248.4 L598.8,1247.5 L600.0,1245.1 L601.2,1244.1 L602.4,1242.7 L603.6,1242.1 L604.8,1240.7 L606.0,1240.4 L607.2,1240.7 L608.4,1238.5 L609.6,1237.7 L610.8,1237.4 L612.0,1236.3 L613.2,1236.7 L614.4,1235.9 L615.6,1233.9 L616.8,1233.4 L618.0,1233.8 L619.2,1233.7 L620.4,1232.4 L621.6,1231.5 L622.8,1232.4 L624.0,1229.7 L625.2,1229.4 L626.4,1230.9 L627.6,1229.8 L628.8,1228.7 L630.0,1229.7 L631.2,1230.5 L632.4,1229.1 L633.6,1228.5 L634.8,1227.6 L636.0,1227.4 L637.2,1229.1 L638.4,1227.9 L639.6,1228.7 L640.8,1226.4 L642.0,1227.5 L643.2,1227.9 L644.4,1229.6 L645.6,1229.7 L646.8,1231.0 L648.0,1232.2 L649.2,1232.8 L650.4,1233.1 L651.6,1233.9 L652.8,1237.0 L654.0,1236.0 L655.2,1237.6 L656.4,1237.8 L657.6,1238.4 L658.8,1237.5 L660.0,1238.3 L661.2,1238.1 L662.4,1239.3 L663.6,1240.5 L664.8,1237.3 L666.0,1235.2 L667.2,1231.0 L668.4,1227.8 L669.6,1226.3 L670.8,1224.3 L672.0,1223.5 L673.2,1222.0 L674.4,1221.5 L675.6,1220.7 L676.8,1220.1 L678.0,1217.6 L679.2,1216.9 L680.4,1216.7 L681.6,1214.2 L682.8,1212.9 L684.0,1212.3 L685.2,1212.9 L686.4,1215.6 L687.6,1216.8 L688.8,1216.6 L690.0,1217.3 L691.2,1218.2 L692.4,1217.9 L693.6,1216.6 L694.8,1216.5 L696.0,1216.0 L697.2,1214.3 L698.4,1213.0 L699.6,1213.7 L700.8,1211.2 L702.0,1210.7 L703.2,1210.0 L704.4,1211.0 L705.6,1211.6 L706.8,1213.7 L708.0,1214.8 L709.2,1217.2 L710.4,1218.0 L711.6,1220.2 L712.8,1220.7 L714.0,1221.8 L715.2,1222.1 L716.4,1222.6 L717.6,1224.3 L718.8,1224.7 L720.0,1226.2 L721.2,1226.5 L722.4,1227.2 L723.6,1227.0 L724.8,1229.1 L726.0,1228.9 L727.2,1229.0 L728.4,1229.1 L729.6,1229.6 L730.8,1230.1 L732.0,1231.3 L733.2,1230.6 L734.4,1230.4 L735.6,1232.3 L736.8,1232.1 L738.0,1231.1 L739.2,1231.4 L740.4,1231.8 L741.6,1232.7 L742.8,1233.3 L744.0,1232.9 L745.2,1231.5 L746.4,1230.0 L747.6,1229.9 L748.8,1229.1 L750.0,1228.8 L751.2,1229.0 L752.4,1231.3 L753.6,1232.8 L754.8,1233.5 L756.0,1232.9 L757.2,1234.9 L758.4,1235.0 L759.6,1237.2 L760.8,1237.5 L762.0,1239.4 L763.2,1239.5 L764.4,1238.5 L765.6,1239.5 L766.8,1241.4 L768.0,1240.9 L769.2,1241.3 L770.4,1241.9 L771.6,1243.2 L772.8,1244.2 L774.0,1243.7 L775.2,1245.3 L776.4,1244.3 L777.6,1242.6 L778.8,1243.8 L780.0,1242.3 L781.2,1240.9 L782.4,1242.6 L783.6,1239.8 L784.8,1240.5 L786.0,1239.8 L787.2,1240.2 L788.4,1238.5 L789.6,1237.5 L790.8,1237.5 L792.0,1237.7 L793.2,1239.0 L794.4,1238.9 L795.6,1240.3 L796.8,1239.4 L798.0,1240.1 L799.2,1240.3 L800.4,1242.4 L801.6,1242.5 L802.8,1242.9 L804.0,1242.8 L805.2,1242.5 L806.4,1241.8 L807.6,1243.3 L808.8,1242.4 L810.0,1241.1 L811.2,1241.3 L812.4,1241.0 L813.6,1242.4 L814.8,1242.7 L816.0,1240.9 L817.2,1242.2 L818.4,1240.9 L819.6,1241.6 L820.8,1241.6 L822.0,1240.6 L823.2,1240.6 L824.4,1239.1 L825.6,1237.8 L826.8,1238.6 L828.0,1238.4 L829.2,1237.0 L830.4,1237.0 L831.6,1236.4 L832.8,1235.3 L834.0,1235.5 L835.2,1235.3 L836.4,1235.1 L837.6,1235.2 L838.8,1234.0 L840.0,1235.0 L841.2,1234.2 L842.4,1234.1 L843.6,1234.2 L844.8,1234.8 L846.0,1235.2 L847.2,1236.5 L848.4,1236.2 L849.6,1237.4 L850.8,1238.3 L852.0,1238.6 L853.2,1238.8 L854.4,1238.6 L855.6,1238.7 L856.8,1239.4 L858.0,1240.0 L859.2,1240.6 L860.4,1240.6 L861.6,1239.7 L862.8,1241.3 L864.0,1239.8 L865.2,1241.0 L866.4,1239.5 L867.6,1241.2 L868.8,1241.1 L870.0,1241.9 L871.2,1241.9 L872.4,1241.5 L873.6,1241.9 L874.8,1241.9 L876.0,1243.1 L877.2,1243.7 L878.4,1246.0 L879.6,1248.4 L880.8,1248.4 L882.0,1251.7 L883.2,1251.8 L884.4,1251.4 L885.6,1250.4 L886.8,1251.3 L888.0,1250.7 L889.2,1251.8 L890.4,1252.3 L891.6,1252.3 L892.8,1251.5 L894.0,1250.9 L895.2,1250.2 L896.4,1251.5 L897.6,1251.2 L898.8,1251.5 L900.0,1250.6 L901.2,1252.1 L902.4,1251.0 L903.6,1251.8 L904.8,1252.2 L906.0,1253.6 L907.2,1254.8 L908.4,1253.6 L909.6,1255.3 L910.8,1256.1 L912.0,1255.4 L913.2,1255.5 L914.4,1257.3 L915.6,1258.8 L916.8,1260.2 L918.0,1261.1 L919.2,1261.6 L920.4,1262.1 L921.6,1262.4 L922.8,1263.3 L924.0,1261.8 L925.2,1261.8 L926.4,1262.6 L927.6,1263.4 L928.8,1261.5 L930.0,1261.2 L931.2,1261.4 L932.4,1262.5 L933.6,1262.5 L934.8,1261.4 L936.0,1261.2 L937.2,1261.8 L938.4,1261.6 L939.6,1261.4 L940.8,1261.2 L942.0,1259.3 L943.2,1260.0 L944.4,1260.6 L945.6,1260.6 L946.8,1258.7 L948.0,1259.7 L949.2,1258.9 L950.4,1259.3 L951.6,1257.5 L952.8,1258.6 L954.0,1258.9 L955.2,1258.0 L956.4,1257.1 L957.6,1257.2 L958.8,1257.1 L960.0,1256.9 L961.2,1257.0 L962.4,1258.1 L963.6,1256.8 L964.8,1258.4 L966.0,1258.3 L967.2,1258.4 L968.4,1258.3 L969.6,1258.1 L970.8,1258.6 L972.0,1258.6 L973.2,1257.8 L974.4,1258.5 L975.6,1256.8 L976.8,1257.4 L978.0,1257.9 L979.2,1258.8 L980.4,1259.8 L981.6,1260.5 L982.8,1261.2 L984.0,1261.4 L985.2,1260.0 L986.4,1260.8 L987.6,1261.3 L988.8,1261.0 L990.0,1260.5 L991.2,1261.8 L992.4,1261.3 L993.6,1262.2 L994.8,1261.9 L996.0,1263.1 L997.2,1263.2 L998.4,1261.2 L999.6,1262.8 L1000.8,1262.1 L1002.0,1260.4 L1003.2,1259.4 L1004.4,1259.8 L1005.6,1259.9 L1006.8,1261.3 L1008.0,1262.1 L1009.2,1261.2 L1010.4,1261.4 L1011.6,1262.3 L1012.8,1263.2 L1014.0,1263.8 L1015.2,1263.2 L1016.4,1262.5 L1017.6,1262.6 L1018.8,1263.7 L1020.0,1262.9 L1021.2,1261.7 L1022.4,1262.6 L1023.6,1262.1 L1024.8,1263.1 L1026.0,1261.6 L1027.2,1262.0 L1028.4,1261.6 L1029.6,1262.5 L1030.8,1263.6 L1032.0,1262.5 L1033.2,1262.1 L1034.4,1263.4 L1035.6,1261.3 L1036.8,1261.9 L1038.0,1262.9 L1039.2,1261.0 L1040.4,1262.7 L1041.6,1261.7 L1042.8,1260.8 L1044.0,1261.4 L1045.2,1261.8 L1046.4,1261.6 L1047.6,1261.9 L1048.8,1260.7 L1050.0,1261.1 L1051.2,1262.8 L1052.4,1261.5 L1053.6,1261.5 L1054.8,1260.6 L1056.0,1261.0 L1057.2,1263.7 L1058.4,1264.2 L1059.6,1264.9 L1060.8,1265.0 L1062.0,1266.0 L1063.2,1266.9 L1064.4,1266.0 L1065.6,1266.4 L1066.8,1267.1 L1068.0,1266.4 L1069.2,1266.4 L1070.4,1264.9 L1071.6,1264.8 L1072.8,1266.6 L1074.0,1265.7 L1075.2,1266.8 L1076.4,1266.6 L1077.6,1266.8 L1078.8,1265.5 L1080.0,1266.9 L1081.2,1266.3 L1082.4,1266.6 L1083.6,1264.8 L1084.8,1266.3 L1086.0,1265.4 L1087.2,1266.7 L1088.4,1266.7 L1089.6,1264.8 L1090.8,1265.3 L1092.0,1265.0 L1093.2,1265.4 L1094.4,1265.0 L1095.6,1265.9 L1096.8,1264.6 L1098.0,1264.7 L1099.2,1265.4 L1100.4,1264.5 L1101.6,1265.2 L1102.8,1266.5 L1104.0,1266.4 L1105.2,1264.8 L1106.4,1264.3 L1107.6,1266.3 L1108.8,1266.6 L1110.0,1265.7 L1111.2,1264.6 L1112.4,1264.9 L1113.6,1266.5 L1114.8,1266.6 L1116.0,1264.4 L1117.2,1264.7 L1118.4,1265.3 L1119.6,1264.9 L1120.8,1266.1 L1122.0,1264.4 L1123.2,1264.5 L1124.4,1262.1 L1125.6,1262.1 L1126.8,1262.3 L1128.0,1261.0 L1129.2,1259.2 L1130.4,1259.0 L1131.6,1259.9 L1132.8,1259.0 L1134.0,1258.7 L1135.2,1258.7 L1136.4,1258.6 L1137.6,1259.3 L1138.8,1257.7 L1140.0,1258.6 L1141.2,1258.0 L1142.4,1258.8 L1143.6,1259.4 L1144.8,1258.1 L1146.0,1259.0 L1147.2,1259.7 L1148.4,1258.1 L1149.6,1260.1 L1150.8,1259.3 L1152.0,1259.7 L1153.2,1260.0 L1154.4,1260.2 L1155.6,1258.0 L1156.8,1258.6 L1158.0,1257.0 L1159.2,1257.4 L1160.4,1257.1 L1161.6,1256.7 L1162.8,1257.6 L1164.0,1258.3 L1165.2,1259.1 L1166.4,1260.0 L1167.6,1259.0 L1168.8,1259.7 L1170.0,1260.4 L1171.2,1261.3 L1172.4,1261.6 L1173.6,1262.0 L1174.8,1260.6 L1176.0,1260.6 L1177.2,1262.8 L1178.4,1261.0 L1179.6,1262.1 L1180.8,1261.6 L1182.0,1259.9 L1183.2,1258.3 L1184.4,1258.4 L1185.6,1255.7 L1186.8,1255.1 L1188.0,1255.0 L1189.2,1253.2 L1190.4,1253.6 L1191.6,1253.8 L1192.8,1253.9 L1194.0,1252.9 L1195.2,1253.4 L1196.4,1252.3 L1197.6,1252.3 L1198.8,1252.8 L1200.0,1252.2 L1201.2,1254.1 L1202.4,1252.3 L1203.6,1252.2 L1204.8,1253.3 L1206.0,1253.1 L1207.2,1251.8 L1208.4,1253.1 L1209.6,1252.5 L1210.8,1251.8 L1212.0,1252.3 L1213.2,1251.2 L1214.4,1251.2 L1215.6,1252.9 L1216.8,1252.4 L1218.0,1253.9 L1219.2,1252.7 L1220.4,1253.0 L1221.6,1253.1 L1222.8,1254.8 L1224.0,1254.5 L1225.2,1253.2 L1226.4,1253.3 L1227.6,1255.2 L1228.8,1254.5 L1230.0,1255.4 L1231.2,1253.5 L1232.4,1254.8 L1233.6,1253.8 L1234.8,1255.2 L1236.0,1255.0 L1237.2,1255.1 L1238.4,1254.2 L1239.6,1256.0 L1240.8,1254.0 L1242.0,1253.9 L1243.2,1255.5 L1244.4,1254.1 L1245.6,1254.0 L1246.8,1255.0 L1248.0,1255.5 L1249.2,1256.1 L1250.4,1255.7 L1251.6,1254.2 L1252.8,1255.6 L1254.0,1256.1 L1255.2,1254.4 L1256.4,1256.0 L1257.6,1254.8 L1258.8,1254.9 L1260.0,1254.3 L1261.2,1256.1 L1262.4,1255.6 L1263.6,1256.5 L1264.8,1255.5 L1266.0,1254.8 L1267.2,1255.0 L1268.4,1255.1 L1269.6,1256.8 L1270.8,1255.0 L1272.0,1254.8 L1273.2,1255.4 L1274.4,1254.1 L1275.6,1254.2 L1276.8,1253.9 L1278.0,1253.3 L1279.2,1251.4 L1280.4,1250.6 L1281.6,1250.9 L1282.8,1251.4 L1284.0,1250.9 L1285.2,1251.2 L1286.4,1252.0 L1287.6,1250.2 L1288.8,1250.6 L1290.0,1251.1 L1291.2,1251.3 L1292.4,1252.2 L1293.6,1251.4 L1294.8,1251.7 L1296.0,1251.1 L1297.2,1252.1 L1298.4,1252.2 L1299.6,1251.0 L1300.8,1250.5 L1302.0,1250.9 L1303.2,1251.2 L1304.4,1252.5 L1305.6,1251.1 L1306.8,1252.0 L1308.0,1252.0 L1309.2,1252.8 L1310.4,1250.8 L1311.6,1252.5 L1312.8,1251.4 L1314.0,1250.9 L1315.2,1252.2 L1316.4,1252.8 L1317.6,1252.2 L1318.8,1250.9 L1320.0,1253.2 L1321.2,1251.8 L1322.4,1252.5 L1323.6,1252.7 L1324.8,1251.6 L1326.0,1252.0 L1327.2,1251.9 L1328.4,1251.3 L1329.6,1251.3 L1330.8,1252.9 L1332.0,1252.2 L1333.2,1253.3 L1334.4,1251.4 L1335.6,1253.0 L1336.8,1254.3 L1338.0,1256.9 L1339.2,1256.5 L1340.4,1256.8 L1341.6,1255.8 L1342.8,1254.9 L1344.0,1255.6 L1345.2,1255.1 L1346.4,1254.7 L1347.6,1256.0 L1348.8,1255.3 L1350.0,1254.9 L1351.2,1255.8 L1352.4,1256.8 L1353.6,1256.9 L1354.8,1255.7 L1356.0,1254.8 L1357.2,1256.4 L1358.4,1254.9 L1359.6,1255.9 L1360.8,1254.8 L1362.0,1256.9 L1363.2,1255.7 L1364.4,1255.4 L1365.6,1254.9 L1366.8,1255.5 L1368.0,1256.4 L1369.2,1255.0 L1370.4,1254.4 L1371.6,1255.0 L1372.8,1255.9 L1374.0,1254.5 L1375.2,1255.0 L1376.4,1255.6 L1377.6,1254.1 L1378.8,1255.2 L1380.0,1254.4 L1381.2,1253.4 L1382.4,1253.1 L1383.6,1255.1 L1384.8,1253.9 L1386.0,1253.7 L1387.2,1254.8 L1388.4,1253.9 L1389.6,1253.6 L1390.8,1253.0 L1392.0,1254.0 L1393.2,1252.7 L1394.4,1252.4 L1395.6,1252.2 L1396.8,1250.9 L1398.0,1248.9 L1399.2,1248.1 L1400.4,1248.4 L1401.6,1247.6 L1402.8,1245.2 L1404.0,1247.1 L1405.2,1244.9 L1406.4,1244.9 L1407.6,1244.6 L1408.8,1245.4 L1410.0,1245.7 L1411.2,1246.1 L1412.4,1244.4 L1413.6,1245.5 L1414.8,1244.0 L1416.0,1245.0 L1417.2,1244.1 L1418.4,1244.3 L1419.6,1243.4 L1420.8,1244.9 L1422.0,1243.4 L1423.2,1244.8 L1424.4,1243.7 L1425.6,1244.2 L1426.8,1244.2 L1428.0,1243.7 L1429.2,1244.6 L1430.4,1244.6 L1431.6,1242.9 L1432.8,1242.9 L1434.0,1244.1 L1435.2,1242.2 L1436.4,1242.8 L1437.6,1242.7 L1438.8,1243.9 L1440.0,1240.3 L1441.2,1239.9 L1442.4,1238.5 L1443.6,1236.8 L1444.8,1235.0 L1446.0,1237.2 L1447.2,1235.6 L1448.4,1236.8 L1449.6,1236.3 L1450.8,1235.6 L1452.0,1236.5 L1453.2,1236.1 L1454.4,1235.2 L1455.6,1236.1 L1456.8,1235.4 L1458.0,1235.8 L1459.2,1235.5 L1460.4,1235.9 L1461.6,1234.3 L1462.8,1235.0 L1464.0,1233.7 L1465.2,1235.5 L1466.4,1235.4 L1467.6,1235.5 L1468.8,1233.5 L1470.0,1234.6 L1471.2,1234.4 L1472.4,1233.5 L1473.6,1233.6 L1474.8,1235.3 L1476.0,1235.0 L1477.2,1233.4 L1478.4,1234.8 L1479.6,1234.4 L1480.8,1234.4 L1482.0,1235.7 L1483.2,1235.4 L1484.4,1236.2 L1485.6,1236.3 L1486.8,1238.5 L1488.0,1239.0 L1489.2,1240.1 L1490.4,1240.2 L1491.6,1239.9 L1492.8,1239.2 L1494.0,1239.8 L1495.2,1238.5 L1496.4,1238.7 L1497.6,1238.6 L1498.8,1237.5 L1500.0,1237.6 L1501.2,1236.3 L1502.4,1237.0 L1503.6,1238.6 L1504.8,1237.1 L1506.0,1235.9 L1507.2,1234.5 L1508.4,1235.0 L1509.6,1232.1 L1510.8,1231.6 L1512.0,1230.3 L1513.2,1229.9 L1514.4,1227.8 L1515.6,1227.2 L1516.8,1226.1 L1518.0,1228.1 L1519.2,1228.1 L1520.4,1227.9 L1521.6,1228.5 L1522.8,1228.1 L1524.0,1227.2 L1525.2,1224.8 L1526.4,1221.4 L1527.6,1217.2 L1528.8,1216.8 L1530.0,1216.0 L1531.2,1213.0 L1532.4,1211.6 L1533.6,1211.1 L1534.8,1209.4 L1536.0,1209.0 L1537.2,1207.2 L1538.4,1206.4 L1539.6,1204.8 L1540.8,1205.6 L1542.0,1206.5 L1543.2,1208.8 L1544.4,1209.2 L1545.6,1209.9 L1546.8,1213.0 L1548.0,1214.0 L1549.2,1213.6 L1550.4,1211.5 L1551.6,1210.9 L1552.8,1209.9 L1554.0,1208.8 L1555.2,1206.8 L1556.4,1207.8 L1557.6,1208.6 L1558.8,1208.5 L1560.0,1209.0 L1561.2,1208.6 L1562.4,1208.9 L1563.6,1209.3 L1564.8,1209.4 L1566.0,1209.2 L1567.2,1208.5 L1568.4,1210.3 L1569.6,1211.5 L1570.8,1213.3 L1572.0,1214.1 L1573.2,1214.7 L1574.4,1214.4 L1575.6,1214.1 L1576.8,1213.3 L1578.0,1213.7 L1579.2,1213.3 L1580.4,1211.3 L1581.6,1213.1 L1582.8,1214.9 L1584.0,1214.8 L1585.2,1215.3 L1586.4,1217.6 L1587.6,1218.1 L1588.8,1218.7 L1590.0,1218.3 L1591.2,1216.9 L1592.4,1216.4 L1593.6,1216.2 L1594.8,1214.6 L1596.0,1213.6 L1597.2,1214.1 L1598.4,1214.2 L1599.6,1213.1 L1600.8,1211.1 L1602.0,1211.7 L1603.2,1208.9 L1604.4,1208.2 L1605.6,1207.0 L1606.8,1206.3 L1608.0,1207.2 L1609.2,1207.6 L1610.4,1206.9 L1611.6,1207.7 L1612.8,1206.9 L1614.0,1208.0 L1615.2,1207.3 L1616.4,1207.1 L1617.6,1206.2 L1618.8,1206.8 L1620.0,1206.9 L1621.2,1207.8 L1622.4,1206.4 L1623.6,1207.1 L1624.8,1209.0 L1626.0,1207.9 L1627.2,1209.6 L1628.4,1209.5 L1629.6,1211.2 L1630.8,1211.7 L1632.0,1211.2 L1633.2,1213.4 L1634.4,1213.2 L1635.6,1213.7 L1636.8,1215.6 L1638.0,1216.1 L1639.2,1215.6 L1640.4,1217.1 L1641.6,1216.5 L1642.8,1218.0 L1644.0,1217.6 L1645.2,1219.5 L1646.4,1220.8 L1647.6,1220.7 L1648.8,1219.9 L1650.0,1221.6 L1651.2,1222.1 L1652.4,1222.6 L1653.6,1221.3 L1654.8,1220.6 L1656.0,1220.0 L1657.2,1218.1 L1658.4,1218.6 L1659.6,1216.5 L1660.8,1215.6 L1662.0,1214.2 L1663.2,1213.7 L1664.4,1214.2 L1665.6,1211.6 L1666.8,1210.2 L1668.0,1209.9 L1669.2,1211.4 L1670.4,1209.3 L1671.6,1209.9 L1672.8,1209.6 L1674.0,1210.7 L1675.2,1211.4 L1676.4,1212.6 L1677.6,1216.4 L1678.8,1217.2 L1680.0,1220.1 L1681.2,1221.6 L1682.4,1224.6 L1683.6,1223.2 L1684.8,1223.1 L1686.0,1222.8 L1687.2,1222.2 L1688.4,1223.1 L1689.6,1221.8 L1690.8,1220.9 L1692.0,1220.8 L1693.2,1221.0 L1694.4,1219.5 L1695.6,1218.4 L1696.8,1218.0 L1698.0,1217.1 L1699.2,1215.7 L1700.4,1215.0 L1701.6,1213.9 L1702.8,1215.6 L1704.0,1217.6 L1705.2,1217.2 L1706.4,1218.3 L1707.6,1219.9 L1708.8,1220.8 L1710.0,1220.8 L1711.2,1222.4 L1712.4,1224.1 L1713.6,1223.4 L1714.8,1224.4 L1716.0,1224.9 L1717.2,1224.3 L1718.4,1221.2 L1719.6,1220.2 L1720.8,1220.5 L1722.0,1218.7 L1723.2,1218.6 L1724.4,1216.1 L1725.6,1216.1 L1726.8,1214.5 L1728.0,1214.7 L1729.2,1215.3 L1730.4,1214.6 L1731.6,1215.2 L1732.8,1214.9 L1734.0,1214.2 L1735.2,1214.6 L1736.4,1213.5 L1737.6,1214.6 L1738.8,1214.7 L1740.0,1215.8 L1741.2,1215.0 L1742.4,1217.3 L1743.6,1216.5 L1744.8,1217.9 L1746.0,1218.7 L1747.2,1218.3 L1748.4,1215.6 L1749.6,1215.4 L1750.8,1214.3 L1752.0,1210.9 L1753.2,1211.0 L1754.4,1210.4 L1755.6,1209.2 L1756.8,1208.3 L1758.0,1207.5 L1759.2,1207.6 L1760.4,1208.3 L1761.6,1206.5 L1762.8,1205.7 L1764.0,1206.1 L1765.2,1205.2 L1766.4,1206.2 L1767.6,1206.4 L1768.8,1206.6 L1770.0,1206.6 L1771.2,1209.1 L1772.4,1207.5 L1773.6,1203.5 L1774.8,1201.1 L1776.0,1198.3 L1777.2,1195.0 L1778.4,1192.6 L1779.6,1188.9 L1780.8,1185.8 L1782.0,1184.9 L1783.2,1184.6 L1784.4,1182.6 L1785.6,1183.5 L1786.8,1180.4 L1788.0,1180.5 L1789.2,1179.3 L1790.4,1179.5 L1791.6,1177.9 L1792.8,1177.8 L1794.0,1179.2 L1795.2,1178.3 L1796.4,1176.5 L1797.6,1176.6 L1798.8,1175.2 L1800.0,1174.9 L1801.2,1174.7 L1802.4,1176.1 L1803.6,1173.9 L1804.8,1173.2" stroke="#b9534f" stroke-width="1.1" fill="none"/>
<path d="M30.0,1274.7 L31.2,1275.8 L32.4,1275.1 L33.6,1276.0 L34.8,1276.1 L36.0,1274.0 L37.2,1273.8 L38.4,1276.8 L39.6,1274.7 L40.8,1274.6 L42.0,1277.4 L43.2,1275.5 L44.4,1276.8 L45.6,1275.5 L46.8,1276.1 L48.0,1274.3 L49.2,1276.1 L50.4,1276.9 L51.6,1275.7 L52.8,1276.5 L54.0,1276.0 L55.2,1273.6 L56.4,1276.0 L57.6,1275.2 L58.8,1273.9 L60.0,1272.8 L61.2,1275.6 L62.4,1274.0 L63.6,1274.7 L64.8,1275.1 L66.0,1274.3 L67.2,1275.0 L68.4,1273.0 L69.6,1274.3 L70.8,1272.9 L72.0,1274.5 L73.2,1274.2 L74.4,1271.3 L75.6,1271.3 L76.8,1271.5 L78.0,1274.1 L79.2,1272.0 L80.4,1272.6 L81.6,1271.3 L82.8,1272.2 L84.0,1272.0 L85.2,1272.1 L86.4,1273.1 L87.6,1273.4 L88.8,1274.7 L90.0,1274.2 L91.2,1275.3 L92.4,1275.2 L93.6,1275.9 L94.8,1275.0 L96.0,1273.5 L97.2,1276.4 L98.4,1277.1 L99.6,1277.2 L100.8,1276.4 L102.0,1277.2 L103.2,1275.8 L104.4,1278.3 L105.6,1277.8 L106.8,1275.5 L108.0,1271.4 L109.2,1270.9 L110.4,1270.9 L111.6,1268.1 L112.8,1271.0 L114.0,1270.1 L115.2,1269.5 L116.4,1270.5 L117.6,1272.6 L118.8,1273.4 L120.0,1270.8 L121.2,1273.2 L122.4,1271.3 L123.6,1273.9 L124.8,1272.7 L126.0,1274.8 L127.2,1275.3 L128.4,1273.8 L129.6,1275.7 L130.8,1273.4 L132.0,1272.7 L133.2,1274.8 L134.4,1272.9 L135.6,1273.6 L136.8,1274.6 L138.0,1275.5 L139.2,1274.0 L140.4,1273.8 L141.6,1276.9 L142.8,1275.1 L144.0,1277.5 L145.2,1277.5 L146.4,1275.8 L147.6,1276.3 L148.8,1276.6 L150.0,1277.2 L151.2,1277.2 L152.4,1277.3 L153.6,1277.5 L154.8,1278.1 L156.0,1276.0 L157.2,1275.2 L158.4,1275.7 L159.6,1273.4 L160.8,1273.1 L162.0,1275.0 L163.2,1272.8 L164.4,1272.3 L165.6,1270.4 L166.8,1272.0 L168.0,1272.8 L169.2,1270.9 L170.4,1273.2 L171.6,1273.4 L172.8,1271.6 L174.0,1273.8 L175.2,1273.4 L176.4,1274.2 L177.6,1272.9 L178.8,1274.0 L180.0,1274.0 L181.2,1271.3 L182.4,1271.2 L183.6,1273.3 L184.8,1274.2 L186.0,1271.5 L187.2,1272.1 L188.4,1272.4 L189.6,1271.4 L190.8,1271.6 L192.0,1271.6 L193.2,1271.9 L194.4,1272.8 L195.6,1271.8 L196.8,1272.2 L198.0,1273.7 L199.2,1271.1 L200.4,1273.2 L201.6,1273.9 L202.8,1272.4 L204.0,1272.2 L205.2,1274.4 L206.4,1272.5 L207.6,1272.4 L208.8,1273.4 L210.0,1274.3 L211.2,1272.2 L212.4,1273.0 L213.6,1273.0 L214.8,1274.8 L216.0,1273.4 L217.2,1274.9 L218.4,1272.4 L219.6,1273.0 L220.8,1274.1 L222.0,1275.0 L223.2,1273.4 L224.4,1272.6 L225.6,1272.2 L226.8,1273.7 L228.0,1272.5 L229.2,1274.7 L230.4,1274.8 L231.6,1272.5 L232.8,1272.8 L234.0,1274.7 L235.2,1274.1 L236.4,1274.7 L237.6,1273.0 L238.8,1272.3 L240.0,1272.9 L241.2,1274.4 L242.4,1270.7 L243.6,1269.3 L244.8,1268.5 L246.0,1268.5 L247.2,1268.5 L248.4,1270.3 L249.6,1267.6 L250.8,1267.1 L252.0,1270.5 L253.2,1270.2 L254.4,1270.6 L255.6,1268.7 L256.8,1270.5 L258.0,1270.5 L259.2,1267.9 L260.4,1269.8 L261.6,1270.2 L262.8,1269.5 L264.0,1269.0 L265.2,1268.2 L266.4,1268.4 L267.6,1268.0 L268.8,1267.5 L270.0,1269.3 L271.2,1268.3 L272.4,1270.2 L273.6,1267.4 L274.8,1270.5 L276.0,1269.8 L277.2,1270.6 L278.4,1270.5 L279.6,1270.5 L280.8,1271.2 L282.0,1271.0 L283.2,1273.6 L284.4,1271.5 L285.6,1271.9 L286.8,1273.1 L288.0,1272.6 L289.2,1272.1 L290.4,1274.0 L291.6,1272.7 L292.8,1271.7 L294.0,1271.3 L295.2,1273.5 L296.4,1272.0 L297.6,1273.1 L298.8,1271.5 L300.0,1270.8 L301.2,1272.0 L302.4,1273.0 L303.6,1270.6 L304.8,1272.8 L306.0,1273.2 L307.2,1272.7 L308.4,1272.7 L309.6,1269.7 L310.8,1271.9 L312.0,1272.7 L313.2,1269.7 L314.4,1270.4 L315.6,1270.4 L316.8,1270.9 L318.0,1270.2 L319.2,1269.9 L320.4,1270.6 L321.6,1267.5 L322.8,1267.2 L324.0,1267.1 L325.2,1266.7 L326.4,1266.1 L327.6,1269.0 L328.8,1268.1 L330.0,1264.9 L331.2,1265.9 L332.4,1264.8 L333.6,1264.3 L334.8,1264.0 L336.0,1264.6 L337.2,1263.9 L338.4,1262.6 L339.6,1261.6 L340.8,1261.6 L342.0,1260.4 L343.2,1261.5 L344.4,1261.5 L345.6,1259.8 L346.8,1258.2 L348.0,1258.1 L349.2,1258.2 L350.4,1258.6 L351.6,1258.7 L352.8,1256.7 L354.0,1257.7 L355.2,1256.6 L356.4,1255.5 L357.6,1254.8 L358.8,1254.9 L360.0,1255.2 L361.2,1253.8 L362.4,1254.4 L363.6,1253.3 L364.8,1252.2 L366.0,1252.9 L367.2,1253.2 L368.4,1251.4 L369.6,1253.1 L370.8,1253.6 L372.0,1255.6 L373.2,1256.3 L374.4,1254.7 L375.6,1257.0 L376.8,1257.1 L378.0,1255.6 L379.2,1255.0 L380.4,1251.5 L381.6,1251.7 L382.8,1248.9 L384.0,1247.5 L385.2,1245.2 L386.4,1243.7 L387.6,1242.9 L388.8,1241.3 L390.0,1238.6 L391.2,1239.4 L392.4,1236.2 L393.6,1235.7 L394.8,1237.0 L396.0,1233.3 L397.2,1231.4 L398.4,1229.1 L399.6,1229.5 L400.8,1224.5 L402.0,1219.9 L403.2,1218.0 L404.4,1210.6 L405.6,1211.0 L406.8,1213.4 L408.0,1217.1 L409.2,1220.6 L410.4,1222.3 L411.6,1224.9 L412.8,1223.1 L414.0,1226.6 L415.2,1226.6 L416.4,1228.2 L417.6,1226.9 L418.8,1230.1 L420.0,1231.7 L421.2,1229.4 L422.4,1231.3 L423.6,1233.0 L424.8,1232.7 L426.0,1228.6 L427.2,1226.3 L428.4,1224.6 L429.6,1223.9 L430.8,1222.4 L432.0,1219.1 L433.2,1217.0 L434.4,1212.5 L435.6,1206.4 L436.8,1200.8 L438.0,1197.2 L439.2,1196.6 L440.4,1196.3 L441.6,1192.2 L442.8,1191.3 L444.0,1187.1 L445.2,1187.0 L446.4,1185.1 L447.6,1182.8 L448.8,1183.9 L450.0,1189.1 L451.2,1195.1 L452.4,1201.4 L453.6,1204.1 L454.8,1208.7 L456.0,1208.9 L457.2,1207.5 L458.4,1203.9 L459.6,1201.6 L460.8,1200.5 L462.0,1195.1 L463.2,1191.2 L464.4,1186.8 L465.6,1184.0 L466.8,1178.8" stroke="#3e6ea8" stroke-width="2" fill="none" stroke-linejoin="round"/>
<path d="M468.0,1177.5 L469.2,1181.4 L470.4,1184.6 L471.6,1184.4 L472.8,1188.1 L474.0,1189.3 L475.2,1193.1 L476.4,1194.3 L477.6,1195.4 L478.8,1197.4 L480.0,1195.0 L481.2,1193.7 L482.4,1190.3 L483.6,1186.5 L484.8,1184.2 L486.0,1182.3 L487.2,1184.7 L488.4,1183.1 L489.6,1186.9 L490.8,1185.8 L492.0,1186.9 L493.2,1187.2 L494.4,1186.9 L495.6,1183.7 L496.8,1179.6 L498.0,1176.1 L499.2,1177.2 L500.4,1181.3 L501.6,1183.3 L502.8,1188.1 L504.0,1192.6 L505.2,1194.4 L506.4,1197.2 L507.6,1200.8 L508.8,1206.2 L510.0,1209.1 L511.2,1207.0 L512.4,1203.4 L513.6,1198.1 L514.8,1194.8 L516.0,1191.9 L517.2,1190.3 L518.4,1191.7 L519.6,1191.8 L520.8,1191.4 L522.0,1188.7 L523.2,1191.1 L524.4,1191.5 L525.6,1194.2 L526.8,1199.8 L528.0,1203.9 L529.2,1210.5 L530.4,1219.6 L531.6,1224.2 L532.8,1230.9 L534.0,1238.2 L535.2,1240.1 L536.4,1237.7 L537.6,1238.9 L538.8,1239.3 L540.0,1239.4 L541.2,1238.5 L542.4,1239.8 L543.6,1241.1 L544.8,1239.1 L546.0,1239.7 L547.2,1238.1 L548.4,1238.1 L549.6,1238.8 L550.8,1236.1 L552.0,1238.2 L553.2,1237.6 L554.4,1234.0 L555.6,1236.3 L556.8,1233.6 L558.0,1234.3 L559.2,1235.5 L560.4,1236.9 L561.6,1241.4 L562.8,1244.4 L564.0,1248.1 L565.2,1249.2 L566.4,1254.1 L567.6,1255.4 L568.8,1253.6 L570.0,1252.3 L571.2,1250.0 L572.4,1250.6 L573.6,1249.3 L574.8,1249.9 L576.0,1249.0 L577.2,1247.8 L578.4,1245.7 L579.6,1246.6 L580.8,1247.1 L582.0,1246.3 L583.2,1249.6 L584.4,1249.5 L585.6,1248.3 L586.8,1251.9 L588.0,1249.8 L589.2,1251.2 L590.4,1253.4 L591.6,1253.7 L592.8,1254.3 L594.0,1255.3 L595.2,1252.7 L596.4,1249.3 L597.6,1245.9 L598.8,1242.6 L600.0,1242.1 L601.2,1239.3 L602.4,1235.6 L603.6,1233.5 L604.8,1230.3 L606.0,1228.9 L607.2,1228.2 L608.4,1228.9 L609.6,1224.9 L610.8,1225.5 L612.0,1223.5 L613.2,1224.3 L614.4,1221.7 L615.6,1220.6 L616.8,1219.8 L618.0,1219.3 L619.2,1219.2 L620.4,1216.7 L621.6,1217.4 L622.8,1213.8 L624.0,1213.4 L625.2,1212.0 L626.4,1211.5 L627.6,1213.4 L628.8,1212.8 L630.0,1210.4 L631.2,1209.9 L632.4,1210.2 L633.6,1210.9 L634.8,1210.7 L636.0,1210.0 L637.2,1208.9 L638.4,1206.9 L639.6,1207.3 L640.8,1206.1 L642.0,1211.8 L643.2,1217.4 L644.4,1220.6 L645.6,1220.3 L646.8,1221.8 L648.0,1218.7 L649.2,1221.1 L650.4,1221.0 L651.6,1220.8 L652.8,1218.4 L654.0,1218.6 L655.2,1222.4 L656.4,1226.2 L657.6,1230.2 L658.8,1230.1 L660.0,1229.5 L661.2,1232.4 L662.4,1232.0 L663.6,1233.3 L664.8,1228.9 L666.0,1220.9 L667.2,1218.3 L668.4,1212.5 L669.6,1206.5 L670.8,1203.4 L672.0,1202.2 L673.2,1200.2 L674.4,1200.4 L675.6,1197.7 L676.8,1198.3 L678.0,1197.9 L679.2,1196.2 L680.4,1194.7 L681.6,1192.5 L682.8,1188.6 L684.0,1182.2 L685.2,1183.0 L686.4,1184.9 L687.6,1185.4 L688.8,1189.1 L690.0,1191.2 L691.2,1193.2 L692.4,1193.4 L693.6,1193.0 L694.8,1189.0 L696.0,1189.2 L697.2,1186.8 L698.4,1183.0 L699.6,1183.8 L700.8,1181.1 L702.0,1180.5 L703.2,1179.5 L704.4,1181.5 L705.6,1182.0 L706.8,1185.5 L708.0,1187.9 L709.2,1189.6 L710.4,1189.9 L711.6,1192.9 L712.8,1193.6 L714.0,1193.9 L715.2,1195.3 L716.4,1197.2 L717.6,1199.3 L718.8,1200.8 L720.0,1202.9 L721.2,1204.3 L722.4,1204.5 L723.6,1204.8 L724.8,1206.3 L726.0,1205.8 L727.2,1208.4 L728.4,1217.9 L729.6,1218.4 L730.8,1218.1 L732.0,1221.2 L733.2,1221.0 L734.4,1220.2 L735.6,1220.7 L736.8,1221.8 L738.0,1222.5 L739.2,1221.6 L740.4,1221.3 L741.6,1222.5 L742.8,1225.1 L744.0,1223.3 L745.2,1224.5 L746.4,1222.7 L747.6,1221.9 L748.8,1220.8 L750.0,1220.8 L751.2,1219.1 L752.4,1220.2 L753.6,1222.7 L754.8,1225.1 L756.0,1228.5 L757.2,1229.2 L758.4,1231.2 L759.6,1235.0 L760.8,1237.0 L762.0,1238.9 L763.2,1236.8 L764.4,1238.4 L765.6,1238.7 L766.8,1237.6 L768.0,1241.3 L769.2,1238.9 L770.4,1238.8 L771.6,1240.5 L772.8,1239.7 L774.0,1241.6 L775.2,1248.4 L776.4,1250.9 L777.6,1250.2 L778.8,1252.2 L780.0,1250.1 L781.2,1251.5 L782.4,1249.9 L783.6,1251.1 L784.8,1248.4 L786.0,1247.8 L787.2,1247.4 L788.4,1248.9 L789.6,1245.8 L790.8,1241.6 L792.0,1237.5 L793.2,1236.4 L794.4,1237.4 L795.6,1237.5 L796.8,1236.9 L798.0,1238.5 L799.2,1240.2 L800.4,1242.0 L801.6,1243.0 L802.8,1244.6 L804.0,1248.2 L805.2,1250.6 L806.4,1249.6 L807.6,1250.1 L808.8,1245.2 L810.0,1243.4 L811.2,1240.8 L812.4,1237.8 L813.6,1233.7 L814.8,1236.0 L816.0,1238.5 L817.2,1241.0 L818.4,1239.3 L819.6,1241.4 L820.8,1244.7 L822.0,1243.4 L823.2,1245.8 L824.4,1246.9 L825.6,1249.5 L826.8,1249.7 L828.0,1245.2 L829.2,1245.5 L830.4,1243.8 L831.6,1242.4 L832.8,1239.7 L834.0,1239.3 L835.2,1235.5 L836.4,1234.0 L837.6,1231.6 L838.8,1231.8 L840.0,1229.0 L841.2,1227.6 L842.4,1227.7 L843.6,1230.2 L844.8,1230.2 L846.0,1231.1 L847.2,1230.4 L848.4,1231.2 L849.6,1231.8 L850.8,1236.2 L852.0,1236.1 L853.2,1240.1 L854.4,1243.5 L855.6,1245.1 L856.8,1243.3 L858.0,1244.1 L859.2,1246.6 L860.4,1246.2 L861.6,1247.4 L862.8,1247.6 L864.0,1246.4 L865.2,1248.3 L866.4,1248.0 L867.6,1246.9 L868.8,1247.3 L870.0,1246.6 L871.2,1248.1 L872.4,1250.4 L873.6,1247.6 L874.8,1249.8 L876.0,1251.1 L877.2,1254.0 L878.4,1259.1 L879.6,1260.6 L880.8,1262.9 L882.0,1264.3 L883.2,1266.1 L884.4,1266.0 L885.6,1264.0 L886.8,1264.9 L888.0,1267.6 L889.2,1265.0 L890.4,1266.3 L891.6,1265.9 L892.8,1267.2 L894.0,1266.7 L895.2,1267.4 L896.4,1266.6 L897.6,1265.4 L898.8,1265.4 L900.0,1265.1 L901.2,1267.9 L902.4,1265.4 L903.6,1265.2 L904.8,1268.6 L906.0,1265.9 L907.2,1268.5 L908.4,1266.6 L909.6,1268.9 L910.8,1269.0 L912.0,1272.2 L913.2,1272.4 L914.4,1276.7 L915.6,1281.2 L916.8,1285.3 L918.0,1285.9 L919.2,1289.3 L920.4,1289.3 L921.6,1287.5 L922.8,1289.5 L924.0,1288.1 L925.2,1288.2 L926.4,1285.7 L927.6,1287.6 L928.8,1288.0 L930.0,1289.7 L931.2,1288.1 L932.4,1289.8 L933.6,1291.0 L934.8,1289.5 L936.0,1290.1 L937.2,1289.5 L938.4,1287.1 L939.6,1287.5 L940.8,1288.6 L942.0,1288.4 L943.2,1290.1 L944.4,1292.9 L945.6,1289.1 L946.8,1288.0 L948.0,1285.3 L949.2,1284.4 L950.4,1282.8 L951.6,1284.1 L952.8,1282.9 L954.0,1284.0 L955.2,1285.0 L956.4,1284.3 L957.6,1286.0 L958.8,1285.0 L960.0,1283.4 L961.2,1284.1 L962.4,1283.2 L963.6,1283.2 L964.8,1281.4 L966.0,1282.2 L967.2,1280.8 L968.4,1282.7 L969.6,1282.3 L970.8,1279.9 L972.0,1282.0 L973.2,1279.2 L974.4,1278.7 L975.6,1281.8 L976.8,1281.7 L978.0,1284.0 L979.2,1286.0 L980.4,1285.3 L981.6,1289.0 L982.8,1286.9 L984.0,1287.0 L985.2,1286.2 L986.4,1287.2 L987.6,1286.8 L988.8,1285.0 L990.0,1284.2 L991.2,1284.8 L992.4,1285.2 L993.6,1283.9 L994.8,1284.1 L996.0,1286.2 L997.2,1285.9 L998.4,1286.8 L999.6,1287.1 L1000.8,1288.3 L1002.0,1288.1 L1003.2,1289.0 L1004.4,1290.7 L1005.6,1290.2 L1006.8,1289.4 L1008.0,1288.5 L1009.2,1286.8 L1010.4,1287.6 L1011.6,1284.5 L1012.8,1284.2 L1014.0,1284.8 L1015.2,1284.7 L1016.4,1283.1 L1017.6,1283.1 L1018.8,1285.3 L1020.0,1282.6 L1021.2,1283.3 L1022.4,1284.9 L1023.6,1285.1 L1024.8,1283.7 L1026.0,1283.2 L1027.2,1283.7 L1028.4,1285.7 L1029.6,1284.5 L1030.8,1286.3 L1032.0,1285.5 L1033.2,1286.1 L1034.4,1282.7 L1035.6,1283.1 L1036.8,1282.5 L1038.0,1284.3 L1039.2,1284.2 L1040.4,1283.4 L1041.6,1285.5 L1042.8,1284.1 L1044.0,1285.1 L1045.2,1285.2 L1046.4,1287.4 L1047.6,1286.3 L1048.8,1286.0 L1050.0,1285.5 L1051.2,1287.1 L1052.4,1287.4 L1053.6,1287.1 L1054.8,1287.6 L1056.0,1286.7 L1057.2,1284.3 L1058.4,1286.5 L1059.6,1293.4 L1060.8,1298.3 L1062.0,1301.2 L1063.2,1302.1 L1064.4,1300.8 L1065.6,1299.5 L1066.8,1298.9 L1068.0,1298.0 L1069.2,1300.0 L1070.4,1300.7 L1071.6,1300.4 L1072.8,1298.7 L1074.0,1299.5 L1075.2,1300.5 L1076.4,1300.1 L1077.6,1299.4 L1078.8,1298.8 L1080.0,1299.2 L1081.2,1298.1 L1082.4,1298.2 L1083.6,1300.0 L1084.8,1301.2 L1086.0,1299.6 L1087.2,1299.2 L1088.4,1299.1 L1089.6,1299.4 L1090.8,1300.6 L1092.0,1299.3 L1093.2,1301.0 L1094.4,1298.1 L1095.6,1298.6 L1096.8,1299.3 L1098.0,1298.8 L1099.2,1300.3 L1100.4,1300.2 L1101.6,1300.5 L1102.8,1299.3 L1104.0,1297.1 L1105.2,1299.1 L1106.4,1299.1 L1107.6,1298.9 L1108.8,1298.2 L1110.0,1299.8 L1111.2,1300.6 L1112.4,1297.8 L1113.6,1299.9 L1114.8,1298.9 L1116.0,1299.5 L1117.2,1300.9 L1118.4,1301.2 L1119.6,1300.3 L1120.8,1299.6 L1122.0,1303.1 L1123.2,1301.3 L1124.4,1302.9 L1125.6,1305.5 L1126.8,1303.3 L1128.0,1302.4 L1129.2,1304.1 L1130.4,1303.4 L1131.6,1300.4 L1132.8,1299.9 L1134.0,1298.8 L1135.2,1298.1 L1136.4,1298.4 L1137.6,1300.8 L1138.8,1297.4 L1140.0,1297.8 L1141.2,1297.5 L1142.4,1296.9 L1143.6,1298.3 L1144.8,1299.0 L1146.0,1299.5 L1147.2,1299.4 L1148.4,1300.7 L1149.6,1298.3 L1150.8,1299.9 L1152.0,1303.0 L1153.2,1300.4 L1154.4,1301.7 L1155.6,1301.7 L1156.8,1298.3 L1158.0,1296.7 L1159.2,1294.2 L1160.4,1295.2 L1161.6,1298.2 L1162.8,1295.6 L1164.0,1298.6 L1165.2,1296.4 L1166.4,1299.6 L1167.6,1298.8 L1168.8,1299.1 L1170.0,1297.7 L1171.2,1297.9 L1172.4,1301.0 L1173.6,1299.5 L1174.8,1300.1 L1176.0,1303.0 L1177.2,1303.7 L1178.4,1301.3" stroke="#3e6ea8" stroke-width="2" fill="none" stroke-dasharray="4,1.8"/>
<path d="M1179.6,1304.9 L1180.8,1300.9 L1182.0,1297.8 L1183.2,1294.3 L1184.4,1292.9 L1185.6,1292.5 L1186.8,1289.0 L1188.0,1288.4 L1189.2,1288.4 L1190.4,1288.2 L1191.6,1288.9 L1192.8,1290.8 L1194.0,1287.7 L1195.2,1288.0 L1196.4,1290.7 L1197.6,1290.9 L1198.8,1290.8 L1200.0,1288.2 L1201.2,1288.6 L1202.4,1290.7 L1203.6,1289.0 L1204.8,1289.8 L1206.0,1287.9 L1207.2,1286.3 L1208.4,1286.8 L1209.6,1287.7 L1210.8,1287.2 L1212.0,1285.8 L1213.2,1284.8 L1214.4,1284.5 L1215.6,1284.9 L1216.8,1286.4 L1218.0,1288.7 L1219.2,1287.6 L1220.4,1290.2 L1221.6,1292.1 L1222.8,1291.4 L1224.0,1288.7 L1225.2,1291.1 L1226.4,1290.3 L1227.6,1287.5 L1228.8,1287.5 L1230.0,1286.9 L1231.2,1285.9 L1232.4,1288.9 L1233.6,1286.5 L1234.8,1288.3 L1236.0,1286.3 L1237.2,1286.7 L1238.4,1290.5 L1239.6,1290.9 L1240.8,1292.4 L1242.0,1292.0 L1243.2,1291.5 L1244.4,1292.2 L1245.6,1289.7 L1246.8,1291.2 L1248.0,1290.7 L1249.2,1289.5 L1250.4,1291.0 L1251.6,1289.9 L1252.8,1290.4 L1254.0,1289.8 L1255.2,1289.4 L1256.4,1289.5 L1257.6,1290.5 L1258.8,1292.3 L1260.0,1292.5 L1261.2,1292.7 L1262.4,1293.0 L1263.6,1291.5 L1264.8,1294.4 L1266.0,1292.2 L1267.2,1292.1 L1268.4,1293.9 L1269.6,1295.2 L1270.8,1294.2 L1272.0,1295.7 L1273.2,1294.8 L1274.4,1295.7 L1275.6,1292.3 L1276.8,1290.8 L1278.0,1289.4 L1279.2,1289.1 L1280.4,1287.9 L1281.6,1285.1 L1282.8,1284.7 L1284.0,1285.3 L1285.2,1283.3 L1286.4,1284.5 L1287.6,1286.0 L1288.8,1285.7 L1290.0,1283.1 L1291.2,1285.9 L1292.4,1284.2 L1293.6,1286.3 L1294.8,1284.0 L1296.0,1283.4 L1297.2,1284.6 L1298.4,1285.7 L1299.6,1284.1 L1300.8,1285.6 L1302.0,1285.0 L1303.2,1283.9 L1304.4,1283.9 L1305.6,1284.9 L1306.8,1284.7 L1308.0,1284.8 L1309.2,1286.1 L1310.4,1287.1 L1311.6,1286.3 L1312.8,1285.0 L1314.0,1285.5 L1315.2,1286.3 L1316.4,1287.4 L1317.6,1285.9 L1318.8,1285.9 L1320.0,1286.8 L1321.2,1286.7 L1322.4,1285.9 L1323.6,1287.8 L1324.8,1289.2 L1326.0,1287.9 L1327.2,1288.7 L1328.4,1289.1 L1329.6,1289.2 L1330.8,1289.5 L1332.0,1287.8 L1333.2,1288.8 L1334.4,1286.8 L1335.6,1291.5 L1336.8,1292.9 L1338.0,1294.6 L1339.2,1296.1 L1340.4,1293.9 L1341.6,1293.6 L1342.8,1295.9 L1344.0,1295.1 L1345.2,1293.2 L1346.4,1293.0 L1347.6,1294.2 L1348.8,1292.9 L1350.0,1295.9 L1351.2,1293.6 L1352.4,1294.2 L1353.6,1294.9 L1354.8,1295.7 L1356.0,1295.7 L1357.2,1296.7 L1358.4,1297.2 L1359.6,1296.7 L1360.8,1295.7 L1362.0,1298.6 L1363.2,1297.3 L1364.4,1294.8 L1365.6,1295.8 L1366.8,1296.6 L1368.0,1297.2 L1369.2,1293.5 L1370.4,1293.0 L1371.6,1294.4 L1372.8,1293.9 L1374.0,1295.3 L1375.2,1294.8 L1376.4,1292.7 L1377.6,1292.7 L1378.8,1293.0 L1380.0,1293.8 L1381.2,1291.0 L1382.4,1291.4 L1383.6,1290.0 L1384.8,1292.3 L1386.0,1290.4 L1387.2,1294.0 L1388.4,1292.8 L1389.6,1293.3 L1390.8,1291.8 L1392.0,1292.6 L1393.2,1293.8 L1394.4,1293.8 L1395.6,1291.1 L1396.8,1288.6 L1398.0,1289.5 L1399.2,1286.8 L1400.4,1284.8 L1401.6,1282.0 L1402.8,1280.6 L1404.0,1281.0 L1405.2,1276.4 L1406.4,1276.2 L1407.6,1276.2 L1408.8,1274.9 L1410.0,1276.0 L1411.2,1276.2 L1412.4,1275.7 L1413.6,1274.9 L1414.8,1272.6 L1416.0,1271.8 L1417.2,1272.8 L1418.4,1272.0 L1419.6,1271.3 L1420.8,1273.4 L1422.0,1270.9 L1423.2,1273.0 L1424.4,1273.3 L1425.6,1270.2 L1426.8,1273.0 L1428.0,1271.0 L1429.2,1270.2 L1430.4,1270.0 L1431.6,1269.4 L1432.8,1270.9 L1434.0,1270.4 L1435.2,1272.0 L1436.4,1271.8 L1437.6,1268.9 L1438.8,1270.0 L1440.0,1266.8 L1441.2,1262.7 L1442.4,1259.8 L1443.6,1256.5 L1444.8,1258.7 L1446.0,1258.0 L1447.2,1257.8 L1448.4,1258.8 L1449.6,1260.2 L1450.8,1261.2 L1452.0,1260.5 L1453.2,1261.6 L1454.4,1259.4 L1455.6,1260.5 L1456.8,1259.8 L1458.0,1257.7 L1459.2,1259.3 L1460.4,1257.5 L1461.6,1257.6 L1462.8,1258.3 L1464.0,1258.9 L1465.2,1258.8 L1466.4,1257.9 L1467.6,1261.0 L1468.8,1261.8 L1470.0,1261.0 L1471.2,1261.8 L1472.4,1259.3 L1473.6,1260.3 L1474.8,1258.2 L1476.0,1255.2 L1477.2,1256.1 L1478.4,1255.3 L1479.6,1252.2 L1480.8,1256.0 L1482.0,1255.6 L1483.2,1255.9 L1484.4,1259.3 L1485.6,1259.4 L1486.8,1262.2 L1488.0,1263.1 L1489.2,1262.9 L1490.4,1265.8 L1491.6,1268.4 L1492.8,1267.5 L1494.0,1266.9 L1495.2,1267.2 L1496.4,1264.8 L1497.6,1264.1 L1498.8,1263.5 L1500.0,1263.5 L1501.2,1261.0 L1502.4,1260.5 L1503.6,1262.7 L1504.8,1261.7 L1506.0,1257.8 L1507.2,1256.4 L1508.4,1252.8 L1509.6,1249.8 L1510.8,1249.6 L1512.0,1247.2 L1513.2,1245.1 L1514.4,1241.7 L1515.6,1239.7 L1516.8,1242.4 L1518.0,1242.8 L1519.2,1241.6 L1520.4,1242.3 L1521.6,1242.9 L1522.8,1242.0 L1524.0,1240.5 L1525.2,1232.5 L1526.4,1224.2 L1527.6,1218.3 L1528.8,1216.4 L1530.0,1212.0 L1531.2,1209.9 L1532.4,1208.8 L1533.6,1216.6 L1534.8,1212.6 L1536.0,1210.1 L1537.2,1207.4 L1538.4,1202.4 L1539.6,1198.9 L1540.8,1200.4 L1542.0,1203.9 L1543.2,1209.5 L1544.4,1212.8 L1545.6,1217.0 L1546.8,1223.1 L1548.0,1222.5 L1549.2,1219.0 L1550.4,1214.4 L1551.6,1210.7 L1552.8,1206.2 L1554.0,1205.0 L1555.2,1207.3 L1556.4,1211.6 L1557.6,1210.7 L1558.8,1215.8 L1560.0,1216.2 L1561.2,1215.3 L1562.4,1212.4 L1563.6,1212.7 L1564.8,1207.7 L1566.0,1206.8 L1567.2,1204.8 L1568.4,1206.9 L1569.6,1210.2 L1570.8,1216.2 L1572.0,1218.7 L1573.2,1221.8 L1574.4,1225.6 L1575.6,1225.5 L1576.8,1225.2 L1578.0,1223.0 L1579.2,1218.6 L1580.4,1217.0 L1581.6,1219.8 L1582.8,1218.7 L1584.0,1221.4 L1585.2,1220.5 L1586.4,1223.5 L1587.6,1224.7 L1588.8,1231.1 L1590.0,1236.1 L1591.2,1243.5 L1592.4,1248.0 L1593.6,1245.9 L1594.8,1245.4 L1596.0,1243.2 L1597.2,1243.4 L1598.4,1240.2 L1599.6,1241.8 L1600.8,1244.2 L1602.0,1245.8 L1603.2,1246.9 L1604.4,1249.6 L1605.6,1253.6 L1606.8,1252.5 L1608.0,1249.2 L1609.2,1244.1 L1610.4,1246.8 L1611.6,1247.5 L1612.8,1248.1 L1614.0,1247.9 L1615.2,1247.8 L1616.4,1250.7 L1617.6,1252.1 L1618.8,1251.7 L1620.0,1248.1 L1621.2,1246.9 L1622.4,1248.8 L1623.6,1246.9 L1624.8,1246.4 L1626.0,1248.7 L1627.2,1247.9 L1628.4,1250.7 L1629.6,1252.6 L1630.8,1253.7 L1632.0,1253.5 L1633.2,1254.8 L1634.4,1258.0 L1635.6,1260.6 L1636.8,1259.6 L1638.0,1260.8 L1639.2,1262.8 L1640.4,1267.0 L1641.6,1267.2 L1642.8,1268.7 L1644.0,1270.1 L1645.2,1268.1 L1646.4,1266.3 L1647.6,1267.3 L1648.8,1264.2 L1650.0,1266.8 L1651.2,1271.5 L1652.4,1272.8 L1653.6,1275.5 L1654.8,1278.8 L1656.0,1277.2 L1657.2,1278.6 L1658.4,1274.6 L1659.6,1276.2 L1660.8,1273.8 L1662.0,1272.2 L1663.2,1267.4 L1664.4,1264.6 L1665.6,1259.8 L1666.8,1255.9 L1668.0,1253.7 L1669.2,1255.0 L1670.4,1253.3 L1671.6,1252.9 L1672.8,1253.6 L1674.0,1252.4 L1675.2,1255.8 L1676.4,1261.0 L1677.6,1265.2 L1678.8,1269.7 L1680.0,1272.9 L1681.2,1276.3 L1682.4,1280.6 L1683.6,1280.3 L1684.8,1274.3 L1686.0,1270.2 L1687.2,1269.2 L1688.4,1272.1 L1689.6,1272.8 L1690.8,1274.2 L1692.0,1275.6 L1693.2,1275.3 L1694.4,1273.0 L1695.6,1270.7 L1696.8,1267.9 L1698.0,1268.6 L1699.2,1265.7 L1700.4,1262.3 L1701.6,1264.9 L1702.8,1267.8 L1704.0,1272.1 L1705.2,1274.4 L1706.4,1274.6 L1707.6,1279.1 L1708.8,1277.4 L1710.0,1279.4 L1711.2,1283.0 L1712.4,1281.1 L1713.6,1283.8 L1714.8,1284.8 L1716.0,1282.4 L1717.2,1283.3 L1718.4,1279.9 L1719.6,1276.9 L1720.8,1277.0 L1722.0,1273.7 L1723.2,1274.7 L1724.4,1273.1 L1725.6,1271.0 L1726.8,1265.7 L1728.0,1265.8 L1729.2,1263.5 L1730.4,1263.4 L1731.6,1262.0 L1732.8,1261.3 L1734.0,1260.0 L1735.2,1261.0 L1736.4,1258.4 L1737.6,1265.0 L1738.8,1265.5 L1740.0,1272.4 L1741.2,1269.6 L1742.4,1269.2 L1743.6,1271.6 L1744.8,1270.8 L1746.0,1271.7 L1747.2,1270.7 L1748.4,1270.9 L1749.6,1265.3 L1750.8,1263.8 L1752.0,1259.6 L1753.2,1257.6 L1754.4,1254.0 L1755.6,1254.5 L1756.8,1256.9 L1758.0,1258.1 L1759.2,1256.5 L1760.4,1257.8 L1761.6,1257.5 L1762.8,1254.1 L1764.0,1251.4 L1765.2,1248.8 L1766.4,1243.8 L1767.6,1245.7 L1768.8,1249.4 L1770.0,1249.9 L1771.2,1252.9 L1772.4,1254.4 L1773.6,1247.7 L1774.8,1239.9 L1776.0,1231.0 L1777.2,1222.2 L1778.4,1211.0 L1779.6,1208.1 L1780.8,1207.4 L1782.0,1205.2 L1783.2,1204.7 L1784.4,1202.4 L1785.6,1198.3 L1786.8,1192.8 L1788.0,1188.3 L1789.2,1187.3 L1790.4,1189.3 L1791.6,1192.3 L1792.8,1193.1 L1794.0,1196.3 L1795.2,1194.4 L1796.4,1192.8 L1797.6,1192.3 L1798.8,1190.1 L1800.0,1191.5 L1801.2,1190.6 L1802.4,1188.1 L1803.6,1188.4" stroke="#3e6ea8" stroke-width="2" fill="none" stroke-linejoin="round"/>
<circle cx="467.4" cy="1177.4" r="5" fill="#00b800" stroke="#86a8f5" stroke-width="0.8"/><path d="M467.4,1174.5 V1181.5 M465.8,1174.5 H469" stroke="#9cc0f5" stroke-width="0.9"/>
<circle cx="1179.5" cy="1309.5" r="5.2" fill="#00bb00" stroke="#ff4848" stroke-width="1"/><path d="M1179.5,1306.5 V1314 M1178,1306.5 H1181" stroke="#ff4848" stroke-width="1"/>
<path d="M52,1365.7 H1806" stroke="#9ab86a" stroke-width="0.8" fill="none"/>
<path d="M57.5,1366 V1365.5 M71.5,1366 V1365.2 M74.5,1366 V1365.4 M88.5,1366 V1365.5 M98.5,1366 V1365.0 M106.5,1366 V1365.5 M108.5,1366 V1365.3 M113.5,1366 V1363.3 M116.5,1366 V1365.3 M123.5,1366 V1365.5 M125.5,1366 V1365.4 M126.5,1366 V1365.2 M145.5,1366 V1365.5 M151.5,1366 V1364.4 M153.5,1366 V1363.2 M166.5,1366 V1364.5 M168.5,1366 V1365.0 M169.5,1366 V1365.5 M184.5,1366 V1365.3 M188.5,1366 V1365.0 M199.5,1366 V1365.0 M205.5,1366 V1365.0 M206.5,1366 V1365.1 M217.5,1366 V1365.4 M221.5,1366 V1365.4 M225.5,1366 V1364.9 M228.5,1366 V1365.4 M232.5,1366 V1364.0 M234.5,1366 V1365.4 M236.5,1366 V1365.4 M246.5,1366 V1365.4 M264.5,1366 V1364.1 M283.5,1366 V1365.0 M286.5,1366 V1365.1 M299.5,1366 V1365.4 M303.5,1366 V1365.4 M308.5,1366 V1364.8 M312.5,1366 V1365.2 M313.5,1366 V1365.4 M326.5,1366 V1365.0 M327.5,1366 V1364.9 M332.5,1366 V1364.6 M333.5,1366 V1365.0 M339.5,1366 V1365.5 M344.5,1366 V1365.3 M345.5,1366 V1365.0 M347.5,1366 V1363.4 M351.5,1366 V1365.1 M352.5,1366 V1364.2 M355.5,1366 V1365.0 M356.5,1366 V1364.1 M360.5,1366 V1363.4 M363.5,1366 V1365.0 M371.5,1366 V1365.5 M379.5,1366 V1358.7 M382.5,1366 V1365.5 M383.5,1366 V1362.6 M384.5,1366 V1363.8 M385.5,1366 V1365.4 M393.5,1366 V1356.3 M394.5,1366 V1355.2 M395.5,1366 V1362.6 M405.5,1366 V1365.0 M406.5,1366 V1359.5 M408.5,1366 V1362.3 M409.5,1366 V1361.7 M414.5,1366 V1357.5 M415.5,1366 V1362.8 M417.5,1366 V1363.9 M418.5,1366 V1354.4 M420.5,1366 V1359.3 M420.5,1366 V1350.9 M421.5,1366 V1365.4 M423.5,1366 V1364.2 M426.5,1366 V1365.0 M436.5,1366 V1365.2 M443.5,1366 V1362.7 M444.5,1366 V1360.7 M446.5,1366 V1359.4 M448.5,1366 V1363.1 M449.5,1366 V1365.0 M450.5,1366 V1363.4 M452.5,1366 V1354.5 M455.5,1366 V1362.5 M456.5,1366 V1363.4 M460.5,1366 V1364.2 M461.5,1366 V1362.5 M463.5,1366 V1364.3 M464.5,1366 V1355.3 M465.5,1366 V1360.8 M468.5,1366 V1363.5 M469.5,1366 V1363.0 M469.5,1366 V1365.4 M470.5,1366 V1357.4 M472.5,1366 V1361.3 M473.5,1366 V1361.8 M474.5,1366 V1363.6 M475.5,1366 V1364.4 M477.5,1366 V1364.9 M478.5,1366 V1363.6 M480.5,1366 V1364.6 M481.5,1366 V1351.1 M482.5,1366 V1361.7 M483.5,1366 V1364.8 M486.5,1366 V1359.6 M487.5,1366 V1362.5 M488.5,1366 V1353.6 M491.5,1366 V1363.7 M494.5,1366 V1355.4 M501.5,1366 V1363.2 M505.5,1366 V1364.5 M506.5,1366 V1362.3 M508.5,1366 V1365.4 M510.5,1366 V1363.8 M511.5,1366 V1362.6 M513.5,1366 V1355.7 M514.5,1366 V1360.3 M515.5,1366 V1364.6 M516.5,1366 V1343.5 M518.5,1366 V1364.5 M518.5,1366 V1364.2 M520.5,1366 V1360.7 M523.5,1366 V1358.3 M524.5,1366 V1346.0 M525.5,1366 V1364.3 M528.5,1366 V1364.6 M529.5,1366 V1364.8 M530.5,1366 V1362.0 M541.5,1366 V1365.0 M542.5,1366 V1363.7 M546.5,1366 V1364.5 M549.5,1366 V1363.6 M551.5,1366 V1360.7 M555.5,1366 V1361.5 M556.5,1366 V1349.8 M557.5,1366 V1365.1 M558.5,1366 V1358.3 M560.5,1366 V1359.4 M564.5,1366 V1365.1 M565.5,1366 V1364.5 M566.5,1366 V1362.0 M568.5,1366 V1363.9 M569.5,1366 V1361.9 M570.5,1366 V1364.6 M571.5,1366 V1360.7 M572.5,1366 V1364.5 M575.5,1366 V1362.3 M577.5,1366 V1365.1 M578.5,1366 V1365.0 M579.5,1366 V1355.0 M588.5,1366 V1363.6 M590.5,1366 V1361.9 M591.5,1366 V1357.7 M600.5,1366 V1364.7 M601.5,1366 V1362.2 M605.5,1366 V1359.9 M606.5,1366 V1357.5 M608.5,1366 V1364.9 M609.5,1366 V1354.7 M610.5,1366 V1361.2 M611.5,1366 V1362.1 M613.5,1366 V1363.7 M614.5,1366 V1360.7 M615.5,1366 V1361.8 M616.5,1366 V1365.5 M616.5,1366 V1365.3 M618.5,1366 V1344.0 M619.5,1366 V1362.9 M620.5,1366 V1363.6 M642.5,1366 V1362.1 M643.5,1366 V1360.7 M644.5,1366 V1350.2 M645.5,1366 V1360.8 M650.5,1366 V1362.3 M651.5,1366 V1364.4 M653.5,1366 V1362.1 M657.5,1366 V1361.1 M658.5,1366 V1364.3 M662.5,1366 V1361.7 M664.5,1366 V1361.6 M673.5,1366 V1363.6 M674.5,1366 V1360.2 M675.5,1366 V1361.4 M677.5,1366 V1363.5 M679.5,1366 V1345.4 M680.5,1366 V1362.8 M684.5,1366 V1355.3 M685.5,1366 V1359.8 M690.5,1366 V1363.6 M691.5,1366 V1361.0 M692.5,1366 V1358.1 M694.5,1366 V1363.7 M697.5,1366 V1360.6 M699.5,1366 V1360.1 M703.5,1366 V1347.5 M705.5,1366 V1365.0 M709.5,1366 V1363.7 M711.5,1366 V1362.9 M713.5,1366 V1364.9 M714.5,1366 V1365.0 M714.5,1366 V1357.8 M715.5,1366 V1363.1 M716.5,1366 V1364.3 M717.5,1366 V1358.9 M719.5,1366 V1363.8 M720.5,1366 V1358.5 M724.5,1366 V1364.6 M726.5,1366 V1359.4 M727.5,1366 V1365.0 M729.5,1366 V1357.4 M739.5,1366 V1360.7 M744.5,1366 V1363.8 M751.5,1366 V1362.3 M753.5,1366 V1357.0 M755.5,1366 V1364.0 M756.5,1366 V1360.3 M758.5,1366 V1357.6 M760.5,1366 V1364.3 M761.5,1366 V1364.5 M764.5,1366 V1364.5 M765.5,1366 V1362.4 M768.5,1366 V1360.0 M770.5,1366 V1365.2 M773.5,1366 V1365.4 M775.5,1366 V1358.5 M776.5,1366 V1361.7 M777.5,1366 V1357.6 M778.5,1366 V1363.6 M780.5,1366 V1365.2 M781.5,1366 V1364.5 M784.5,1366 V1363.3 M786.5,1366 V1365.5 M790.5,1366 V1365.4 M792.5,1366 V1362.3 M793.5,1366 V1364.4 M796.5,1366 V1364.1 M798.5,1366 V1359.5 M800.5,1366 V1364.7 M808.5,1366 V1362.2 M810.5,1366 V1365.3 M812.5,1366 V1358.0 M812.5,1366 V1365.1 M813.5,1366 V1363.1 M815.5,1366 V1360.5 M818.5,1366 V1365.4 M820.5,1366 V1362.2 M821.5,1366 V1364.5 M826.5,1366 V1364.7 M831.5,1366 V1361.9 M841.5,1366 V1364.8 M844.5,1366 V1363.8 M845.5,1366 V1362.1 M846.5,1366 V1363.0 M847.5,1366 V1358.4 M848.5,1366 V1364.2 M849.5,1366 V1365.1 M851.5,1366 V1362.1 M853.5,1366 V1358.7 M854.5,1366 V1348.1 M855.5,1366 V1364.5 M857.5,1366 V1363.7 M860.5,1366 V1354.2 M861.5,1366 V1365.4 M861.5,1366 V1363.4 M864.5,1366 V1364.4 M866.5,1366 V1360.5 M867.5,1366 V1360.4 M870.5,1366 V1362.5 M872.5,1366 V1363.1 M876.5,1366 V1362.1 M881.5,1366 V1350.2 M883.5,1366 V1365.4 M885.5,1366 V1361.0 M887.5,1366 V1362.9 M890.5,1366 V1362.3 M891.5,1366 V1362.2 M892.5,1366 V1365.2 M894.5,1366 V1364.5 M898.5,1366 V1365.2 M905.5,1366 V1365.0 M906.5,1366 V1359.6 M907.5,1366 V1358.2 M910.5,1366 V1363.4 M914.5,1366 V1363.4 M916.5,1366 V1363.2 M917.5,1366 V1363.2 M919.5,1366 V1364.2 M925.5,1366 V1365.5 M926.5,1366 V1364.7 M928.5,1366 V1364.9 M929.5,1366 V1364.3 M932.5,1366 V1364.5 M939.5,1366 V1363.7 M941.5,1366 V1363.4 M946.5,1366 V1363.6 M949.5,1366 V1365.4 M950.5,1366 V1363.3 M954.5,1366 V1362.9 M956.5,1366 V1365.3 M957.5,1366 V1365.3 M961.5,1366 V1364.7 M962.5,1366 V1362.3 M964.5,1366 V1363.4 M965.5,1366 V1365.4 M969.5,1366 V1365.5 M972.5,1366 V1364.9 M983.5,1366 V1364.5 M984.5,1366 V1364.5 M985.5,1366 V1365.3 M987.5,1366 V1365.4 M991.5,1366 V1364.6 M994.5,1366 V1365.1 M996.5,1366 V1363.9 M998.5,1366 V1363.9 M999.5,1366 V1364.9 M1005.5,1366 V1364.9 M1007.5,1366 V1364.9 M1008.5,1366 V1364.8 M1014.5,1366 V1363.3 M1017.5,1366 V1365.5 M1020.5,1366 V1364.5 M1021.5,1366 V1363.9 M1033.5,1366 V1364.8 M1037.5,1366 V1360.0 M1046.5,1366 V1364.6 M1048.5,1366 V1365.0 M1049.5,1366 V1362.3 M1053.5,1366 V1364.7 M1060.5,1366 V1363.8 M1062.5,1366 V1365.0 M1063.5,1366 V1365.4 M1069.5,1366 V1364.5 M1073.5,1366 V1364.5 M1081.5,1366 V1365.4 M1087.5,1366 V1363.6 M1089.5,1366 V1365.1 M1091.5,1366 V1363.2 M1095.5,1366 V1365.4 M1100.5,1366 V1364.4 M1105.5,1366 V1365.4 M1106.5,1366 V1365.1 M1108.5,1366 V1365.5 M1113.5,1366 V1365.1 M1114.5,1366 V1364.3 M1118.5,1366 V1364.4 M1120.5,1366 V1365.3 M1131.5,1366 V1365.3 M1136.5,1366 V1365.2 M1137.5,1366 V1364.5 M1138.5,1366 V1365.0 M1139.5,1366 V1360.7 M1142.5,1366 V1365.4 M1143.5,1366 V1365.1 M1145.5,1366 V1365.3 M1150.5,1366 V1364.8 M1155.5,1366 V1364.0 M1155.5,1366 V1365.2 M1162.5,1366 V1363.2 M1163.5,1366 V1365.2 M1165.5,1366 V1365.4 M1169.5,1366 V1362.8 M1171.5,1366 V1363.9 M1173.5,1366 V1364.1 M1176.5,1366 V1365.2 M1182.5,1366 V1365.4 M1183.5,1366 V1364.9 M1186.5,1366 V1365.1 M1187.5,1366 V1364.8 M1188.5,1366 V1365.3 M1189.5,1366 V1365.4 M1190.5,1366 V1365.2 M1191.5,1366 V1365.3 M1194.5,1366 V1362.2 M1199.5,1366 V1365.2 M1201.5,1366 V1364.6 M1202.5,1366 V1365.4 M1205.5,1366 V1362.4 M1214.5,1366 V1365.5 M1217.5,1366 V1364.7 M1218.5,1366 V1363.9 M1219.5,1366 V1364.2 M1221.5,1366 V1364.7 M1222.5,1366 V1364.8 M1223.5,1366 V1365.2 M1224.5,1366 V1365.4 M1225.5,1366 V1364.0 M1226.5,1366 V1365.3 M1227.5,1366 V1362.6 M1229.5,1366 V1365.3 M1235.5,1366 V1364.8 M1240.5,1366 V1364.5 M1242.5,1366 V1364.9 M1243.5,1366 V1362.8 M1245.5,1366 V1365.1 M1250.5,1366 V1362.5 M1252.5,1366 V1364.0 M1259.5,1366 V1364.5 M1261.5,1366 V1365.1 M1264.5,1366 V1361.9 M1265.5,1366 V1365.0 M1269.5,1366 V1364.0 M1270.5,1366 V1359.4 M1275.5,1366 V1365.2 M1276.5,1366 V1364.8 M1278.5,1366 V1362.6 M1279.5,1366 V1361.8 M1281.5,1366 V1362.0 M1283.5,1366 V1361.7 M1284.5,1366 V1365.3 M1287.5,1366 V1364.7 M1288.5,1366 V1361.3 M1292.5,1366 V1364.6 M1293.5,1366 V1363.8 M1299.5,1366 V1364.7 M1300.5,1366 V1365.5 M1301.5,1366 V1365.3 M1302.5,1366 V1365.4 M1303.5,1366 V1365.2 M1309.5,1366 V1364.5 M1311.5,1366 V1364.3 M1312.5,1366 V1363.9 M1315.5,1366 V1359.1 M1318.5,1366 V1364.7 M1320.5,1366 V1361.7 M1321.5,1366 V1365.4 M1333.5,1366 V1365.0 M1343.5,1366 V1365.4 M1344.5,1366 V1361.3 M1345.5,1366 V1363.7 M1346.5,1366 V1362.3 M1348.5,1366 V1363.7 M1350.5,1366 V1365.2 M1352.5,1366 V1360.1 M1357.5,1366 V1364.4 M1361.5,1366 V1364.7 M1362.5,1366 V1364.8 M1367.5,1366 V1364.5 M1373.5,1366 V1363.9 M1375.5,1366 V1365.1 M1377.5,1366 V1364.5 M1378.5,1366 V1365.3 M1382.5,1366 V1364.8 M1391.5,1366 V1365.3 M1394.5,1366 V1364.7 M1395.5,1366 V1364.1 M1396.5,1366 V1364.8 M1397.5,1366 V1364.4 M1407.5,1366 V1364.7 M1408.5,1366 V1359.6 M1415.5,1366 V1364.9 M1418.5,1366 V1361.2 M1421.5,1366 V1365.2 M1422.5,1366 V1365.2 M1423.5,1366 V1363.8 M1426.5,1366 V1365.3 M1429.5,1366 V1364.9 M1433.5,1366 V1365.0 M1434.5,1366 V1362.4 M1438.5,1366 V1361.5 M1448.5,1366 V1364.8 M1452.5,1366 V1364.6 M1453.5,1366 V1359.0 M1454.5,1366 V1365.0 M1456.5,1366 V1365.3 M1458.5,1366 V1360.9 M1461.5,1366 V1363.5 M1463.5,1366 V1362.0 M1465.5,1366 V1365.4 M1466.5,1366 V1364.0 M1470.5,1366 V1363.8 M1474.5,1366 V1362.2 M1475.5,1366 V1364.8 M1479.5,1366 V1363.8 M1485.5,1366 V1363.8 M1486.5,1366 V1365.1 M1489.5,1366 V1364.6 M1490.5,1366 V1364.1 M1493.5,1366 V1365.4 M1494.5,1366 V1365.0 M1504.5,1366 V1363.4 M1506.5,1366 V1360.4 M1507.5,1366 V1365.2 M1508.5,1366 V1363.8 M1511.5,1366 V1365.0 M1512.5,1366 V1364.4 M1513.5,1366 V1364.2 M1514.5,1366 V1365.3 M1517.5,1366 V1365.1 M1522.5,1366 V1365.3 M1525.5,1366 V1365.1 M1530.5,1366 V1365.4 M1531.5,1366 V1353.8 M1533.5,1366 V1356.5 M1534.5,1366 V1364.9 M1538.5,1366 V1362.1 M1540.5,1366 V1357.9 M1541.5,1366 V1364.1 M1542.5,1366 V1364.9 M1548.5,1366 V1351.6 M1550.5,1366 V1355.8 M1554.5,1366 V1364.2 M1555.5,1366 V1360.6 M1559.5,1366 V1363.7 M1563.5,1366 V1363.7 M1564.5,1366 V1363.0 M1565.5,1366 V1355.5 M1575.5,1366 V1359.7 M1581.5,1366 V1362.1 M1583.5,1366 V1364.9 M1586.5,1366 V1362.1 M1590.5,1366 V1361.4 M1593.5,1366 V1364.7 M1594.5,1366 V1364.6 M1596.5,1366 V1364.9 M1598.5,1366 V1362.2 M1604.5,1366 V1363.8 M1605.5,1366 V1365.1 M1607.5,1366 V1365.4 M1608.5,1366 V1360.1 M1610.5,1366 V1365.3 M1614.5,1366 V1364.5 M1616.5,1366 V1360.7 M1617.5,1366 V1362.8 M1629.5,1366 V1361.0 M1630.5,1366 V1365.1 M1631.5,1366 V1364.8 M1634.5,1366 V1362.4 M1636.5,1366 V1363.1 M1638.5,1366 V1351.3 M1641.5,1366 V1362.9 M1642.5,1366 V1353.1 M1644.5,1366 V1354.0 M1646.5,1366 V1361.9 M1648.5,1366 V1365.3 M1649.5,1366 V1360.6 M1650.5,1366 V1358.4 M1653.5,1366 V1360.6 M1655.5,1366 V1359.2 M1656.5,1366 V1361.8 M1658.5,1366 V1359.0 M1659.5,1366 V1363.3 M1666.5,1366 V1361.6 M1667.5,1366 V1365.1 M1671.5,1366 V1364.3 M1672.5,1366 V1352.2 M1673.5,1366 V1364.0 M1675.5,1366 V1355.8 M1677.5,1366 V1350.4 M1678.5,1366 V1356.3 M1680.5,1366 V1364.8 M1684.5,1366 V1360.6 M1685.5,1366 V1355.1 M1687.5,1366 V1360.9 M1689.5,1366 V1362.5 M1690.5,1366 V1357.9 M1692.5,1366 V1347.2 M1694.5,1366 V1362.7 M1694.5,1366 V1365.3 M1696.5,1366 V1360.8 M1702.5,1366 V1364.1 M1705.5,1366 V1341.5 M1709.5,1366 V1357.8 M1710.5,1366 V1357.1 M1717.5,1366 V1363.2 M1721.5,1366 V1362.1 M1724.5,1366 V1364.1 M1725.5,1366 V1364.1 M1728.5,1366 V1360.2 M1730.5,1366 V1363.7 M1733.5,1366 V1364.0 M1737.5,1366 V1359.2 M1739.5,1366 V1363.2 M1741.5,1366 V1360.8 M1742.5,1366 V1361.4 M1743.5,1366 V1361.4 M1743.5,1366 V1362.0 M1752.5,1366 V1359.3 M1753.5,1366 V1363.4 M1756.5,1366 V1362.1 M1757.5,1366 V1355.5 M1759.5,1366 V1345.8 M1762.5,1366 V1365.4 M1764.5,1366 V1358.3 M1768.5,1366 V1358.0 M1772.5,1366 V1361.0 M1773.5,1366 V1364.8 M1774.5,1366 V1355.1 M1776.5,1366 V1360.5 M1779.5,1366 V1363.7 M1784.5,1366 V1357.4 M1785.5,1366 V1360.6 M1792.5,1366 V1358.4 M1792.5,1366 V1357.0 M1793.5,1366 V1365.4 M1794.5,1366 V1362.4 M1797.5,1366 V1362.6 M1799.5,1366 V1363.5 M1802.5,1366 V1364.2 M1804.5,1366 V1363.1" stroke="#8fb35a" stroke-width="1" fill="none"/>
<path d="M67.5,1365.5 V1366.3 M75.5,1365.5 V1366.0 M76.5,1365.5 V1367.4 M77.5,1365.5 V1366.6 M81.5,1365.5 V1367.4 M83.5,1365.5 V1367.6 M87.5,1365.5 V1366.9 M118.5,1365.5 V1367.4 M132.5,1365.5 V1366.4 M133.5,1365.5 V1366.1 M141.5,1365.5 V1367.1 M142.5,1365.5 V1366.0 M144.5,1365.5 V1367.4 M159.5,1365.5 V1366.3 M162.5,1365.5 V1367.5 M165.5,1365.5 V1366.0 M180.5,1365.5 V1367.7 M196.5,1365.5 V1366.2 M201.5,1365.5 V1367.5 M213.5,1365.5 V1367.0 M240.5,1365.5 V1368.0 M255.5,1365.5 V1366.0 M265.5,1365.5 V1366.1 M266.5,1365.5 V1368.1 M271.5,1365.5 V1366.0 M276.5,1365.5 V1367.0 M280.5,1365.5 V1366.4 M288.5,1365.5 V1366.3 M291.5,1365.5 V1366.1 M292.5,1365.5 V1366.8 M305.5,1365.5 V1366.3 M314.5,1365.5 V1366.7 M320.5,1365.5 V1366.1 M322.5,1365.5 V1366.4 M323.5,1365.5 V1368.2 M324.5,1365.5 V1366.5 M328.5,1365.5 V1366.5 M330.5,1365.5 V1368.4 M336.5,1365.5 V1366.1 M341.5,1365.5 V1366.5 M348.5,1365.5 V1366.2 M350.5,1365.5 V1367.0 M354.5,1365.5 V1366.0 M359.5,1365.5 V1368.5 M361.5,1365.5 V1367.2 M362.5,1365.5 V1369.6 M364.5,1365.5 V1366.2 M368.5,1365.5 V1367.6 M369.5,1365.5 V1366.6 M370.5,1365.5 V1367.6 M371.5,1365.5 V1367.7 M377.5,1365.5 V1366.2 M380.5,1365.5 V1369.2 M381.5,1365.5 V1376.3 M386.5,1365.5 V1366.3 M387.5,1365.5 V1366.6 M389.5,1365.5 V1367.0 M390.5,1365.5 V1368.4 M391.5,1365.5 V1369.5 M392.5,1365.5 V1368.0 M398.5,1365.5 V1366.9 M401.5,1365.5 V1368.5 M402.5,1365.5 V1366.9 M410.5,1365.5 V1367.8 M411.5,1365.5 V1370.3 M412.5,1365.5 V1369.8 M419.5,1365.5 V1366.2 M424.5,1365.5 V1370.3 M425.5,1365.5 V1375.5 M427.5,1365.5 V1384.6 M429.5,1365.5 V1366.4 M431.5,1365.5 V1368.4 M432.5,1365.5 V1372.5 M433.5,1365.5 V1370.8 M434.5,1365.5 V1368.4 M435.5,1365.5 V1376.0 M440.5,1365.5 V1369.0 M441.5,1365.5 V1368.6 M442.5,1365.5 V1376.6 M447.5,1365.5 V1374.8 M453.5,1365.5 V1366.1 M454.5,1365.5 V1371.6 M457.5,1365.5 V1366.2 M459.5,1365.5 V1378.8 M462.5,1365.5 V1366.5 M471.5,1365.5 V1366.9 M476.5,1365.5 V1368.9 M479.5,1365.5 V1370.7 M485.5,1365.5 V1375.2 M489.5,1365.5 V1371.8 M490.5,1365.5 V1370.9 M492.5,1365.5 V1375.0 M493.5,1365.5 V1366.8 M495.5,1365.5 V1367.7 M496.5,1365.5 V1368.8 M497.5,1365.5 V1368.5 M498.5,1365.5 V1382.1 M499.5,1365.5 V1371.4 M502.5,1365.5 V1367.8 M503.5,1365.5 V1378.5 M507.5,1365.5 V1366.2 M509.5,1365.5 V1370.6 M512.5,1365.5 V1367.3 M519.5,1365.5 V1368.2 M522.5,1365.5 V1373.5 M527.5,1365.5 V1366.3 M531.5,1365.5 V1371.2 M532.5,1365.5 V1373.9 M533.5,1365.5 V1370.8 M534.5,1365.5 V1372.4 M535.5,1365.5 V1367.1 M538.5,1365.5 V1371.4 M540.5,1365.5 V1373.4 M544.5,1365.5 V1368.9 M545.5,1365.5 V1375.6 M547.5,1365.5 V1366.1 M548.5,1365.5 V1369.2 M550.5,1365.5 V1375.4 M552.5,1365.5 V1369.3 M554.5,1365.5 V1366.9 M561.5,1365.5 V1370.4 M562.5,1365.5 V1367.3 M567.5,1365.5 V1370.8 M567.5,1365.5 V1368.1 M573.5,1365.5 V1367.8 M581.5,1365.5 V1370.1 M582.5,1365.5 V1368.9 M585.5,1365.5 V1367.1 M587.5,1365.5 V1369.1 M589.5,1365.5 V1370.8 M592.5,1365.5 V1366.8 M593.5,1365.5 V1367.3 M594.5,1365.5 V1385.6 M595.5,1365.5 V1368.3 M596.5,1365.5 V1367.4 M597.5,1365.5 V1379.3 M598.5,1365.5 V1367.9 M599.5,1365.5 V1375.2 M602.5,1365.5 V1382.2 M604.5,1365.5 V1375.4 M607.5,1365.5 V1367.5 M612.5,1365.5 V1367.6 M621.5,1365.5 V1373.9 M624.5,1365.5 V1373.2 M626.5,1365.5 V1367.4 M627.5,1365.5 V1367.2 M628.5,1365.5 V1374.8 M629.5,1365.5 V1373.2 M631.5,1365.5 V1367.4 M633.5,1365.5 V1374.7 M635.5,1365.5 V1381.4 M636.5,1365.5 V1367.4 M637.5,1365.5 V1367.2 M648.5,1365.5 V1366.2 M649.5,1365.5 V1369.1 M652.5,1365.5 V1367.5 M654.5,1365.5 V1366.9 M655.5,1365.5 V1367.2 M656.5,1365.5 V1384.3 M661.5,1365.5 V1372.4 M665.5,1365.5 V1368.1 M666.5,1365.5 V1369.2 M668.5,1365.5 V1373.2 M670.5,1365.5 V1368.2 M671.5,1365.5 V1367.3 M678.5,1365.5 V1371.7 M681.5,1365.5 V1368.2 M688.5,1365.5 V1370.2 M693.5,1365.5 V1371.8 M696.5,1365.5 V1368.7 M698.5,1365.5 V1369.4 M700.5,1365.5 V1368.6 M701.5,1365.5 V1366.8 M704.5,1365.5 V1367.9 M706.5,1365.5 V1366.5 M707.5,1365.5 V1376.2 M708.5,1365.5 V1367.9 M710.5,1365.5 V1366.0 M718.5,1365.5 V1366.2 M722.5,1365.5 V1367.3 M725.5,1365.5 V1368.2 M728.5,1365.5 V1369.8 M730.5,1365.5 V1366.2 M731.5,1365.5 V1376.3 M733.5,1365.5 V1367.2 M734.5,1365.5 V1376.6 M736.5,1365.5 V1368.2 M737.5,1365.5 V1369.0 M738.5,1365.5 V1368.6 M740.5,1365.5 V1367.9 M742.5,1365.5 V1369.1 M743.5,1365.5 V1367.1 M746.5,1365.5 V1375.9 M747.5,1365.5 V1367.4 M748.5,1365.5 V1371.8 M750.5,1365.5 V1372.9 M752.5,1365.5 V1369.9 M754.5,1365.5 V1382.3 M759.5,1365.5 V1373.4 M762.5,1365.5 V1368.2 M763.5,1365.5 V1369.5 M766.5,1365.5 V1369.6 M767.5,1365.5 V1366.1 M771.5,1365.5 V1373.8 M774.5,1365.5 V1367.4 M782.5,1365.5 V1368.3 M785.5,1365.5 V1369.7 M788.5,1365.5 V1366.1 M789.5,1365.5 V1366.1 M795.5,1365.5 V1377.2 M797.5,1365.5 V1369.6 M799.5,1365.5 V1368.2 M801.5,1365.5 V1367.7 M803.5,1365.5 V1368.6 M806.5,1365.5 V1366.3 M807.5,1365.5 V1366.7 M811.5,1365.5 V1367.3 M814.5,1365.5 V1372.0 M816.5,1365.5 V1366.3 M817.5,1365.5 V1368.0 M822.5,1365.5 V1366.0 M825.5,1365.5 V1376.4 M829.5,1365.5 V1367.9 M830.5,1365.5 V1366.4 M832.5,1365.5 V1366.1 M833.5,1365.5 V1368.6 M836.5,1365.5 V1366.8 M837.5,1365.5 V1381.5 M838.5,1365.5 V1366.7 M839.5,1365.5 V1366.1 M840.5,1365.5 V1366.5 M842.5,1365.5 V1376.0 M858.5,1365.5 V1373.0 M862.5,1365.5 V1378.2 M863.5,1365.5 V1367.5 M868.5,1365.5 V1370.4 M875.5,1365.5 V1366.6 M877.5,1365.5 V1373.4 M878.5,1365.5 V1369.5 M880.5,1365.5 V1366.4 M882.5,1365.5 V1369.8 M884.5,1365.5 V1366.3 M886.5,1365.5 V1366.4 M889.5,1365.5 V1368.3 M897.5,1365.5 V1366.5 M900.5,1365.5 V1366.4 M901.5,1365.5 V1370.7 M904.5,1365.5 V1366.0 M908.5,1365.5 V1367.3 M909.5,1365.5 V1369.9 M912.5,1365.5 V1368.6 M913.5,1365.5 V1368.1 M918.5,1365.5 V1368.5 M923.5,1365.5 V1366.6 M924.5,1365.5 V1368.9 M936.5,1365.5 V1371.2 M937.5,1365.5 V1366.8 M938.5,1365.5 V1366.9 M940.5,1365.5 V1366.6 M942.5,1365.5 V1366.1 M944.5,1365.5 V1366.3 M952.5,1365.5 V1368.1 M953.5,1365.5 V1367.1 M958.5,1365.5 V1368.1 M959.5,1365.5 V1367.8 M959.5,1365.5 V1366.3 M963.5,1365.5 V1366.8 M968.5,1365.5 V1367.0 M973.5,1365.5 V1367.3 M976.5,1365.5 V1367.1 M978.5,1365.5 V1369.1 M988.5,1365.5 V1366.7 M990.5,1365.5 V1366.2 M993.5,1365.5 V1371.0 M997.5,1365.5 V1366.2 M1001.5,1365.5 V1367.0 M1003.5,1365.5 V1366.9 M1004.5,1365.5 V1366.5 M1011.5,1365.5 V1367.1 M1026.5,1365.5 V1368.2 M1027.5,1365.5 V1368.2 M1028.5,1365.5 V1367.9 M1036.5,1365.5 V1366.0 M1038.5,1365.5 V1367.6 M1039.5,1365.5 V1368.8 M1041.5,1365.5 V1367.1 M1042.5,1365.5 V1366.2 M1043.5,1365.5 V1366.2 M1044.5,1365.5 V1367.5 M1047.5,1365.5 V1366.7 M1057.5,1365.5 V1366.2 M1065.5,1365.5 V1367.0 M1068.5,1365.5 V1368.1 M1072.5,1365.5 V1368.2 M1075.5,1365.5 V1367.7 M1078.5,1365.5 V1367.8 M1080.5,1365.5 V1366.5 M1084.5,1365.5 V1366.6 M1090.5,1365.5 V1366.0 M1093.5,1365.5 V1366.5 M1097.5,1365.5 V1366.8 M1099.5,1365.5 V1366.3 M1101.5,1365.5 V1366.5 M1104.5,1365.5 V1366.4 M1106.5,1365.5 V1366.4 M1109.5,1365.5 V1367.4 M1115.5,1365.5 V1366.5 M1121.5,1365.5 V1367.0 M1124.5,1365.5 V1368.3 M1126.5,1365.5 V1366.2 M1128.5,1365.5 V1367.4 M1146.5,1365.5 V1366.6 M1148.5,1365.5 V1366.6 M1152.5,1365.5 V1366.4 M1161.5,1365.5 V1370.9 M1164.5,1365.5 V1367.1 M1166.5,1365.5 V1366.9 M1168.5,1365.5 V1366.2 M1170.5,1365.5 V1366.8 M1172.5,1365.5 V1371.0 M1177.5,1365.5 V1366.1 M1178.5,1365.5 V1368.6 M1180.5,1365.5 V1366.6 M1181.5,1365.5 V1367.2 M1193.5,1365.5 V1369.0 M1197.5,1365.5 V1366.9 M1200.5,1365.5 V1368.1 M1203.5,1365.5 V1366.4 M1204.5,1365.5 V1367.7 M1204.5,1365.5 V1366.6 M1206.5,1365.5 V1370.0 M1208.5,1365.5 V1366.4 M1213.5,1365.5 V1369.3 M1215.5,1365.5 V1368.1 M1231.5,1365.5 V1366.6 M1233.5,1365.5 V1366.9 M1234.5,1365.5 V1366.7 M1237.5,1365.5 V1366.5 M1238.5,1365.5 V1368.1 M1239.5,1365.5 V1369.9 M1241.5,1365.5 V1366.9 M1246.5,1365.5 V1366.2 M1247.5,1365.5 V1366.5 M1249.5,1365.5 V1369.3 M1251.5,1365.5 V1367.7 M1253.5,1365.5 V1366.8 M1255.5,1365.5 V1368.3 M1258.5,1365.5 V1366.0 M1267.5,1365.5 V1367.2 M1268.5,1365.5 V1367.1 M1274.5,1365.5 V1366.7 M1285.5,1365.5 V1368.6 M1298.5,1365.5 V1370.2 M1306.5,1365.5 V1366.1 M1307.5,1365.5 V1368.2 M1322.5,1365.5 V1367.9 M1323.5,1365.5 V1366.5 M1329.5,1365.5 V1368.2 M1330.5,1365.5 V1366.1 M1336.5,1365.5 V1366.8 M1338.5,1365.5 V1366.2 M1340.5,1365.5 V1366.5 M1341.5,1365.5 V1366.9 M1342.5,1365.5 V1366.9 M1347.5,1365.5 V1368.0 M1351.5,1365.5 V1367.0 M1351.5,1365.5 V1366.1 M1353.5,1365.5 V1367.6 M1355.5,1365.5 V1366.2 M1356.5,1365.5 V1367.9 M1359.5,1365.5 V1366.8 M1360.5,1365.5 V1366.8 M1363.5,1365.5 V1367.6 M1369.5,1365.5 V1366.2 M1372.5,1365.5 V1366.5 M1374.5,1365.5 V1366.4 M1376.5,1365.5 V1366.1 M1381.5,1365.5 V1366.3 M1386.5,1365.5 V1366.4 M1388.5,1365.5 V1367.4 M1400.5,1365.5 V1368.2 M1402.5,1365.5 V1368.0 M1404.5,1365.5 V1366.1 M1405.5,1365.5 V1368.6 M1409.5,1365.5 V1368.1 M1412.5,1365.5 V1366.1 M1414.5,1365.5 V1366.6 M1416.5,1365.5 V1370.4 M1419.5,1365.5 V1366.3 M1420.5,1365.5 V1366.2 M1424.5,1365.5 V1367.1 M1425.5,1365.5 V1366.1 M1430.5,1365.5 V1372.1 M1431.5,1365.5 V1374.8 M1435.5,1365.5 V1367.2 M1436.5,1365.5 V1366.2 M1437.5,1365.5 V1368.2 M1439.5,1365.5 V1367.6 M1440.5,1365.5 V1367.2 M1442.5,1365.5 V1367.0 M1443.5,1365.5 V1366.1 M1444.5,1365.5 V1366.3 M1445.5,1365.5 V1370.1 M1446.5,1365.5 V1368.0 M1447.5,1365.5 V1366.2 M1449.5,1365.5 V1366.4 M1450.5,1365.5 V1366.6 M1457.5,1365.5 V1371.6 M1459.5,1365.5 V1366.4 M1460.5,1365.5 V1369.3 M1462.5,1365.5 V1368.5 M1469.5,1365.5 V1366.5 M1476.5,1365.5 V1367.2 M1477.5,1365.5 V1366.1 M1478.5,1365.5 V1366.3 M1481.5,1365.5 V1366.3 M1483.5,1365.5 V1366.2 M1484.5,1365.5 V1366.8 M1487.5,1365.5 V1367.7 M1488.5,1365.5 V1369.7 M1492.5,1365.5 V1366.4 M1495.5,1365.5 V1366.3 M1498.5,1365.5 V1366.8 M1498.5,1365.5 V1367.8 M1500.5,1365.5 V1366.2 M1501.5,1365.5 V1375.2 M1502.5,1365.5 V1366.2 M1505.5,1365.5 V1366.2 M1516.5,1365.5 V1372.2 M1519.5,1365.5 V1366.1 M1520.5,1365.5 V1366.1 M1523.5,1365.5 V1366.7 M1524.5,1365.5 V1373.2 M1526.5,1365.5 V1375.7 M1527.5,1365.5 V1371.6 M1536.5,1365.5 V1370.8 M1537.5,1365.5 V1367.0 M1539.5,1365.5 V1367.4 M1544.5,1365.5 V1366.3 M1547.5,1365.5 V1371.0 M1547.5,1365.5 V1371.1 M1551.5,1365.5 V1370.1 M1552.5,1365.5 V1366.3 M1553.5,1365.5 V1374.4 M1557.5,1365.5 V1380.2 M1558.5,1365.5 V1366.3 M1560.5,1365.5 V1368.3 M1561.5,1365.5 V1367.1 M1562.5,1365.5 V1373.4 M1569.5,1365.5 V1386.5 M1571.5,1365.5 V1368.5 M1572.5,1365.5 V1366.3 M1577.5,1365.5 V1369.0 M1579.5,1365.5 V1367.6 M1580.5,1365.5 V1370.8 M1584.5,1365.5 V1374.1 M1585.5,1365.5 V1368.2 M1587.5,1365.5 V1367.2 M1588.5,1365.5 V1366.8 M1589.5,1365.5 V1366.8 M1591.5,1365.5 V1376.3 M1595.5,1365.5 V1371.0 M1596.5,1365.5 V1366.5 M1599.5,1365.5 V1368.0 M1600.5,1365.5 V1366.1 M1601.5,1365.5 V1386.6 M1602.5,1365.5 V1370.1 M1603.5,1365.5 V1369.6 M1606.5,1365.5 V1369.9 M1609.5,1365.5 V1367.9 M1611.5,1365.5 V1368.4 M1612.5,1365.5 V1368.3 M1613.5,1365.5 V1366.0 M1618.5,1365.5 V1370.6 M1619.5,1365.5 V1368.5 M1621.5,1365.5 V1385.7 M1624.5,1365.5 V1366.4 M1625.5,1365.5 V1369.3 M1626.5,1365.5 V1370.2 M1627.5,1365.5 V1375.5 M1633.5,1365.5 V1366.8 M1635.5,1365.5 V1377.9 M1637.5,1365.5 V1368.1 M1640.5,1365.5 V1372.4 M1643.5,1365.5 V1368.0 M1645.5,1365.5 V1386.5 M1645.5,1365.5 V1367.8 M1654.5,1365.5 V1371.2 M1657.5,1365.5 V1386.4 M1660.5,1365.5 V1371.9 M1664.5,1365.5 V1366.1 M1668.5,1365.5 V1366.7 M1674.5,1365.5 V1374.1 M1676.5,1365.5 V1368.6 M1679.5,1365.5 V1387.1 M1682.5,1365.5 V1367.1 M1683.5,1365.5 V1366.1 M1686.5,1365.5 V1367.2 M1691.5,1365.5 V1375.2 M1693.5,1365.5 V1368.5 M1697.5,1365.5 V1387.2 M1699.5,1365.5 V1366.4 M1700.5,1365.5 V1366.0 M1704.5,1365.5 V1366.6 M1706.5,1365.5 V1366.6 M1707.5,1365.5 V1366.4 M1714.5,1365.5 V1369.7 M1715.5,1365.5 V1370.8 M1719.5,1365.5 V1367.3 M1720.5,1365.5 V1371.0 M1722.5,1365.5 V1379.8 M1726.5,1365.5 V1373.0 M1727.5,1365.5 V1366.1 M1731.5,1365.5 V1368.2 M1732.5,1365.5 V1367.3 M1738.5,1365.5 V1368.2 M1740.5,1365.5 V1366.7 M1745.5,1365.5 V1369.1 M1749.5,1365.5 V1370.8 M1750.5,1365.5 V1368.7 M1760.5,1365.5 V1366.3 M1761.5,1365.5 V1369.1 M1763.5,1365.5 V1366.5 M1765.5,1365.5 V1371.9 M1766.5,1365.5 V1366.8 M1769.5,1365.5 V1367.8 M1770.5,1365.5 V1371.0 M1771.5,1365.5 V1367.6 M1777.5,1365.5 V1376.6 M1780.5,1365.5 V1370.8 M1781.5,1365.5 V1370.5 M1782.5,1365.5 V1374.8 M1783.5,1365.5 V1368.6 M1786.5,1365.5 V1368.7 M1788.5,1365.5 V1369.8 M1789.5,1365.5 V1366.9 M1791.5,1365.5 V1369.9 M1796.5,1365.5 V1369.4 M1798.5,1365.5 V1367.1 M1803.5,1365.5 V1373.9" stroke="#6b5596" stroke-width="1" fill="none"/>
<path d="M110.5,1365.5 V1351 M436.5,1365.5 V1339 M455.5,1365.5 V1343 M1775.5,1365.5 V1336 M1747.5,1365.5 V1342 M1591.5,1365.5 V1344 M1553.5,1365.5 V1351" stroke="#8fb35a" stroke-width="1"/>
<path d="M527.5,1366 V1390 M501.5,1366 V1389 M547.5,1366 V1386 M1702.5,1366 V1393 M1533.5,1366 V1385 M1606.5,1366 V1383 M1062.5,1366 V1376" stroke="#6b5596" stroke-width="1"/>
<rect x="52" y="1428" width="55" height="15" fill="#f7b985"/>
<rect x="157" y="1428" width="826" height="15" fill="#f7b985"/>
<rect x="1055" y="1428" width="8" height="15" fill="#f7b985"/>
<rect x="1126" y="1428" width="464" height="15" fill="#f7b985"/>
<rect x="1607" y="1428" width="199" height="15" fill="#f7b985"/>
<rect x="107" y="1443" width="50" height="14" fill="#a0a1ea"/>
<rect x="983" y="1443" width="72" height="14" fill="#a0a1ea"/>
<rect x="1063" y="1443" width="63" height="14" fill="#a0a1ea"/>
<rect x="1590" y="1443" width="17" height="14" fill="#a0a1ea"/>
<path d="M30,1443.3 H1806" stroke="#3d8fd6" stroke-width="2"/>
<path d="M107.2,1414 V1443 M157.3,1414 V1443 M982.8,1414 V1443 M1055.2,1414 V1443 M1062.8,1414 V1443 M1126.2,1414 V1443 M1590.6,1414 V1443 M1607.2,1414 V1443 M52.5,1428 V1443" stroke="#90ed7d" stroke-width="1"/>
<path d="M30,1555.3 H52.5 V1548.5 L982.5,1549.2 V1537.6 L1055,1538.2 V1538.8 H1062.5 V1541.2 L1126,1541 V1538 L1590.5,1537.8 V1504 H1607 V1496.6 L1806,1496.3" stroke="#7d6c2e" stroke-width="1.6" fill="none"/>
<path d="M38.3,1556 V1566 M216.0,1556 V1566 M396.0,1556 V1566 M574.0,1556 V1566 M754.0,1556 V1566 M932.0,1556 V1566 M1111.0,1556 V1566 M1288.5,1556 V1566 M1468.0,1556 V1566 M1647.0,1556 V1566" stroke="#ccd6eb" stroke-width="1"/>
<rect x="29" y="1602.3" width="1777" height="20" fill="#c5d1e5"/>
<path d="M39.8,1602.5 V1622 M217.5,1602.5 V1622 M397.5,1602.5 V1622 M575.5,1602.5 V1622 M755.5,1602.5 V1622 M933.5,1602.5 V1622 M1112.5,1602.5 V1622 M1290.0,1602.5 V1622 M1469.5,1602.5 V1622 M1648.5,1602.5 V1622" stroke="#b8c5dc" stroke-width="1"/>
<path d="M29,1602.5 H1806 M29,1622.5 H1806" stroke="#c0cde2" stroke-width="1"/>
<rect x="25.5" y="1604.5" width="8" height="15.5" rx="1" fill="#f2f2f2" stroke="#999" stroke-width="1"/>
<path d="M28.3,1608 V1616.5 M30.7,1608 V1616.5" stroke="#777" stroke-width="1"/>
<rect x="1801.5" y="1604.5" width="8" height="15.5" rx="1" fill="#f2f2f2" stroke="#999" stroke-width="1"/>
<path d="M1804.3,1608 V1616.5 M1806.7,1608 V1616.5" stroke="#777" stroke-width="1"/>
</svg>
<div class="t" style="left:-576.0px;width:3000px;text-align:center;top:1099.9px;font-size:15.5px;color:#555;font-weight:normal;">Initial net value : 50000 Total profit: 79.460 %, Annualized returns (365 days) : 15.997 %, Sharpe ratio : 0.014, Volatility : 9.487 %, Maximum drawdown : 61.785 %</div>
<div class="t" style="left:1727.4px;top:1104.2px;font-size:12.2px;color:#333;font-weight:normal;">FullScreen</div>
<svg width="20" height="16" style="left:1797px;top:1101px"><path d="M3,2.5 H17 M3,7.5 H17 M3,12.5 H17" stroke="#666" stroke-width="2.8" stroke-linecap="round"/></svg>
<div class="t" style="left:30.1px;top:1134.4px;font-size:12.5px;color:#666;font-weight:normal;">Zoom</div>
<div class="r" style="left:68px;top:1129.4px;width:32px;height:21.2px;background:#f7f7f7;border-radius:2px"></div>
<div class="t" style="left:-1416.0px;width:3000px;text-align:center;top:1134.4px;font-size:12.5px;color:#cccccc;font-weight:normal;">1h</div>
<div class="r" style="left:105.2px;top:1129.4px;width:32px;height:21.2px;background:#f7f7f7;border-radius:2px"></div>
<div class="t" style="left:-1378.8px;width:3000px;text-align:center;top:1134.4px;font-size:12.5px;color:#cccccc;font-weight:normal;">3h</div>
<div class="r" style="left:142px;top:1129.4px;width:32px;height:21.2px;background:#f7f7f7;border-radius:2px"></div>
<div class="t" style="left:-1342.0px;width:3000px;text-align:center;top:1134.4px;font-size:12.5px;color:#cccccc;font-weight:normal;">8h</div>
<div class="r" style="left:179px;top:1129.4px;width:32px;height:21.2px;background:#f7f7f7;border-radius:2px"></div>
<div class="t" style="left:-1305.0px;width:3000px;text-align:center;top:1134.4px;font-size:12.5px;color:#cccccc;font-weight:normal;">12h</div>
<div class="r" style="left:216px;top:1129.4px;width:32px;height:21.2px;background:#f7f7f7;border-radius:2px"></div>
<div class="t" style="left:-1268.0px;width:3000px;text-align:center;top:1134.4px;font-size:12.5px;color:#cccccc;font-weight:normal;">24h</div>
<div class="r" style="left:253px;top:1129.4px;width:32px;height:21.2px;background:#e6ebf5;border-radius:2px"></div>
<div class="t" style="left:-1231.0px;width:3000px;text-align:center;top:1134.4px;font-size:12.5px;color:#000;font-weight:bold;">All</div>
<div class="t" style="left:802.0px;width:1000px;text-align:right;top:1173.3px;font-size:12px;color:#666;font-weight:normal;">40k</div>
<div class="t" style="left:802.0px;width:1000px;text-align:right;top:1196.1px;font-size:12px;color:#666;font-weight:normal;">30k</div>
<div class="t" style="left:802.0px;width:1000px;text-align:right;top:1218.8px;font-size:12px;color:#666;font-weight:normal;">20k</div>
<div class="t" style="left:802.0px;width:1000px;text-align:right;top:1241.6px;font-size:12px;color:#666;font-weight:normal;">10k</div>
<div class="t" style="left:802.0px;width:1000px;text-align:right;top:1262.8px;font-size:12px;color:#666;font-weight:normal;">0</div>
<div class="t" style="left:802.0px;width:1000px;text-align:right;top:1286.3px;font-size:12px;color:#666;font-weight:normal;">&minus;10k</div>
<div class="t" style="left:802.0px;width:1000px;text-align:right;top:1308.3px;font-size:12px;color:#666;font-weight:normal;">&minus;20k</div>
<div class="t" style="left:802.0px;width:1000px;text-align:right;top:1387.8px;font-size:12px;color:#666;font-weight:normal;">&minus;10k</div>
<div class="t" style="left:802.0px;width:1000px;text-align:right;top:1465.4px;font-size:12px;color:#666;font-weight:normal;">&minus;2.4</div>
<div class="t" style="left:802.0px;width:1000px;text-align:right;top:1543.8px;font-size:12px;color:#666;font-weight:normal;">0</div>
<div class="t" style="left:1720.0px;top:1235.6px;width:200px;text-align:center;font-size:12.5px;color:#666;transform:rotate(90deg);transform-origin:100px 7px;">PnL</div>
<div class="t" style="left:1720.0px;top:1358.0px;width:200px;text-align:center;font-size:12.5px;color:#666;transform:rotate(90deg);transform-origin:100px 7px;">Period P&amp;L</div>
<div class="t" style="left:1720.0px;top:1435.4px;width:200px;text-align:center;font-size:12.5px;color:#666;transform:rotate(90deg);transform-origin:100px 7px;">vol/position</div>
<div class="t" style="left:1720.0px;top:1513.0px;width:200px;text-align:center;font-size:12.5px;color:#666;transform:rotate(90deg);transform-origin:100px 7px;">utilization</div>
<div class="t" style="left:30.0px;top:1565.3px;font-size:11.5px;color:#666;font-weight:normal;">Jan &#39;20</div>
<div class="t" style="left:-1283.3px;width:3000px;text-align:center;top:1565.3px;font-size:11.5px;color:#666;font-weight:normal;">Jul &#39;20</div>
<div class="t" style="left:-1103.2px;width:3000px;text-align:center;top:1565.3px;font-size:11.5px;color:#666;font-weight:normal;">Jan &#39;21</div>
<div class="t" style="left:-926.0px;width:3000px;text-align:center;top:1565.3px;font-size:11.5px;color:#666;font-weight:normal;">Jul &#39;21</div>
<div class="t" style="left:-745.5px;width:3000px;text-align:center;top:1565.3px;font-size:11.5px;color:#666;font-weight:normal;">Jan &#39;22</div>
<div class="t" style="left:-568.0px;width:3000px;text-align:center;top:1565.3px;font-size:11.5px;color:#666;font-weight:normal;">Jul &#39;22</div>
<div class="t" style="left:-388.5px;width:3000px;text-align:center;top:1565.3px;font-size:11.5px;color:#666;font-weight:normal;">Jan &#39;23</div>
<div class="t" style="left:-211.3px;width:3000px;text-align:center;top:1565.3px;font-size:11.5px;color:#666;font-weight:normal;">Jul &#39;23</div>
<div class="t" style="left:-31.0px;width:3000px;text-align:center;top:1565.3px;font-size:11.5px;color:#666;font-weight:normal;">Jan &#39;24</div>
<div class="t" style="left:147.0px;width:3000px;text-align:center;top:1565.3px;font-size:11.5px;color:#666;font-weight:normal;">Jul &#39;24</div>
<div class="t" style="left:41.8px;top:1608.3px;font-size:11.5px;color:#a9b3c5;font-weight:normal;">Jan &#39;20</div>
<div class="t" style="left:219.5px;top:1608.3px;font-size:11.5px;color:#a9b3c5;font-weight:normal;">Jul &#39;20</div>
<div class="t" style="left:399.5px;top:1608.3px;font-size:11.5px;color:#a9b3c5;font-weight:normal;">Jan &#39;21</div>
<div class="t" style="left:577.5px;top:1608.3px;font-size:11.5px;color:#a9b3c5;font-weight:normal;">Jul &#39;21</div>
<div class="t" style="left:757.5px;top:1608.3px;font-size:11.5px;color:#a9b3c5;font-weight:normal;">Jan &#39;22</div>
<div class="t" style="left:935.5px;top:1608.3px;font-size:11.5px;color:#a9b3c5;font-weight:normal;">Jul &#39;22</div>
<div class="t" style="left:1114.5px;top:1608.3px;font-size:11.5px;color:#a9b3c5;font-weight:normal;">Jan &#39;23</div>
<div class="t" style="left:1292.0px;top:1608.3px;font-size:11.5px;color:#a9b3c5;font-weight:normal;">Jul &#39;23</div>
<div class="t" style="left:1471.5px;top:1608.3px;font-size:11.5px;color:#a9b3c5;font-weight:normal;">Jan &#39;24</div>
<div class="t" style="left:1650.5px;top:1608.3px;font-size:11.5px;color:#a9b3c5;font-weight:normal;">Jul &#39;24</div>
<svg width="14" height="14" style="left:527.0px;top:1582px"><circle cx="7" cy="7" r="6" fill="#4572a7"/></svg>
<div class="t" style="left:547.5px;top:1583.5px;font-size:12.7px;color:#333;font-weight:bold;">PnL</div>
<div class="r" style="left:589px;top:1588px;width:16px;height:2px;background:#e8a3a3"></div>
<div class="t" style="left:610.7px;top:1583.5px;font-size:12.7px;color:#333;font-weight:bold;">Benchmark return</div>
<svg width="14" height="14" style="left:742.0px;top:1582px"><circle cx="7" cy="7" r="6" fill="#434348"/></svg>
<div class="t" style="left:762.7px;top:1583.5px;font-size:12.7px;color:#333;font-weight:bold;">Period P&amp;L</div>
<svg width="14" height="14" style="left:849.8px;top:1582px"><circle cx="7" cy="7" r="6" fill="#90ed7d"/></svg>
<div class="t" style="left:870.5px;top:1583.5px;font-size:12.7px;color:#333;font-weight:bold;">Trade Vol</div>
<svg width="14" height="14" style="left:949.8px;top:1582px"><circle cx="7" cy="7" r="6" fill="#f7a35c"/></svg>
<div class="t" style="left:970.5px;top:1583.5px;font-size:12.7px;color:#333;font-weight:bold;">Position long</div>
<svg width="14" height="14" style="left:1072.5px;top:1582px"><circle cx="7" cy="7" r="6" fill="#8085e9"/></svg>
<div class="t" style="left:1093.2px;top:1583.5px;font-size:12.7px;color:#333;font-weight:bold;">Position short</div>
<div class="r" style="left:1199px;top:1588px;width:16px;height:2px;background:#a39766"></div>
<div class="t" style="left:1220.5px;top:1583.5px;font-size:12.7px;color:#333;font-weight:bold;">Asset utilization</div>
</body></html>
